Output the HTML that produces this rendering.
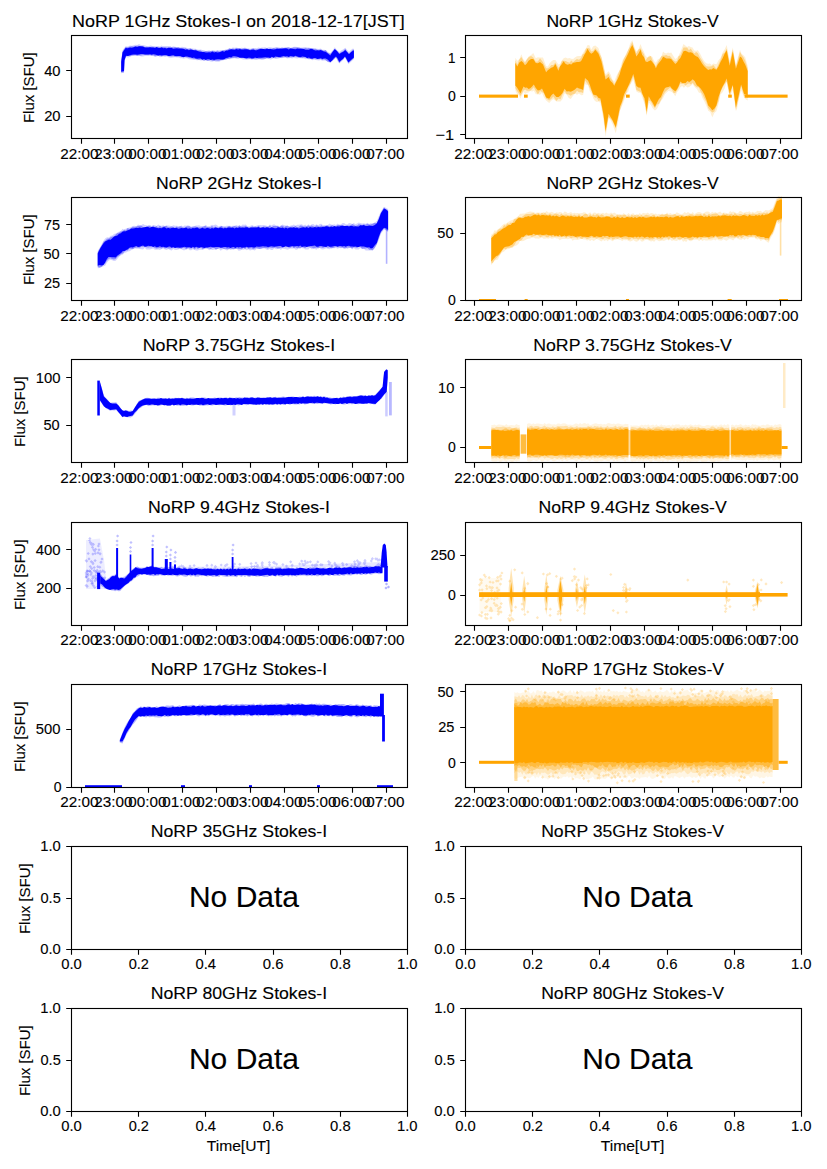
<!DOCTYPE html>
<html><head><meta charset="utf-8"><style>
html,body{margin:0;padding:0;background:#fff;}
svg{display:block;}
text{font-family:"Liberation Sans",sans-serif;fill:#000;stroke:#000;stroke-width:0.12px;}
</style></head><body>
<svg width="827" height="1169" viewBox="0 0 827 1169">
<rect width="827" height="1169" fill="#fff"/>
<polygon points="121.2,60.4 122.5,50.2 125.6,46.3 127.8,46.5 130.0,45.5 131.8,45.8 133.6,45.3 135.4,44.7 137.2,45.0 139.0,44.1 141.0,45.1 143.0,45.1 145.0,45.5 146.7,45.9 148.3,46.4 150.0,45.5 151.7,45.7 153.3,46.2 155.0,46.5 156.7,46.1 158.3,45.9 160.0,46.6 161.7,45.5 163.3,46.6 165.0,46.0 166.7,45.9 168.3,45.9 170.0,46.2 171.7,46.9 173.3,46.2 175.0,46.8 176.7,47.0 178.5,46.9 180.2,47.3 181.9,46.8 183.7,47.0 185.4,47.3 187.1,48.1 188.9,47.9 190.6,48.0 192.3,48.6 194.0,48.7 195.6,48.7 197.3,49.6 199.0,49.7 200.7,49.4 202.3,50.1 204.0,50.3 205.7,51.0 207.4,50.8 209.1,50.2 210.7,51.1 212.4,50.0 214.1,50.4 215.8,50.8 217.4,50.1 219.1,50.5 220.8,49.9 222.5,50.3 224.3,50.0 226.0,49.3 227.7,49.2 229.4,48.1 231.2,48.2 232.9,47.6 234.6,47.7 236.3,47.6 238.1,48.1 239.8,48.3 241.5,47.8 243.2,48.1 244.9,47.5 246.7,48.3 248.4,48.3 250.1,48.8 251.8,48.5 253.5,47.9 255.1,47.9 256.8,48.2 258.5,47.4 260.2,47.9 261.8,47.5 263.5,47.4 265.2,47.3 266.9,48.1 268.6,47.2 270.2,47.3 271.9,47.4 273.6,47.9 275.3,46.9 276.9,47.3 278.6,47.3 280.3,47.7 282.0,47.6 283.7,47.6 285.4,46.9 287.1,47.1 288.7,47.0 290.4,47.7 292.1,47.7 293.8,46.8 295.5,46.8 297.2,46.9 298.9,47.0 300.5,47.4 302.2,47.6 303.9,47.2 305.6,47.0 307.2,47.6 308.9,47.6 310.6,47.9 312.3,48.6 314.0,48.5 315.6,48.5 317.3,48.8 319.0,49.1 320.7,48.5 322.3,49.8 324.0,49.8 325.7,50.1 327.9,51.9 330.2,53.3 332.5,50.5 334.8,47.3 337.1,50.3 339.3,51.9 341.3,50.5 343.3,49.3 345.3,47.8 347.1,50.1 349.0,51.9 350.9,50.1 352.9,48.6 353.9,49.0 353.9,59.0 351.0,61.7 348.4,64.3 346.7,60.7 345.0,57.7 343.1,60.0 341.2,61.8 339.3,63.6 337.6,61.2 336.0,57.0 334.1,59.2 332.1,61.5 330.2,62.9 327.9,62.0 325.7,60.5 324.0,60.4 322.3,60.8 320.7,60.1 319.0,60.6 317.3,60.2 315.6,59.9 314.0,59.7 312.3,60.3 310.6,59.3 308.9,59.4 307.2,59.0 305.6,59.2 303.9,58.6 302.2,58.5 300.5,58.2 298.9,58.0 297.2,58.5 295.5,58.3 293.8,57.9 292.1,58.5 290.4,58.0 288.7,58.2 287.1,58.6 285.4,57.5 283.7,57.7 282.0,58.2 280.3,58.0 278.6,58.5 276.9,59.0 275.3,59.0 273.6,58.3 271.9,59.2 270.2,59.5 268.6,58.7 266.9,58.8 265.2,59.0 263.5,59.7 261.8,60.0 260.2,59.4 258.5,59.4 256.8,60.1 255.1,60.0 253.5,59.4 251.8,60.0 250.1,59.3 248.4,59.5 246.7,59.7 244.9,59.6 243.2,59.6 241.5,59.1 239.8,58.3 238.1,59.0 236.3,58.7 234.6,58.3 232.9,58.6 231.2,59.1 229.4,59.2 227.7,59.1 226.0,59.6 224.3,60.0 222.5,60.4 220.8,61.0 219.1,61.7 217.4,61.8 215.8,61.7 214.1,61.1 212.4,61.7 210.7,61.4 209.1,60.9 207.4,60.9 205.7,60.6 204.0,60.4 202.3,60.5 200.7,60.5 199.0,59.9 197.3,60.3 195.6,60.1 194.0,59.9 192.3,59.7 190.6,59.6 188.9,59.2 187.1,58.3 185.4,58.3 183.7,58.7 181.9,58.2 180.2,58.3 178.5,57.4 176.7,57.5 175.0,57.2 173.3,57.6 171.7,57.8 170.0,57.8 168.3,57.2 166.7,56.5 165.0,57.0 163.3,56.5 161.7,56.8 160.0,57.2 158.3,56.0 156.7,56.1 155.0,56.9 153.3,56.1 151.7,56.1 150.0,55.8 148.3,55.7 146.7,56.1 145.0,56.0 143.0,56.6 141.0,56.4 139.0,55.5 137.2,56.0 135.4,56.1 133.6,56.1 131.8,56.1 130.0,56.8 128.0,57.6 126.0,57.0 124.5,61.4 124.0,72.8 121.2,73.3" fill="#0000ff" fill-opacity="0.18"/>
<polygon points="121.2,61.2 122.5,51.5 125.6,47.0 127.8,47.2 130.0,46.5 131.8,46.3 133.6,46.6 135.4,46.0 137.2,45.8 139.0,45.8 141.0,46.4 143.0,46.3 145.0,46.9 146.7,46.8 148.3,46.8 150.0,47.0 151.7,46.7 153.3,46.8 155.0,46.8 156.7,47.3 158.3,47.0 160.0,47.3 161.7,47.4 163.3,46.7 165.0,47.1 166.7,47.6 168.3,47.6 170.0,46.8 171.7,46.9 173.3,47.4 175.0,47.0 176.7,47.4 178.5,47.3 180.2,48.2 181.9,48.5 183.7,48.8 185.4,48.1 187.1,48.9 188.9,49.0 190.6,48.6 192.3,49.7 194.0,50.1 195.6,49.4 197.3,50.6 199.0,50.2 200.7,50.5 202.3,51.4 204.0,51.4 205.7,50.9 207.4,51.2 209.1,51.3 210.7,51.1 212.4,50.9 214.1,51.1 215.8,51.6 217.4,50.7 219.1,51.4 220.8,51.2 222.5,50.3 224.3,50.2 226.0,50.2 227.7,49.6 229.4,48.6 231.2,49.3 232.9,48.6 234.6,48.9 236.3,48.0 238.1,48.2 239.8,48.0 241.5,49.0 243.2,48.4 244.9,48.3 246.7,48.8 248.4,49.4 250.1,49.4 251.8,48.7 253.5,48.5 255.1,49.4 256.8,48.9 258.5,49.0 260.2,48.2 261.8,48.2 263.5,48.9 265.2,48.5 266.9,48.0 268.6,49.0 270.2,48.6 271.9,48.7 273.6,47.8 275.3,48.6 276.9,47.6 278.6,48.5 280.3,47.9 282.0,47.8 283.7,48.1 285.4,48.5 287.1,47.7 288.7,47.6 290.4,48.0 292.1,47.7 293.8,47.5 295.5,47.6 297.2,47.5 298.9,47.8 300.5,48.0 302.2,48.0 303.9,48.6 305.6,48.1 307.2,48.5 308.9,48.1 310.6,48.4 312.3,48.2 314.0,48.7 315.6,48.7 317.3,49.7 319.0,49.7 320.7,49.5 322.3,50.0 324.0,50.8 325.7,50.0 327.9,52.7 330.2,54.1 332.5,51.4 334.8,49.0 337.1,50.8 339.3,53.2 341.3,52.0 343.3,51.0 345.3,48.8 347.1,51.5 349.0,53.4 350.9,51.7 352.9,49.7 353.9,49.8 353.9,58.2 351.0,60.8 348.4,63.1 346.7,60.2 345.0,56.5 343.1,59.5 341.2,60.7 339.3,62.9 337.6,59.9 336.0,57.4 334.1,59.2 332.1,60.7 330.2,62.1 327.9,61.7 325.7,60.3 324.0,59.3 322.3,60.0 320.7,59.0 319.0,59.3 317.3,59.2 315.6,59.2 314.0,58.8 312.3,59.2 310.6,59.1 308.9,58.9 307.2,58.2 305.6,57.8 303.9,57.5 302.2,58.0 300.5,57.5 298.9,57.8 297.2,57.0 295.5,56.7 293.8,56.6 292.1,57.3 290.4,57.3 288.7,57.6 287.1,57.5 285.4,57.3 283.7,57.2 282.0,57.4 280.3,58.0 278.6,57.8 276.9,57.3 275.3,58.1 273.6,57.7 271.9,57.6 270.2,57.9 268.6,58.6 266.9,57.9 265.2,58.8 263.5,58.7 261.8,58.7 260.2,59.0 258.5,59.1 256.8,58.2 255.1,58.8 253.5,59.1 251.8,59.0 250.1,59.1 248.4,58.8 246.7,59.0 244.9,58.0 243.2,58.1 241.5,57.7 239.8,57.4 238.1,57.5 236.3,57.9 234.6,57.8 232.9,57.9 231.2,57.9 229.4,58.6 227.7,59.1 226.0,59.5 224.3,59.5 222.5,60.0 220.8,60.0 219.1,60.8 217.4,60.7 215.8,60.6 214.1,60.9 212.4,60.8 210.7,59.9 209.1,60.6 207.4,60.7 205.7,60.0 204.0,60.7 202.3,59.7 200.7,59.5 199.0,59.9 197.3,59.4 195.6,59.1 194.0,59.0 192.3,58.5 190.6,58.3 188.9,57.7 187.1,57.6 185.4,57.1 183.7,57.0 181.9,57.2 180.2,56.7 178.5,56.8 176.7,56.3 175.0,56.7 173.3,56.3 171.7,56.5 170.0,56.4 168.3,56.2 166.7,55.7 165.0,56.0 163.3,55.8 161.7,56.5 160.0,55.6 158.3,55.9 156.7,56.3 155.0,56.2 153.3,55.3 151.7,55.4 150.0,55.0 148.3,55.3 146.7,55.0 145.0,54.9 143.0,54.9 141.0,55.4 139.0,55.6 137.2,55.7 135.4,55.0 133.6,55.2 131.8,55.5 130.0,56.2 128.0,55.8 126.0,56.4 124.5,60.3 124.0,72.3 121.2,72.5" fill="#0000ff" fill-opacity="0.35"/>
<polygon points="121.2,62.0 122.5,52.5 125.6,47.9 127.8,48.3 130.0,47.6 131.8,47.8 133.6,47.3 135.4,46.5 137.2,47.0 139.0,46.3 141.0,46.2 143.0,46.6 145.0,47.6 146.7,47.5 148.3,47.4 150.0,47.2 151.7,47.4 153.3,47.4 155.0,48.0 156.7,47.0 158.3,47.9 160.0,48.0 161.7,47.2 163.3,48.3 165.0,48.1 166.7,48.4 168.3,47.7 170.0,47.9 171.7,48.0 173.3,48.8 175.0,48.4 176.7,48.3 178.5,48.5 180.2,48.5 181.9,48.4 183.7,48.7 185.4,49.7 187.1,49.2 188.9,50.2 190.6,49.5 192.3,49.8 194.0,50.3 195.6,50.2 197.3,50.7 199.0,51.6 200.7,51.8 202.3,52.0 204.0,52.0 205.7,52.6 207.4,52.6 209.1,52.2 210.7,52.4 212.4,51.6 214.1,52.4 215.8,52.0 217.4,52.4 219.1,52.3 220.8,51.8 222.5,51.1 224.3,51.8 226.0,50.4 227.7,50.4 229.4,49.8 231.2,49.3 232.9,49.4 234.6,49.7 236.3,49.0 238.1,49.5 239.8,49.1 241.5,49.5 243.2,49.4 244.9,49.2 246.7,49.3 248.4,49.4 250.1,50.3 251.8,49.8 253.5,49.4 255.1,50.2 256.8,50.2 258.5,49.5 260.2,49.1 261.8,49.1 263.5,49.0 265.2,49.2 266.9,48.8 268.6,49.0 270.2,48.9 271.9,49.2 273.6,49.5 275.3,49.3 276.9,48.8 278.6,48.8 280.3,48.8 282.0,48.7 283.7,48.6 285.4,48.3 287.1,48.5 288.7,49.4 290.4,48.4 292.1,48.8 293.8,49.0 295.5,49.2 297.2,48.5 298.9,48.7 300.5,48.7 302.2,48.9 303.9,49.1 305.6,49.7 307.2,49.7 308.9,49.8 310.6,48.8 312.3,49.0 314.0,50.1 315.6,50.5 317.3,50.2 319.0,50.6 320.7,50.1 322.3,50.7 324.0,51.6 325.7,51.7 327.9,53.6 330.2,55.6 332.5,51.9 334.8,48.9 337.1,51.3 339.3,54.0 341.3,52.8 343.3,51.7 345.3,50.1 347.1,52.1 349.0,54.3 350.9,52.2 352.9,50.7 353.9,50.6 353.9,57.4 351.0,59.9 348.4,62.4 346.7,59.2 345.0,56.5 343.1,58.7 341.2,60.2 339.3,62.1 337.6,58.6 336.0,56.5 334.1,58.1 332.1,60.4 330.2,62.2 327.9,59.8 325.7,58.6 324.0,58.6 322.3,59.0 320.7,58.3 319.0,58.7 317.3,59.0 315.6,58.1 314.0,58.1 312.3,58.7 310.6,58.4 308.9,57.6 307.2,58.2 305.6,57.0 303.9,56.7 302.2,56.5 300.5,57.2 298.9,57.1 297.2,56.4 295.5,55.7 293.8,56.8 292.1,56.2 290.4,56.0 288.7,56.9 287.1,56.3 285.4,56.5 283.7,56.0 282.0,56.5 280.3,57.0 278.6,57.1 276.9,56.7 275.3,56.6 273.6,57.7 271.9,56.8 270.2,57.9 268.6,57.4 266.9,57.4 265.2,57.2 263.5,57.4 261.8,57.7 260.2,57.7 258.5,57.8 256.8,58.2 255.1,57.4 253.5,58.3 251.8,58.6 250.1,57.7 248.4,57.7 246.7,58.3 244.9,58.2 243.2,57.8 241.5,57.8 239.8,57.7 238.1,56.9 236.3,56.4 234.6,56.2 232.9,56.2 231.2,57.6 229.4,57.1 227.7,57.8 226.0,57.9 224.3,59.3 222.5,59.4 220.8,59.5 219.1,59.3 217.4,59.2 215.8,59.6 214.1,60.1 212.4,59.4 210.7,59.9 209.1,59.3 207.4,59.3 205.7,60.0 204.0,59.1 202.3,59.7 200.7,58.5 199.0,58.6 197.3,58.7 195.6,58.5 194.0,57.5 192.3,57.9 190.6,57.3 188.9,57.0 187.1,56.5 185.4,56.6 183.7,57.2 181.9,56.8 180.2,56.1 178.5,56.1 176.7,56.3 175.0,55.9 173.3,55.2 171.7,55.5 170.0,55.9 168.3,56.1 166.7,55.2 165.0,55.0 163.3,55.2 161.7,55.6 160.0,55.3 158.3,55.6 156.7,54.9 155.0,54.6 153.3,54.2 151.7,54.8 150.0,54.3 148.3,54.4 146.7,54.6 145.0,54.4 143.0,53.9 141.0,53.9 139.0,54.6 137.2,54.7 135.4,54.4 133.6,54.4 131.8,54.7 130.0,55.3 128.0,56.1 126.0,55.7 124.5,60.3 124.0,71.1 121.2,71.7" fill="#0000ff"/>
<rect x="479.0" y="94.6" width="39.0" height="3.1" fill="#ffa500"/>
<rect x="524.0" y="94.6" width="3.7" height="3.1" fill="#ffa500"/>
<rect x="626.0" y="94.6" width="3.7" height="3.1" fill="#ffa500"/>
<rect x="728.2" y="94.6" width="3.6" height="3.1" fill="#ffa500"/>
<rect x="744.7" y="94.6" width="42.9" height="3.1" fill="#ffa500"/>
<polygon points="515.3,57.7 517.3,60.8 519.3,59.3 521.4,54.2 523.2,58.9 525.0,61.5 526.8,59.2 528.6,56.5 531.0,55.0 533.3,53.1 535.8,58.3 537.9,57.3 540.0,57.5 543.0,57.5 546.1,66.1 547.8,66.4 549.5,63.5 551.2,61.6 553.3,60.0 555.4,60.0 558.4,64.5 560.1,63.7 561.9,60.6 563.6,58.2 565.7,57.5 567.7,58.6 569.5,58.1 571.3,58.7 573.1,58.9 574.9,57.5 576.9,56.2 579.0,56.1 581.0,56.1 582.6,53.4 584.3,50.8 586.0,48.3 587.6,44.9 589.4,45.3 591.2,49.5 593.2,46.3 595.3,45.6 598.4,48.1 601.4,56.4 603.5,64.5 605.6,74.4 608.6,71.3 610.5,74.2 612.4,79.5 614.3,81.6 616.1,76.8 617.9,72.9 619.6,70.2 621.3,64.3 623.0,59.0 624.7,57.0 626.5,52.7 628.2,50.0 630.2,43.2 632.3,40.2 634.3,46.4 636.4,51.6 638.5,49.2 640.5,44.0 642.2,48.5 643.9,51.8 645.6,55.8 647.3,57.5 649.1,55.6 650.8,56.0 652.5,57.1 654.2,61.3 655.9,62.7 657.7,59.6 659.5,58.6 661.3,56.5 663.1,51.4 664.7,53.1 666.3,53.4 668.0,52.4 669.6,53.0 671.2,52.5 673.2,55.8 675.3,59.1 677.0,57.7 678.7,55.5 680.4,51.7 683.5,43.9 685.3,45.4 687.1,47.0 688.9,46.0 690.7,46.9 692.5,47.6 694.3,50.4 696.1,50.7 697.9,50.3 700.0,53.5 702.0,57.4 704.1,61.0 706.2,63.3 708.2,63.8 709.9,63.6 711.6,64.9 713.3,63.6 716.4,64.3 718.5,60.3 720.5,58.1 722.6,52.4 724.6,49.4 726.7,45.0 729.7,60.5 732.8,47.5 735.9,65.4 738.0,56.8 740.0,49.7 741.7,54.0 743.5,55.2 745.2,57.3 747.7,66.0 747.7,100.6 745.9,99.6 744.1,97.5 741.1,90.2 739.0,97.9 737.0,109.0 735.9,111.0 732.8,90.1 729.7,97.2 726.7,81.9 724.6,88.6 722.6,92.3 720.5,94.5 718.5,103.9 716.4,111.3 714.3,112.9 712.3,117.4 710.2,112.0 708.2,110.8 706.2,105.4 704.1,101.1 702.4,97.9 700.6,93.0 698.9,92.8 696.8,89.0 694.8,87.3 692.7,83.9 690.9,85.8 689.2,87.1 687.4,87.5 685.6,86.0 683.9,87.7 682.1,85.9 680.4,87.3 678.7,90.2 677.0,92.2 675.3,96.3 673.6,93.7 671.8,91.9 670.1,91.3 668.4,91.1 666.7,92.6 665.0,94.2 663.0,98.3 661.0,100.9 659.0,105.1 656.9,108.9 654.9,110.6 652.8,108.4 650.8,105.0 648.7,102.2 646.7,115.8 644.6,103.9 642.5,98.3 640.5,92.8 638.5,92.8 636.4,91.6 633.3,79.4 630.2,85.1 628.2,91.7 626.1,93.7 624.1,100.4 622.0,106.0 620.0,110.6 617.9,123.4 615.8,133.2 612.7,124.5 610.7,120.6 608.6,117.8 605.6,136.7 603.5,119.9 600.4,102.9 598.6,101.5 596.8,102.1 595.0,100.9 593.2,98.3 591.5,93.6 589.8,91.2 588.1,85.2 585.0,84.2 583.1,94.9 581.1,95.3 579.0,93.4 577.0,94.7 574.9,93.5 572.9,96.1 570.8,99.0 568.7,97.9 566.7,94.4 564.6,93.6 562.5,99.0 560.5,101.5 558.5,101.6 556.4,101.5 553.3,98.9 551.2,100.7 549.2,103.0 546.1,100.6 544.0,97.6 542.0,93.0 540.0,94.8 537.9,94.3 535.8,94.2 533.8,90.8 532.1,91.6 530.3,90.9 528.6,92.4 526.9,92.9 525.2,93.9 523.5,92.1 520.4,98.6 518.7,95.0 517.0,94.0 515.3,90.4" fill="#ffa500" fill-opacity="0.18"/>
<polygon points="515.3,60.2 517.3,64.6 519.3,59.6 521.4,57.0 523.2,60.5 525.0,62.8 526.8,59.4 528.6,57.2 531.0,56.1 533.3,57.4 535.8,61.8 537.9,61.4 540.0,58.2 543.0,62.2 546.1,68.3 547.8,68.2 549.5,67.2 551.2,65.0 553.3,65.0 555.4,62.5 558.4,67.7 560.1,65.9 561.9,60.8 563.6,60.7 565.7,61.1 567.7,62.0 569.5,62.7 571.3,60.5 573.1,62.2 574.9,60.4 576.9,59.1 579.0,59.7 581.0,58.0 582.6,54.4 584.3,53.3 586.0,48.4 587.6,47.9 589.4,48.2 591.2,51.4 593.2,50.9 595.3,48.2 598.4,51.5 601.4,57.6 603.5,66.5 605.6,76.3 608.6,73.5 610.5,78.0 612.4,80.6 614.3,83.9 616.1,81.0 617.9,74.6 619.6,70.4 621.3,67.2 623.0,60.9 624.7,57.0 626.5,54.3 628.2,49.8 630.2,46.5 632.3,42.0 634.3,48.2 636.4,53.4 638.5,49.6 640.5,48.3 642.2,51.6 643.9,54.3 645.6,60.5 647.3,57.8 649.1,56.8 650.8,56.0 652.5,60.3 654.2,63.8 655.9,66.2 657.7,62.5 659.5,59.5 661.3,56.2 663.1,55.5 664.7,55.5 666.3,55.1 668.0,56.1 669.6,55.7 671.2,57.4 673.2,59.9 675.3,61.5 677.0,61.1 678.7,56.1 680.4,55.2 683.5,47.6 685.3,47.6 687.1,47.6 688.9,50.3 690.7,48.5 692.5,51.2 694.3,53.4 696.1,52.0 697.9,53.2 700.0,57.5 702.0,60.3 704.1,63.7 706.2,66.3 708.2,66.5 709.9,66.6 711.6,66.2 713.3,65.0 716.4,68.7 718.5,64.2 720.5,59.8 722.6,54.0 724.6,52.7 726.7,48.6 729.7,63.2 732.8,49.6 735.9,66.3 738.0,58.9 740.0,51.9 741.7,55.0 743.5,57.2 745.2,60.8 747.7,68.5 747.7,98.1 745.9,96.6 744.1,96.1 741.1,85.9 739.0,96.9 737.0,105.3 735.9,109.5 732.8,85.3 729.7,96.5 726.7,81.5 724.6,83.9 722.6,87.4 720.5,92.0 718.5,101.2 716.4,106.2 714.3,111.5 712.3,112.6 710.2,110.6 708.2,108.0 706.2,101.8 704.1,97.9 702.4,94.2 700.6,91.4 698.9,87.5 696.8,87.2 694.8,85.8 692.7,82.7 690.9,84.6 689.2,83.2 687.4,83.9 685.6,85.4 683.9,84.1 682.1,84.1 680.4,83.4 678.7,87.6 677.0,90.4 675.3,93.1 673.6,93.1 671.8,89.4 670.1,87.7 668.4,88.9 666.7,90.6 665.0,91.9 663.0,95.5 661.0,100.1 659.0,103.7 656.9,104.7 654.9,108.3 652.8,105.2 650.8,101.5 648.7,100.5 646.7,114.7 644.6,102.3 642.5,94.7 640.5,92.1 638.5,90.9 636.4,89.9 633.3,76.2 630.2,84.0 628.2,86.9 626.1,93.3 624.1,97.7 622.0,103.7 620.0,110.1 617.9,118.4 615.8,128.6 612.7,121.7 610.7,118.7 608.6,116.9 605.6,132.9 603.5,116.3 600.4,100.1 598.6,101.2 596.8,97.4 595.0,97.7 593.2,95.2 591.5,91.4 589.8,88.0 588.1,84.4 585.0,80.5 583.1,93.1 581.1,92.2 579.0,92.3 577.0,90.8 574.9,93.7 572.9,94.2 570.8,95.7 568.7,94.5 566.7,94.3 564.6,91.2 562.5,94.5 560.5,99.2 558.5,98.6 556.4,100.9 553.3,96.4 551.2,98.9 549.2,100.4 546.1,98.5 544.0,93.6 542.0,92.0 540.0,91.1 537.9,94.4 535.8,90.9 533.8,87.2 532.1,89.0 530.3,90.8 528.6,90.7 526.9,90.7 525.2,89.5 523.5,90.5 520.4,96.1 518.7,93.3 517.0,91.0 515.3,87.9" fill="#ffa500" fill-opacity="0.35"/>
<polygon points="515.3,62.7 517.3,66.5 519.3,62.5 521.4,61.1 523.2,62.6 525.0,65.2 526.8,63.6 528.6,60.7 531.0,58.9 533.3,58.9 535.8,63.0 537.9,63.3 540.0,62.1 543.0,64.4 546.1,72.3 547.8,70.3 549.5,69.1 551.2,67.7 553.3,67.1 555.4,64.0 558.4,70.8 560.1,66.3 561.9,63.9 563.6,61.2 565.7,64.1 567.7,64.8 569.5,64.0 571.3,64.5 573.1,62.7 574.9,62.6 576.9,62.1 579.0,61.9 581.0,61.2 582.6,58.2 584.3,54.7 586.0,51.9 587.6,48.7 589.4,52.1 591.2,53.8 593.2,52.4 595.3,49.7 598.4,53.4 601.4,61.2 603.5,70.6 605.6,79.5 608.6,77.0 610.5,81.0 612.4,82.8 614.3,85.8 616.1,81.9 617.9,78.6 619.6,74.4 621.3,68.6 623.0,64.1 624.7,60.5 626.5,56.9 628.2,53.5 630.2,48.7 632.3,45.0 634.3,49.8 636.4,56.6 638.5,53.5 640.5,49.6 642.2,55.1 643.9,57.1 645.6,61.5 647.3,62.0 649.1,61.0 650.8,60.2 652.5,62.3 654.2,64.6 655.9,68.2 657.7,64.5 659.5,62.2 661.3,60.0 663.1,56.7 664.7,57.6 666.3,58.6 668.0,58.6 669.6,58.4 671.2,58.9 673.2,61.6 675.3,64.1 677.0,62.6 678.7,59.8 680.4,58.1 683.5,51.2 685.3,50.8 687.1,51.6 688.9,52.5 690.7,52.3 692.5,53.0 694.3,55.0 696.1,56.3 697.9,57.1 700.0,60.1 702.0,63.4 704.1,66.2 706.2,68.2 708.2,69.9 709.9,69.3 711.6,69.5 713.3,68.1 716.4,69.8 718.5,66.4 720.5,62.1 722.6,58.2 724.6,53.7 726.7,50.2 729.7,65.7 732.8,51.6 735.9,68.7 738.0,62.6 740.0,56.5 741.7,57.7 743.5,61.4 745.2,64.4 747.7,71.0 747.7,95.6 745.9,94.5 744.1,94.1 741.1,84.4 739.0,93.9 737.0,102.2 735.9,107.7 732.8,84.9 729.7,93.4 726.7,78.5 724.6,82.9 722.6,86.6 720.5,91.3 718.5,97.0 716.4,105.5 714.3,108.8 712.3,110.3 710.2,107.6 708.2,105.5 706.2,99.2 704.1,93.9 702.4,91.1 700.6,88.6 698.9,86.7 696.8,85.2 694.8,81.3 692.7,79.2 690.9,81.0 689.2,81.9 687.4,81.1 685.6,82.9 683.9,83.1 682.1,83.0 680.4,81.4 678.7,86.1 677.0,89.3 675.3,91.2 673.6,90.1 671.8,88.4 670.1,86.3 668.4,87.0 666.7,87.3 665.0,87.9 663.0,92.1 661.0,97.1 659.0,99.1 656.9,102.9 654.9,106.9 652.8,103.1 650.8,99.9 648.7,96.2 646.7,111.7 644.6,98.4 642.5,94.2 640.5,87.7 638.5,87.5 636.4,86.0 633.3,74.0 630.2,81.8 628.2,86.3 626.1,90.4 624.1,94.3 622.0,101.7 620.0,106.5 617.9,117.4 615.8,127.4 612.7,120.6 610.7,117.3 608.6,113.7 605.6,130.9 603.5,114.6 600.4,98.5 598.6,98.0 596.8,95.6 595.0,94.9 593.2,94.5 591.5,89.9 589.8,84.8 588.1,80.7 585.0,77.9 583.1,89.9 581.1,89.0 579.0,88.6 577.0,87.4 574.9,89.6 572.9,90.7 570.8,91.7 568.7,91.3 566.7,91.5 564.6,88.7 562.5,93.1 560.5,95.4 558.5,97.0 556.4,97.1 553.3,93.5 551.2,95.5 549.2,98.7 546.1,97.4 544.0,92.8 542.0,88.4 540.0,89.9 537.9,90.6 535.8,88.1 533.8,84.6 532.1,86.4 530.3,88.3 528.6,89.0 526.9,87.4 525.2,87.8 523.5,86.5 520.4,93.5 518.7,90.2 517.0,87.6 515.3,85.4" fill="#ffa500"/>
<polygon points="97.7,251.0 100.3,246.7 102.0,243.6 103.7,240.6 105.4,238.2 107.1,237.3 108.9,237.4 110.6,235.8 112.3,235.6 114.0,233.9 115.7,233.6 117.4,232.6 119.1,231.6 120.8,231.2 122.5,228.8 124.2,229.8 125.9,228.4 127.7,227.9 129.4,227.4 131.1,227.1 132.8,225.9 134.5,225.7 136.2,226.5 138.0,224.5 139.7,225.3 141.4,225.1 143.1,223.9 144.8,225.1 146.4,225.3 148.1,225.9 149.8,224.7 151.5,226.1 153.2,225.2 154.8,225.2 156.5,226.1 158.2,224.4 159.9,225.8 161.6,225.7 163.2,225.2 164.9,226.3 166.6,225.4 168.3,225.6 170.0,225.8 171.6,226.3 173.3,225.3 175.0,225.8 176.6,225.7 178.2,226.0 179.8,226.5 181.4,225.4 183.0,226.5 184.7,225.6 186.3,225.8 187.9,225.3 189.5,225.8 191.1,226.7 192.7,226.1 194.3,226.3 195.9,225.4 197.5,225.4 199.1,225.3 200.8,225.9 202.4,226.0 204.0,226.2 205.6,224.7 207.2,226.1 208.8,226.4 210.4,225.7 212.0,224.7 213.6,225.2 215.2,224.6 216.9,225.0 218.5,226.4 220.1,225.8 221.7,225.9 223.3,226.1 224.9,226.3 226.5,225.7 228.1,225.7 229.7,225.7 231.3,225.9 233.0,225.7 234.6,225.8 236.2,224.9 237.8,225.8 239.4,225.3 241.0,225.9 242.6,224.6 244.2,224.8 245.8,224.5 247.4,225.9 249.0,226.2 250.6,225.7 252.2,225.1 253.8,226.0 255.4,226.0 257.0,225.5 258.6,224.9 260.2,225.0 261.8,225.2 263.4,225.0 265.0,225.3 266.6,225.7 268.2,226.3 269.9,224.5 271.5,225.5 273.1,224.5 274.7,224.6 276.3,226.0 277.9,225.6 279.5,226.2 281.1,225.3 282.7,224.4 284.3,225.2 285.9,225.6 287.5,226.3 289.1,226.4 290.7,225.4 292.3,225.2 293.9,224.6 295.5,225.7 297.1,224.8 298.7,224.7 300.3,224.4 301.9,224.3 303.6,225.6 305.2,224.4 306.8,226.1 308.4,224.3 310.0,225.8 311.7,224.2 313.3,224.0 314.9,225.3 316.5,224.3 318.2,225.2 319.8,224.1 321.4,223.8 323.0,225.2 324.6,225.0 326.3,225.2 327.9,224.9 329.5,223.6 331.1,224.6 332.7,224.7 334.4,224.2 336.0,225.1 337.6,223.6 339.2,225.0 340.8,224.5 342.5,223.0 344.1,223.0 345.7,224.2 347.3,224.5 349.0,222.9 350.6,223.3 352.2,224.1 353.8,222.9 355.4,224.3 357.1,223.5 358.7,222.6 360.3,223.1 362.1,223.5 363.8,223.3 365.6,223.8 367.4,222.7 369.2,224.0 370.9,223.1 372.7,223.7 374.8,222.6 376.8,221.1 378.9,215.9 380.9,211.6 384.0,206.8 386.1,208.0 388.1,209.0 388.1,232.3 386.1,230.4 384.0,229.6 380.9,233.7 378.9,239.8 376.8,244.6 374.8,248.3 372.7,250.5 370.9,250.4 369.2,250.5 367.4,250.6 365.6,250.5 363.8,248.5 362.1,248.9 360.3,248.0 358.7,249.5 357.1,249.4 355.4,249.6 353.8,248.1 352.2,249.6 350.6,247.8 349.0,248.1 347.3,249.1 345.7,247.7 344.1,249.1 342.5,248.0 340.8,248.2 339.2,248.0 337.6,248.7 336.0,247.9 334.4,248.2 332.7,248.3 331.1,247.9 329.5,249.2 327.9,248.9 326.3,248.3 324.6,249.1 323.0,249.6 321.4,249.2 319.8,248.0 318.2,247.8 316.5,249.7 314.9,249.0 313.3,249.1 311.7,249.3 310.0,247.8 308.4,249.4 306.8,249.5 305.2,249.5 303.6,248.4 301.9,248.2 300.3,247.8 298.7,248.1 297.1,249.7 295.5,249.7 293.8,248.1 292.2,248.7 290.6,248.6 289.0,249.2 287.3,249.8 285.7,249.2 284.1,249.1 282.5,248.5 280.8,249.9 279.2,248.3 277.6,248.9 276.0,249.3 274.3,248.3 272.7,250.0 271.1,250.1 269.5,249.1 267.9,250.0 266.2,249.4 264.6,248.4 263.0,248.5 261.4,248.7 259.7,248.8 258.1,248.5 256.5,249.0 254.9,250.4 253.2,250.1 251.6,250.1 250.0,250.5 248.4,249.4 246.7,250.2 245.1,249.2 243.5,249.8 241.9,249.7 240.2,250.5 238.6,250.8 237.0,248.9 235.4,248.8 233.7,249.8 232.1,249.5 230.5,250.0 228.8,249.1 227.2,250.4 225.6,250.0 223.9,249.0 222.3,249.5 220.7,250.8 219.1,248.9 217.4,249.1 215.8,249.8 214.2,249.6 212.5,249.9 210.9,249.5 209.3,250.2 207.6,249.1 206.0,249.1 204.4,249.1 202.7,249.9 201.1,249.7 199.5,249.8 197.8,250.5 196.2,250.5 194.6,249.9 192.9,249.2 191.3,250.3 189.7,250.3 188.1,248.9 186.4,249.6 184.8,250.3 183.2,250.2 181.5,249.2 179.9,249.1 178.3,249.6 176.6,250.1 175.0,249.9 173.3,249.1 171.6,250.5 170.0,250.0 168.3,248.9 166.6,250.0 164.9,249.5 163.2,248.5 161.6,249.0 159.9,250.0 158.2,249.5 156.5,249.7 154.8,249.7 153.2,248.5 151.5,249.1 149.8,249.6 148.1,249.4 146.4,249.4 144.8,247.8 143.1,249.4 141.4,249.2 139.7,249.0 138.0,248.8 136.2,248.7 134.5,248.3 132.8,249.1 131.1,250.3 129.5,251.3 127.8,251.5 126.2,252.5 124.5,252.7 122.9,254.6 121.1,255.2 119.3,256.5 117.5,258.7 115.7,260.7 113.9,261.0 112.1,260.2 110.3,259.7 108.5,260.7 106.8,262.8 105.1,265.7 103.4,266.2 101.5,267.1 99.6,268.0 97.7,268.2" fill="#0000ff" fill-opacity="0.18"/>
<polygon points="97.7,252.2 100.3,247.5 102.0,244.8 103.7,241.6 105.4,240.6 107.1,238.8 108.9,238.4 110.6,237.2 112.3,236.4 114.0,236.5 115.7,234.5 117.4,233.1 119.1,232.7 120.8,231.3 122.5,231.8 124.2,229.6 125.9,230.6 127.7,228.1 129.4,229.1 131.1,227.9 132.8,226.8 134.5,227.0 136.2,226.4 138.0,226.0 139.7,225.7 141.4,225.7 143.1,227.0 144.8,227.1 146.4,227.0 148.1,225.4 149.8,225.9 151.5,227.1 153.2,225.5 154.8,226.9 156.5,226.1 158.2,227.5 159.9,225.6 161.6,227.3 163.2,226.4 164.9,226.1 166.6,225.8 168.3,227.5 170.0,227.0 171.6,226.4 173.3,226.9 175.0,227.9 176.6,226.5 178.2,227.2 179.8,226.3 181.4,226.4 183.0,227.6 184.7,227.5 186.3,226.4 187.9,226.2 189.5,226.2 191.1,227.2 192.7,227.0 194.3,226.5 195.9,226.4 197.5,227.2 199.1,227.3 200.8,227.5 202.4,227.1 204.0,226.3 205.6,226.0 207.2,227.3 208.8,226.7 210.4,227.3 212.0,225.9 213.6,227.4 215.2,226.5 216.9,227.5 218.5,227.5 220.1,226.7 221.7,225.8 223.3,227.6 224.9,226.7 226.5,227.5 228.1,226.2 229.7,226.1 231.3,227.3 233.0,226.4 234.6,226.0 236.2,226.4 237.8,226.8 239.4,225.6 241.0,226.6 242.6,226.5 244.2,226.6 245.8,225.8 247.4,227.0 249.0,227.2 250.6,227.3 252.2,226.2 253.8,227.0 255.4,226.4 257.0,227.1 258.6,225.7 260.2,227.3 261.8,227.5 263.4,226.6 265.0,226.6 266.6,226.7 268.2,226.7 269.9,225.6 271.5,227.5 273.1,226.0 274.7,226.0 276.3,225.8 277.9,226.1 279.5,227.2 281.1,225.7 282.7,225.8 284.3,227.0 285.9,226.0 287.5,225.6 289.1,226.8 290.7,226.8 292.3,226.6 293.9,227.0 295.5,225.8 297.1,227.3 298.7,227.0 300.3,225.6 301.9,225.7 303.6,226.4 305.2,226.4 306.8,225.9 308.4,225.5 310.0,226.0 311.7,225.5 313.3,226.3 314.9,226.8 316.5,225.3 318.2,226.1 319.8,226.4 321.4,225.2 323.0,226.5 324.6,226.6 326.3,225.5 327.9,225.5 329.5,226.3 331.1,225.6 332.7,225.3 334.4,226.3 336.0,225.9 337.6,225.0 339.2,224.8 340.8,224.9 342.5,225.1 344.1,226.1 345.7,225.7 347.3,225.8 349.0,225.6 350.6,225.6 352.2,224.0 353.8,224.8 355.4,225.7 357.1,225.6 358.7,224.2 360.3,224.4 362.1,224.9 363.8,224.3 365.6,224.7 367.4,223.7 369.2,224.5 370.9,224.6 372.7,223.6 374.8,222.8 376.8,223.4 378.9,217.9 380.9,213.1 384.0,207.4 386.1,209.3 388.1,210.2 388.1,231.1 386.1,230.1 384.0,228.6 380.9,232.5 378.9,238.1 376.8,244.2 374.8,247.5 372.7,250.2 370.9,249.7 369.2,249.8 367.4,247.9 365.6,248.4 363.8,248.8 362.1,248.8 360.3,247.1 358.7,246.8 357.1,248.1 355.4,247.6 353.8,247.2 352.2,248.5 350.6,247.7 349.0,247.4 347.3,247.5 345.7,248.4 344.1,248.3 342.5,247.6 340.8,247.6 339.2,247.3 337.6,247.2 336.0,246.7 334.4,247.6 332.7,247.9 331.1,248.4 329.5,247.2 327.9,247.7 326.3,247.2 324.6,247.3 323.0,247.9 321.4,247.5 319.8,247.5 318.2,248.5 316.5,247.6 314.9,248.0 313.3,248.3 311.7,247.5 310.0,247.6 308.4,246.6 306.8,246.5 305.2,248.3 303.6,247.4 301.9,246.9 300.3,248.4 298.7,248.2 297.1,248.2 295.5,247.2 293.8,248.4 292.2,246.8 290.6,247.8 289.0,247.8 287.3,247.0 285.7,247.3 284.1,247.1 282.5,247.7 280.8,247.8 279.2,248.5 277.6,248.5 276.0,247.5 274.3,247.7 272.7,248.1 271.1,247.8 269.5,247.6 267.9,248.5 266.2,248.0 264.6,248.0 263.0,247.9 261.4,248.4 259.7,248.9 258.1,248.8 256.5,248.1 254.9,248.4 253.2,249.2 251.6,248.3 250.0,248.5 248.4,248.9 246.7,247.4 245.1,249.2 243.5,247.7 241.9,249.3 240.2,249.0 238.6,249.1 237.0,248.6 235.4,249.1 233.7,249.1 232.1,249.1 230.5,248.6 228.8,249.2 227.2,249.3 225.6,248.8 223.9,248.9 222.3,248.3 220.7,248.2 219.1,247.9 217.4,249.0 215.8,249.5 214.2,248.0 212.5,247.8 210.9,249.0 209.3,248.4 207.6,248.3 206.0,247.7 204.4,248.4 202.7,249.3 201.1,247.7 199.5,247.9 197.8,249.1 196.2,248.1 194.6,249.5 192.9,248.1 191.3,248.5 189.7,248.6 188.1,248.0 186.4,249.2 184.8,248.2 183.2,247.5 181.5,248.7 179.9,248.3 178.3,248.5 176.6,247.9 175.0,248.0 173.3,248.1 171.6,248.3 170.0,248.6 168.3,248.4 166.6,248.1 164.9,248.6 163.2,247.5 161.6,248.4 159.9,248.1 158.2,248.2 156.5,248.6 154.8,247.9 153.2,247.0 151.5,247.2 149.8,247.3 148.1,247.4 146.4,247.2 144.8,246.8 143.1,246.7 141.4,246.7 139.7,247.7 138.0,247.7 136.2,247.5 134.5,248.2 132.8,249.2 131.1,248.7 129.5,248.6 127.8,250.4 126.2,250.6 124.5,251.4 122.9,253.5 121.1,254.0 119.3,255.7 117.5,256.8 115.7,259.0 113.9,259.6 112.1,258.9 110.3,258.3 108.5,259.2 106.8,260.7 105.1,263.8 103.4,265.0 101.5,267.0 99.6,267.4 97.7,267.0" fill="#0000ff" fill-opacity="0.35"/>
<polygon points="97.7,253.4 100.3,248.3 102.0,245.5 103.7,243.1 105.4,241.3 107.1,240.6 108.9,239.6 110.6,239.8 112.3,238.3 114.0,236.4 115.7,235.9 117.4,235.4 119.1,233.7 120.8,233.2 122.5,231.5 124.2,231.3 125.9,231.3 127.7,230.3 129.4,229.7 131.1,228.4 132.8,228.5 134.5,228.3 136.2,227.7 138.0,227.9 139.7,227.5 141.4,227.9 143.1,227.4 144.8,227.2 146.4,226.8 148.1,226.9 149.8,227.8 151.5,227.0 153.2,227.0 154.8,227.2 156.5,227.7 158.2,228.2 159.9,228.0 161.6,228.3 163.2,227.3 164.9,227.3 166.6,228.4 168.3,227.8 170.0,228.4 171.6,228.0 173.3,227.8 175.0,228.0 176.6,227.7 178.2,228.8 179.8,228.4 181.4,228.0 183.0,228.2 184.7,228.1 186.3,227.6 187.9,228.7 189.5,228.3 191.1,228.8 192.7,228.1 194.3,228.3 195.9,227.8 197.5,227.5 199.1,228.7 200.8,228.6 202.4,227.8 204.0,228.6 205.6,228.5 207.2,227.8 208.8,228.2 210.4,228.7 212.0,228.0 213.6,228.6 215.2,227.6 216.9,227.8 218.5,228.3 220.1,227.6 221.7,227.7 223.3,228.5 224.9,227.9 226.5,228.3 228.1,227.5 229.7,227.4 231.3,227.7 233.0,227.4 234.6,228.5 236.2,227.5 237.8,227.9 239.4,227.3 241.0,227.8 242.6,227.6 244.2,227.7 245.8,227.2 247.4,227.3 249.0,228.3 250.6,227.6 252.2,227.4 253.8,227.4 255.4,227.5 257.0,227.4 258.6,227.1 260.2,228.0 261.8,227.6 263.4,227.3 265.0,228.1 266.6,227.2 268.2,227.5 269.9,228.3 271.5,227.3 273.1,227.7 274.7,228.3 276.3,228.2 277.9,227.3 279.5,227.6 281.1,228.1 282.7,227.6 284.3,228.4 285.9,227.4 287.5,228.4 289.1,227.8 290.7,227.4 292.3,227.7 293.9,227.3 295.5,228.1 297.1,227.5 298.7,228.4 300.3,227.9 301.9,227.5 303.6,227.3 305.2,227.7 306.8,227.1 308.4,228.0 310.0,226.9 311.7,227.4 313.3,227.4 314.9,227.0 316.5,227.6 318.2,227.0 319.8,227.3 321.4,227.2 323.0,226.7 324.6,226.8 326.3,226.3 327.9,226.4 329.5,227.3 331.1,226.5 332.7,226.9 334.4,226.1 336.0,226.7 337.6,226.3 339.2,226.5 340.8,226.1 342.5,225.8 344.1,226.1 345.7,225.9 347.3,225.7 349.0,226.5 350.6,225.8 352.2,225.9 353.8,226.6 355.4,226.3 357.1,226.4 358.7,226.4 360.3,225.3 362.1,225.5 363.8,225.1 365.6,226.1 367.4,226.0 369.2,225.6 370.9,225.7 372.7,226.0 374.8,225.0 376.8,223.3 378.9,219.0 380.9,213.2 384.0,208.5 386.1,209.4 388.1,211.4 388.1,229.9 386.1,228.4 384.0,227.7 380.9,231.4 378.9,236.5 376.8,242.9 374.8,245.2 372.7,247.9 370.9,248.4 369.2,247.2 367.4,247.6 365.6,246.9 363.8,246.4 362.1,246.6 360.3,246.3 358.7,246.9 357.1,246.9 355.4,246.6 353.8,246.7 352.2,246.5 350.6,246.4 349.0,245.7 347.3,245.9 345.7,246.8 344.1,246.1 342.5,246.4 340.8,246.1 339.2,246.0 337.6,246.8 336.0,245.9 334.4,246.1 332.7,246.6 331.1,246.8 329.5,246.7 327.9,245.8 326.3,246.9 324.6,246.8 323.0,246.5 321.4,245.9 319.8,246.0 318.2,246.8 316.5,246.7 314.9,245.6 313.3,245.8 311.7,245.9 310.0,246.0 308.4,246.5 306.8,246.9 305.2,246.5 303.6,246.5 301.9,246.9 300.3,245.6 298.7,246.4 297.1,245.9 295.5,246.3 293.8,246.4 292.2,245.9 290.6,246.5 289.0,247.1 287.3,246.8 285.7,245.9 284.1,246.9 282.5,247.3 280.8,245.9 279.2,246.0 277.6,246.2 276.0,246.5 274.3,246.7 272.7,246.5 271.1,246.3 269.5,246.7 267.9,247.1 266.2,246.5 264.6,246.6 263.0,246.3 261.4,246.6 259.7,246.8 258.1,246.7 256.5,246.5 254.9,247.5 253.2,247.5 251.6,247.1 250.0,247.3 248.4,247.4 246.7,246.8 245.1,247.6 243.5,247.4 241.9,247.8 240.2,247.1 238.6,247.5 237.0,246.9 235.4,247.9 233.7,247.1 232.1,247.2 230.5,248.0 228.8,247.3 227.2,247.4 225.6,247.0 223.9,247.0 222.3,247.6 220.7,247.7 219.1,246.9 217.4,247.1 215.8,246.9 214.2,247.2 212.5,247.2 210.9,246.7 209.3,247.0 207.6,247.4 206.0,247.5 204.4,248.0 202.7,247.4 201.1,247.0 199.5,247.8 197.8,247.6 196.2,246.7 194.6,247.7 192.9,246.8 191.3,247.9 189.7,247.3 188.1,247.2 186.4,247.6 184.8,246.7 183.2,247.2 181.5,247.5 179.9,247.8 178.3,247.6 176.6,247.6 175.0,247.9 173.3,247.1 171.6,247.8 170.0,246.6 168.3,246.8 166.6,247.5 164.9,247.3 163.2,246.8 161.6,247.1 159.9,246.2 158.2,247.1 156.5,247.3 154.8,246.2 153.2,247.0 151.5,246.0 149.8,246.1 148.1,245.8 146.4,246.5 144.8,246.8 143.1,245.6 141.4,245.9 139.7,246.8 138.0,247.0 136.2,246.1 134.5,246.7 132.8,247.4 131.1,247.2 129.5,247.8 127.8,249.2 126.2,249.9 124.5,251.1 122.9,251.0 121.1,253.1 119.3,254.2 117.5,255.4 115.7,257.4 113.9,257.3 112.1,257.2 110.3,257.1 108.5,257.0 106.8,259.3 105.1,262.6 103.4,265.0 101.5,265.6 99.6,264.9 97.7,265.8" fill="#0000ff"/>
<rect x="385.8" y="229.0" width="1.6" height="34.8" fill="#0000ff" fill-opacity="0.3"/>
<polygon points="491.3,234.5 492.9,233.5 494.6,230.3 496.2,230.7 497.9,229.3 500.0,227.7 502.0,225.4 504.1,223.7 505.7,223.8 507.4,222.6 509.0,221.6 510.7,220.5 512.3,220.0 514.3,218.8 516.4,217.5 518.4,216.0 520.1,213.8 521.7,213.7 523.4,213.6 525.0,213.5 526.7,212.5 528.4,211.9 530.1,211.4 531.9,211.8 533.6,211.9 535.3,212.9 537.0,212.5 538.6,212.5 540.2,212.8 541.9,212.8 543.5,212.1 545.1,212.6 546.7,210.9 548.3,212.4 550.0,212.4 551.6,211.7 553.2,212.4 554.8,213.4 556.5,212.3 558.1,212.8 559.7,212.0 561.3,212.2 562.9,213.6 564.6,211.6 566.2,212.1 567.8,213.3 569.4,212.8 571.0,212.0 572.6,213.4 574.2,212.7 575.8,213.2 577.4,212.9 579.0,213.2 580.6,213.3 582.2,212.9 583.8,212.2 585.4,212.4 587.0,214.2 588.6,213.4 590.2,212.3 591.8,214.2 593.4,212.7 595.0,212.4 596.6,213.4 598.2,212.8 599.8,213.4 601.4,213.6 603.0,212.8 604.6,213.7 606.2,212.6 607.8,213.6 609.4,213.8 611.0,212.6 612.6,213.4 614.2,212.6 615.8,213.5 617.4,214.6 619.0,213.9 620.6,214.3 622.2,214.4 623.8,212.9 625.4,215.0 627.0,214.4 628.6,212.9 630.2,214.7 631.8,213.7 633.4,213.2 635.0,215.1 636.6,214.1 638.2,214.6 639.8,213.0 641.4,214.5 643.0,212.8 644.6,213.2 646.2,213.5 647.8,212.6 649.4,214.0 651.0,213.0 652.6,213.2 654.2,214.1 655.8,213.4 657.4,214.5 659.0,213.8 660.6,214.4 662.2,213.6 663.9,214.5 665.5,214.3 667.1,212.6 668.7,213.9 670.3,212.9 671.9,213.9 673.5,213.7 675.1,214.0 676.7,212.3 678.3,212.9 679.9,213.7 681.5,214.2 683.1,213.6 684.7,212.0 686.3,213.3 687.9,212.0 689.5,213.1 691.1,213.7 692.7,212.0 694.3,213.9 695.9,213.3 697.6,212.2 699.2,212.1 700.8,212.6 702.4,213.6 704.0,212.9 705.7,211.8 707.3,211.5 708.9,211.7 710.5,213.3 712.2,211.8 713.8,212.7 715.4,212.0 717.0,213.0 718.6,212.2 720.3,211.6 721.9,213.3 723.5,212.5 725.1,212.8 726.7,213.1 728.4,213.4 730.0,211.1 731.6,211.9 733.2,211.4 734.8,212.2 736.5,213.1 738.1,212.9 739.7,211.0 741.3,211.3 743.0,212.8 744.6,212.5 746.2,211.8 747.8,211.9 749.4,211.2 751.1,212.8 752.7,211.7 754.3,212.8 755.9,212.1 757.5,210.7 759.1,211.2 760.7,210.8 762.3,212.3 763.9,211.4 765.5,210.0 767.1,210.2 768.7,210.6 770.8,209.3 772.8,208.0 774.8,202.6 776.9,197.5 778.6,196.0 780.3,196.8 782.0,195.9 782.0,222.2 780.3,222.5 778.6,224.0 776.9,222.6 774.8,230.1 772.8,234.5 770.8,237.8 768.7,242.7 767.1,241.9 765.5,240.2 763.9,239.8 762.3,240.0 760.7,241.0 759.1,238.9 757.5,239.4 755.9,238.9 754.3,237.5 752.7,237.8 751.1,237.6 749.4,237.8 747.8,239.4 746.2,238.2 744.6,240.1 743.0,238.7 741.3,239.7 739.7,239.5 738.1,239.1 736.5,238.0 734.8,238.4 733.2,240.4 731.6,239.4 730.0,238.9 728.4,239.4 726.7,240.7 725.1,240.2 723.5,239.2 721.9,240.4 720.3,240.4 718.6,240.3 717.0,239.3 715.4,240.5 713.8,239.6 712.2,240.3 710.5,240.5 708.9,240.3 707.3,240.4 705.7,240.4 704.0,240.1 702.4,241.1 700.8,239.4 699.2,241.1 697.6,239.7 695.9,239.8 694.3,239.7 692.7,240.3 691.1,241.2 689.5,241.0 687.9,239.6 686.3,241.9 684.7,240.9 683.1,241.7 681.5,239.5 679.9,240.6 678.3,240.1 676.7,240.9 675.1,240.7 673.5,240.3 671.9,241.0 670.3,239.6 668.7,240.5 667.1,239.6 665.5,240.3 663.9,241.1 662.2,240.5 660.6,241.1 659.0,241.3 657.4,240.3 655.8,240.0 654.2,241.7 652.6,241.0 651.0,241.6 649.4,240.8 647.8,240.0 646.2,239.8 644.6,240.3 643.0,241.6 641.4,241.4 639.8,239.7 638.2,240.9 636.6,241.8 635.0,241.3 633.4,239.9 631.8,241.0 630.2,241.5 628.6,240.9 627.0,239.9 625.4,240.3 623.8,239.9 622.2,241.0 620.6,239.9 619.0,239.7 617.4,239.3 615.8,239.8 614.2,239.9 612.6,241.3 611.0,240.3 609.4,239.3 607.8,241.2 606.2,240.1 604.6,240.9 603.0,239.9 601.4,241.4 599.8,240.4 598.2,239.4 596.6,239.1 595.0,240.3 593.4,241.1 591.8,239.7 590.2,241.1 588.6,240.1 587.0,240.5 585.4,239.5 583.8,239.5 582.2,238.9 580.6,239.1 579.0,239.4 577.4,240.0 575.8,239.7 574.2,239.7 572.6,240.7 571.0,238.6 569.4,238.8 567.8,239.3 566.2,239.0 564.6,238.9 562.9,239.0 561.3,239.2 559.7,240.3 558.1,238.6 556.5,238.5 554.8,237.8 553.2,238.5 551.6,238.7 550.0,238.1 548.3,238.7 546.7,238.3 545.1,238.7 543.5,238.7 541.9,237.5 540.2,238.3 538.6,238.8 537.0,238.5 535.3,238.5 533.6,237.4 531.9,237.8 530.1,238.6 528.4,238.8 526.7,239.3 525.0,240.3 523.4,240.9 521.7,241.2 520.1,240.8 518.4,243.9 516.4,245.5 514.3,246.2 512.3,248.1 510.7,247.9 509.0,249.1 507.4,249.2 505.7,249.8 504.1,251.4 502.0,252.5 500.0,254.7 497.9,259.4 496.2,259.9 494.6,260.6 492.9,263.1 491.3,265.3" fill="#ffa500" fill-opacity="0.18"/>
<polygon points="491.3,236.3 492.9,235.1 494.6,232.9 496.2,232.4 497.9,230.1 500.0,228.4 502.0,228.4 504.1,225.1 505.7,225.7 507.4,223.3 509.0,223.9 510.7,222.5 512.3,222.8 514.3,219.1 516.4,218.7 518.4,216.6 520.1,217.4 521.7,217.0 523.4,215.8 525.0,214.5 526.7,214.1 528.4,213.9 530.1,214.1 531.9,213.4 533.6,213.1 535.3,214.2 537.0,213.6 538.6,212.9 540.2,214.6 541.9,212.8 543.5,213.8 545.1,212.8 546.7,214.6 548.3,214.7 550.0,213.3 551.6,214.6 553.2,214.8 554.8,213.6 556.5,213.8 558.1,214.2 559.7,215.3 561.3,213.6 562.9,214.9 564.6,214.8 566.2,214.5 567.8,214.9 569.4,215.6 571.0,214.1 572.6,215.7 574.2,214.5 575.8,215.5 577.4,215.7 579.0,214.1 580.6,215.8 582.2,216.1 583.8,214.5 585.4,213.8 587.0,214.1 588.6,216.2 590.2,213.9 591.8,216.1 593.4,214.3 595.0,215.7 596.6,214.2 598.2,214.4 599.8,215.7 601.4,214.3 603.0,214.9 604.6,216.3 606.2,215.8 607.8,216.3 609.4,216.5 611.0,214.3 612.6,214.8 614.2,216.2 615.8,215.9 617.4,214.4 619.0,215.5 620.6,214.9 622.2,215.4 623.8,214.7 625.4,214.5 627.0,216.8 628.6,215.3 630.2,216.6 631.8,214.8 633.4,215.7 635.0,214.9 636.6,215.6 638.2,215.0 639.8,216.2 641.4,214.8 643.0,216.2 644.6,215.6 646.2,214.7 647.8,215.2 649.4,215.5 651.0,216.5 652.6,215.1 654.2,214.7 655.8,216.5 657.4,216.3 659.0,215.9 660.6,214.8 662.2,214.5 663.9,214.7 665.5,214.2 667.1,214.1 668.7,215.2 670.3,214.9 671.9,215.2 673.5,214.7 675.1,213.9 676.7,215.5 678.3,215.3 679.9,215.0 681.5,215.0 683.1,215.3 684.7,216.0 686.3,215.7 687.9,215.3 689.5,214.5 691.1,214.3 692.7,214.5 694.3,215.8 695.9,214.4 697.6,214.3 699.2,214.4 700.8,213.7 702.4,215.7 704.0,213.3 705.7,214.7 707.3,215.5 708.9,213.8 710.5,214.7 712.2,214.1 713.8,213.7 715.4,213.6 717.0,213.4 718.6,215.1 720.3,214.9 721.9,215.2 723.5,213.1 725.1,214.6 726.7,213.7 728.4,214.5 730.0,214.2 731.6,213.6 733.2,215.2 734.8,212.8 736.5,214.6 738.1,214.8 739.7,214.0 741.3,214.1 743.0,215.1 744.6,213.2 746.2,214.1 747.8,214.4 749.4,213.5 751.1,214.3 752.7,213.5 754.3,213.8 755.9,213.9 757.5,213.9 759.1,212.9 760.7,213.6 762.3,213.2 763.9,212.4 765.5,213.2 767.1,212.2 768.7,213.7 770.8,211.1 772.8,210.1 774.8,204.7 776.9,199.6 778.6,198.4 780.3,197.5 782.0,197.7 782.0,220.4 780.3,219.7 778.6,221.9 776.9,220.3 774.8,227.9 772.8,233.6 770.8,235.8 768.7,240.8 767.1,239.4 765.5,240.3 763.9,238.8 762.3,238.7 760.7,238.9 759.1,238.3 757.5,237.0 755.9,237.9 754.3,236.3 752.7,236.4 751.1,237.1 749.4,236.7 747.8,237.1 746.2,236.6 744.6,236.1 743.0,237.3 741.3,238.2 739.7,236.6 738.1,238.1 736.5,237.1 734.8,237.7 733.2,237.5 731.6,237.5 730.0,237.3 728.4,237.8 726.7,236.7 725.1,237.1 723.5,237.3 721.9,238.8 720.3,238.7 718.6,238.9 717.0,237.6 715.4,237.0 713.8,238.0 712.2,238.3 710.5,238.4 708.9,239.2 707.3,237.8 705.7,238.0 704.0,237.9 702.4,238.0 700.8,239.8 699.2,237.5 697.6,238.8 695.9,238.4 694.3,238.0 692.7,239.8 691.1,239.7 689.5,240.1 687.9,239.1 686.3,238.7 684.7,239.4 683.1,237.8 681.5,238.9 679.9,239.4 678.3,239.3 676.7,237.8 675.1,239.1 673.5,239.5 671.9,237.9 670.3,237.9 668.7,239.7 667.1,237.9 665.5,238.2 663.9,238.0 662.2,239.5 660.6,239.5 659.0,239.0 657.4,239.3 655.8,237.8 654.2,238.7 652.6,239.5 651.0,239.3 649.4,239.7 647.8,238.9 646.2,238.9 644.6,238.8 643.0,239.8 641.4,238.8 639.8,238.7 638.2,239.7 636.6,238.8 635.0,238.8 633.4,239.1 631.8,237.7 630.2,239.4 628.6,239.8 627.0,238.8 625.4,238.8 623.8,238.4 622.2,239.3 620.6,237.7 619.0,238.3 617.4,239.0 615.8,238.3 614.2,239.1 612.6,239.7 611.0,237.8 609.4,239.5 607.8,238.7 606.2,238.2 604.6,238.1 603.0,239.2 601.4,238.8 599.8,238.2 598.2,237.9 596.6,238.8 595.0,238.0 593.4,238.1 591.8,237.2 590.2,237.9 588.6,238.5 587.0,238.9 585.4,238.0 583.8,237.4 582.2,239.0 580.6,238.4 579.0,237.1 577.4,238.8 575.8,237.4 574.2,237.6 572.6,237.4 571.0,238.5 569.4,237.2 567.8,236.8 566.2,238.0 564.6,237.0 562.9,236.4 561.3,237.2 559.7,237.0 558.1,236.9 556.5,236.5 554.8,237.1 553.2,236.6 551.6,237.2 550.0,235.8 548.3,237.2 546.7,237.2 545.1,236.3 543.5,236.1 541.9,236.6 540.2,237.2 538.6,235.7 537.0,234.8 535.3,235.9 533.6,236.2 531.9,237.0 530.1,236.1 528.4,235.7 526.7,236.2 525.0,236.8 523.4,237.5 521.7,240.0 520.1,240.9 518.4,240.6 516.4,241.5 514.3,245.2 512.3,247.0 510.7,247.5 509.0,247.7 507.4,247.9 505.7,249.4 504.1,248.4 502.0,251.0 500.0,254.8 497.9,256.5 496.2,258.2 494.6,260.0 492.9,262.8 491.3,263.5" fill="#ffa500" fill-opacity="0.35"/>
<polygon points="491.3,238.1 492.9,236.7 494.6,234.5 496.2,234.2 497.9,232.1 500.0,231.1 502.0,229.2 504.1,228.1 505.7,227.3 507.4,225.8 509.0,224.9 510.7,225.1 512.3,223.1 514.3,222.7 516.4,219.8 518.4,218.0 520.1,217.5 521.7,218.2 523.4,218.1 525.0,216.8 526.7,216.8 528.4,215.9 530.1,216.7 531.9,216.1 533.6,215.0 535.3,214.6 537.0,215.4 538.6,214.4 540.2,215.8 541.9,215.0 543.5,215.0 545.1,215.6 546.7,215.3 548.3,215.7 550.0,215.1 551.6,216.4 553.2,215.6 554.8,216.5 556.5,215.4 558.1,216.5 559.7,216.9 561.3,216.0 562.9,215.5 564.6,216.2 566.2,216.7 567.8,216.1 569.4,216.6 571.0,215.9 572.6,216.5 574.2,217.0 575.8,216.5 577.4,216.9 579.0,216.1 580.6,217.2 582.2,216.1 583.8,217.4 585.4,217.6 587.0,217.5 588.6,216.9 590.2,216.5 591.8,216.6 593.4,217.3 595.0,216.9 596.6,217.7 598.2,216.3 599.8,217.0 601.4,217.6 603.0,217.2 604.6,217.2 606.2,216.5 607.8,216.6 609.4,216.8 611.0,217.8 612.6,217.8 614.2,216.8 615.8,218.0 617.4,216.6 619.0,217.5 620.6,218.1 622.2,217.1 623.8,218.1 625.4,217.7 627.0,216.7 628.6,217.2 630.2,217.4 631.8,217.1 633.4,218.0 635.0,217.1 636.6,218.0 638.2,217.2 639.8,216.8 641.4,217.6 643.0,216.8 644.6,217.5 646.2,217.8 647.8,217.5 649.4,217.3 651.0,216.5 652.6,217.3 654.2,216.6 655.8,217.4 657.4,216.6 659.0,217.3 660.6,216.9 662.2,216.9 663.9,217.3 665.5,216.5 667.1,216.5 668.7,217.7 670.3,216.7 671.9,217.4 673.5,217.5 675.1,216.8 676.7,216.2 678.3,216.1 679.9,217.4 681.5,216.1 683.1,216.7 684.7,216.7 686.3,216.0 687.9,216.5 689.5,216.0 691.1,216.6 692.7,216.5 694.3,216.3 695.9,216.0 697.6,216.3 699.2,215.9 700.8,215.8 702.4,215.9 704.0,216.9 705.7,216.3 707.3,216.9 708.9,215.5 710.5,216.9 712.2,216.2 713.8,216.6 715.4,216.2 717.0,216.4 718.6,215.6 720.3,216.5 721.9,215.5 723.5,215.6 725.1,215.2 726.7,215.8 728.4,216.0 730.0,215.6 731.6,216.5 733.2,215.2 734.8,215.9 736.5,215.4 738.1,215.9 739.7,216.2 741.3,216.0 743.0,215.0 744.6,215.3 746.2,215.8 747.8,216.4 749.4,214.8 751.1,215.7 752.7,215.8 754.3,216.0 755.9,215.1 757.5,215.8 759.1,215.1 760.7,215.7 762.3,214.2 763.9,215.5 765.5,214.6 767.1,214.5 768.7,213.8 770.8,212.5 772.8,211.8 774.8,206.7 776.9,200.9 778.6,200.6 780.3,199.6 782.0,199.5 782.0,218.6 780.3,218.7 778.6,219.7 776.9,220.1 774.8,225.9 772.8,231.5 770.8,234.7 768.7,238.4 767.1,238.1 765.5,238.2 763.9,236.9 762.3,237.0 760.7,236.9 759.1,236.3 757.5,236.5 755.9,235.2 754.3,235.1 752.7,234.7 751.1,235.5 749.4,234.8 747.8,235.4 746.2,235.7 744.6,235.2 743.0,234.7 741.3,235.6 739.7,235.6 738.1,235.0 736.5,236.2 734.8,236.4 733.2,235.1 731.6,235.5 730.0,235.1 728.4,236.3 726.7,236.3 725.1,236.6 723.5,236.5 721.9,236.0 720.3,236.3 718.6,236.5 717.0,236.8 715.4,235.6 713.8,237.1 712.2,236.2 710.5,236.5 708.9,237.2 707.3,236.9 705.7,236.7 704.0,236.5 702.4,237.0 700.8,237.1 699.2,236.7 697.6,237.7 695.9,236.9 694.3,237.2 692.7,236.4 691.1,237.4 689.5,237.7 687.9,237.8 686.3,236.9 684.7,237.1 683.1,237.7 681.5,237.2 679.9,236.5 678.3,236.9 676.7,236.7 675.1,237.6 673.5,237.0 671.9,237.8 670.3,236.6 668.7,236.3 667.1,237.1 665.5,236.6 663.9,237.6 662.2,236.6 660.6,237.9 659.0,237.1 657.4,237.8 655.8,237.1 654.2,236.9 652.6,237.7 651.0,237.3 649.4,237.7 647.8,236.7 646.2,236.9 644.6,237.8 643.0,236.7 641.4,236.6 639.8,237.6 638.2,236.4 636.6,237.4 635.0,236.5 633.4,237.6 631.8,237.3 630.2,236.9 628.6,237.3 627.0,236.6 625.4,236.3 623.8,236.6 622.2,237.1 620.6,237.4 619.0,236.6 617.4,236.4 615.8,236.6 614.2,236.7 612.6,236.9 611.0,236.6 609.4,237.2 607.8,236.1 606.2,235.9 604.6,236.6 603.0,235.8 601.4,237.1 599.8,237.1 598.2,236.7 596.6,236.3 595.0,237.0 593.4,236.7 591.8,235.8 590.2,236.3 588.6,236.9 587.0,237.1 585.4,236.7 583.8,236.8 582.2,236.8 580.6,236.1 579.0,236.6 577.4,236.5 575.8,236.9 574.2,236.2 572.6,235.8 571.0,236.1 569.4,235.6 567.8,235.7 566.2,236.5 564.6,235.5 562.9,236.2 561.3,236.4 559.7,234.9 558.1,236.2 556.5,235.4 554.8,236.0 553.2,234.8 551.6,235.6 550.0,235.3 548.3,235.3 546.7,234.6 545.1,234.7 543.5,234.9 541.9,234.9 540.2,234.6 538.6,234.8 537.0,234.7 535.3,234.7 533.6,233.7 531.9,234.9 530.1,234.9 528.4,235.6 526.7,234.5 525.0,235.6 523.4,237.0 521.7,236.8 520.1,238.7 518.4,239.7 516.4,241.0 514.3,242.1 512.3,244.5 510.7,245.3 509.0,246.2 507.4,246.6 505.7,246.8 504.1,247.4 502.0,250.3 500.0,253.0 497.9,255.4 496.2,256.1 494.6,257.7 492.9,259.4 491.3,261.7" fill="#ffa500"/>
<rect x="779.8" y="218.0" width="1.6" height="37.6" fill="#ffa500" fill-opacity="0.35"/>
<rect x="479.0" y="299.0" width="17.0" height="1.5" fill="#ffa500"/>
<rect x="524.6" y="299.0" width="3.1" height="1.5" fill="#ffa500"/>
<rect x="626.0" y="299.0" width="3.0" height="1.5" fill="#ffa500"/>
<rect x="727.6" y="299.0" width="4.1" height="1.5" fill="#ffa500"/>
<rect x="779.0" y="299.0" width="9.0" height="1.5" fill="#ffa500"/>
<rect x="97.3" y="380.6" width="2.5" height="34.9" fill="#0000ff"/>
<polygon points="99.8,381.1 101.8,387.9 103.9,395.5 106.0,398.3 108.0,400.0 110.1,402.9 112.1,402.4 114.2,402.5 116.2,402.3 118.3,404.9 120.3,407.4 122.4,410.4 124.0,410.6 125.7,410.0 127.3,410.3 129.0,411.1 130.6,410.6 132.7,410.7 134.7,407.5 136.8,403.9 138.8,400.8 140.9,399.9 142.9,398.9 145.0,398.5 146.6,397.8 148.2,397.7 149.8,398.4 151.4,398.0 153.0,398.3 154.6,398.1 156.2,398.3 157.8,397.8 159.4,397.7 161.0,398.3 162.6,398.0 164.2,398.1 165.8,398.2 167.4,398.3 169.0,397.8 170.6,397.9 172.2,398.4 173.8,398.0 175.4,397.8 177.1,398.1 178.7,397.7 180.4,398.2 182.0,397.5 183.6,398.3 185.3,398.0 186.9,397.8 188.6,398.3 190.2,397.6 191.8,397.6 193.5,397.4 195.1,397.9 196.7,398.1 198.4,398.0 200.0,397.7 201.7,398.1 203.3,397.4 204.9,397.6 206.6,397.9 208.2,398.2 209.9,397.9 211.5,397.9 213.1,398.0 214.8,397.6 216.4,398.1 218.1,397.9 219.7,397.5 221.3,397.5 223.0,397.9 224.6,397.5 226.2,397.3 227.9,398.0 229.5,397.6 231.2,397.6 232.8,397.7 234.4,398.0 236.1,397.2 237.7,397.4 239.4,397.1 241.0,397.4 242.6,397.5 244.3,397.8 245.9,397.6 247.5,397.5 249.2,397.3 250.8,397.5 252.4,397.2 254.1,397.7 255.7,397.6 257.3,397.7 259.0,397.0 260.6,397.5 262.2,397.5 263.9,397.3 265.5,397.6 267.2,397.6 268.8,397.4 270.4,397.5 272.1,397.3 273.7,397.5 275.3,396.8 277.0,397.3 278.6,397.3 280.2,397.2 281.9,396.8 283.5,396.6 285.1,397.1 286.8,397.3 288.4,396.8 290.0,396.7 291.6,396.6 293.3,396.5 294.9,397.0 296.5,397.2 298.1,397.0 299.7,396.5 301.4,396.8 303.0,396.1 304.6,396.9 306.2,396.3 307.9,395.9 309.5,396.5 311.1,396.0 312.7,396.1 314.3,395.8 316.0,396.1 317.6,396.2 319.2,396.4 320.8,395.9 322.4,396.8 324.0,396.3 325.6,396.7 327.2,397.3 328.8,397.2 330.4,397.4 332.0,397.9 333.6,397.7 335.3,398.1 336.9,397.4 338.6,397.9 340.3,397.7 341.9,397.3 343.6,396.6 345.3,397.2 347.0,396.3 348.6,396.6 350.3,396.4 352.0,395.8 353.6,396.3 355.3,396.2 357.0,395.9 358.6,395.6 360.3,395.5 362.0,395.5 363.7,395.1 365.3,395.7 367.0,395.7 368.7,395.5 370.4,395.6 372.0,394.9 373.7,395.5 375.4,394.5 377.4,392.6 379.5,389.9 382.6,386.7 384.1,372.0 386.2,368.9 387.7,369.7 387.7,377.9 386.7,391.7 384.1,395.1 381.6,398.7 379.8,399.6 378.0,401.5 375.4,404.4 373.7,404.4 372.0,403.6 370.4,404.3 368.7,403.5 367.0,403.9 365.3,403.8 363.7,404.0 362.0,403.5 360.3,403.5 358.6,404.2 357.0,404.0 355.3,404.1 353.6,404.0 352.0,404.3 350.3,404.0 348.6,404.3 347.0,403.5 345.3,404.4 343.6,404.4 341.9,404.3 340.3,403.7 338.6,404.1 336.9,403.7 335.3,404.4 333.6,403.8 332.0,404.2 330.4,404.4 328.8,403.5 327.2,404.1 325.6,403.3 324.0,403.4 322.4,403.4 320.8,404.0 319.2,403.6 317.6,404.0 316.0,403.8 314.3,403.4 312.7,404.1 311.1,403.5 309.5,403.4 307.9,403.4 306.2,404.2 304.6,404.4 303.0,403.6 301.4,403.6 299.7,404.4 298.1,404.3 296.5,404.6 294.9,404.6 293.3,404.2 291.6,404.1 290.0,404.9 288.4,404.2 286.8,404.1 285.2,404.6 283.6,405.0 282.0,404.2 280.4,404.5 278.8,404.8 277.2,404.8 275.5,404.4 273.9,404.9 272.3,404.8 270.7,404.6 269.1,404.7 267.5,404.3 265.9,404.9 264.3,404.3 262.7,404.7 261.1,405.0 259.5,404.9 257.9,404.9 256.3,404.8 254.7,404.5 253.1,404.5 251.5,405.0 249.8,404.5 248.2,404.8 246.6,405.3 245.0,404.7 243.4,404.6 241.8,405.1 240.2,405.0 238.6,405.4 237.0,405.1 235.4,404.8 233.8,404.6 232.1,405.1 230.5,405.4 228.9,404.6 227.3,405.0 225.7,405.4 224.0,405.4 222.4,404.6 220.8,405.0 219.2,405.2 217.6,404.9 215.9,404.7 214.3,404.8 212.7,405.5 211.1,405.5 209.5,405.1 207.8,405.5 206.2,405.2 204.6,405.7 203.0,405.7 201.3,405.5 199.7,405.7 198.1,404.8 196.5,405.1 194.9,405.0 193.2,405.4 191.6,405.4 190.0,405.0 188.4,405.0 186.8,405.7 185.1,405.4 183.5,405.7 181.9,405.8 180.3,405.9 178.7,405.4 177.0,405.8 175.4,405.1 173.8,405.1 172.2,405.1 170.6,405.5 169.0,405.8 167.4,405.9 165.8,405.4 164.2,405.2 162.6,405.0 161.0,405.3 159.4,406.0 157.8,405.6 156.2,405.2 154.6,405.4 153.0,405.3 151.4,405.6 149.8,405.7 148.2,405.9 146.6,405.0 145.0,405.2 142.9,406.1 140.9,407.7 138.8,408.7 136.8,411.4 134.7,413.9 132.7,416.2 130.6,417.6 129.0,417.3 127.3,417.2 125.7,416.9 124.0,416.8 122.4,417.3 120.3,414.4 118.3,412.2 116.2,409.9 114.2,410.5 112.1,410.3 110.1,410.7 108.0,409.4 106.0,407.9 103.9,406.6 101.8,403.7 99.8,400.6" fill="#0000ff" fill-opacity="0.3"/>
<polygon points="99.8,381.6 101.8,388.4 103.9,396.5 106.0,398.4 108.0,400.7 110.1,402.8 112.1,403.4 114.2,403.5 116.2,403.5 118.3,405.2 120.3,407.9 122.4,410.2 124.0,410.9 125.7,410.4 127.3,411.1 129.0,411.7 130.6,411.7 132.7,410.9 134.7,407.7 136.8,404.4 138.8,401.7 140.9,400.6 142.9,399.5 145.0,398.5 146.6,398.4 148.2,398.6 149.8,398.6 151.4,398.9 153.0,398.7 154.6,398.8 156.2,398.9 157.8,398.8 159.4,398.7 161.0,398.0 162.6,398.7 164.2,398.8 165.8,398.4 167.4,398.9 169.0,398.2 170.6,398.9 172.2,398.4 173.8,398.7 175.4,398.2 177.1,398.3 178.7,398.3 180.4,398.3 182.0,398.0 183.6,398.4 185.3,398.9 186.9,398.6 188.6,398.8 190.2,398.6 191.8,398.7 193.5,398.8 195.1,398.6 196.7,398.1 198.4,398.1 200.0,398.2 201.7,397.8 203.3,398.0 204.9,398.7 206.6,398.7 208.2,398.1 209.9,398.5 211.5,398.5 213.1,398.6 214.8,398.5 216.4,398.2 218.1,397.8 219.7,398.5 221.3,398.0 223.0,398.3 224.6,398.0 226.2,398.1 227.9,398.6 229.5,397.7 231.2,398.1 232.8,398.2 234.4,398.1 236.1,398.5 237.7,397.9 239.4,398.4 241.0,398.2 242.6,398.5 244.3,397.6 245.9,397.7 247.5,397.7 249.2,398.3 250.8,397.4 252.4,397.6 254.1,398.1 255.7,398.3 257.3,397.5 259.0,397.7 260.6,398.0 262.2,398.0 263.9,398.0 265.5,398.0 267.2,397.5 268.8,397.5 270.4,397.2 272.1,397.9 273.7,397.4 275.3,397.4 277.0,398.1 278.6,397.7 280.2,397.7 281.9,397.7 283.5,397.6 285.1,397.7 286.8,397.3 288.4,397.1 290.0,397.0 291.6,396.9 293.3,397.2 294.9,397.0 296.5,396.9 298.1,397.2 299.7,397.6 301.4,397.3 303.0,396.8 304.6,397.3 306.2,396.7 307.9,396.5 309.5,396.7 311.1,396.7 312.7,397.0 314.3,396.7 316.0,396.9 317.6,396.2 319.2,397.0 320.8,396.7 322.4,397.4 324.0,396.8 325.6,397.8 327.2,397.4 328.8,398.2 330.4,398.4 332.0,398.5 333.6,398.3 335.3,397.9 336.9,397.9 338.6,398.4 340.3,397.5 341.9,397.9 343.6,397.6 345.3,397.6 347.0,396.9 348.6,396.7 350.3,396.5 352.0,397.3 353.6,396.5 355.3,396.6 357.0,396.4 358.6,395.9 360.3,395.6 362.0,395.4 363.7,396.2 365.3,395.4 367.0,396.2 368.7,395.5 370.4,395.8 372.0,395.2 373.7,395.8 375.4,395.2 377.4,393.0 379.5,390.8 382.6,386.8 384.1,372.0 386.2,369.5 387.7,370.2 387.7,377.4 386.7,391.7 384.1,394.5 381.6,397.7 379.8,400.0 378.0,401.4 375.4,403.9 373.7,403.7 372.0,403.7 370.4,403.3 368.7,403.1 367.0,403.5 365.3,403.6 363.7,403.8 362.0,403.8 360.3,403.4 358.6,403.3 357.0,403.8 355.3,403.9 353.6,403.2 352.0,403.3 350.3,403.0 348.6,403.1 347.0,403.9 345.3,403.1 343.6,403.4 341.9,404.0 340.3,403.3 338.6,404.0 336.9,403.9 335.3,403.7 333.6,404.0 332.0,403.4 330.4,403.4 328.8,403.5 327.2,403.0 325.6,403.0 324.0,402.8 322.4,403.5 320.8,403.1 319.2,403.0 317.6,402.7 316.0,402.8 314.3,403.6 312.7,402.8 311.1,403.0 309.5,403.0 307.9,403.6 306.2,403.5 304.6,403.4 303.0,403.3 301.4,403.7 299.7,403.1 298.1,404.0 296.5,403.4 294.9,403.7 293.3,403.4 291.6,404.1 290.0,403.8 288.4,403.9 286.8,403.8 285.2,404.5 283.6,403.8 282.0,404.0 280.4,404.6 278.8,403.8 277.2,404.4 275.5,403.8 273.9,404.3 272.3,404.6 270.7,404.2 269.1,404.6 267.5,404.2 265.9,404.2 264.3,404.0 262.7,404.7 261.1,403.8 259.5,404.5 257.9,404.2 256.3,404.8 254.7,404.4 253.1,404.6 251.5,404.1 249.8,404.0 248.2,404.3 246.6,403.9 245.0,404.1 243.4,404.0 241.8,404.9 240.2,404.6 238.6,404.2 237.0,404.2 235.4,404.9 233.8,404.4 232.1,404.9 230.5,404.8 228.9,405.0 227.3,404.9 225.7,404.2 224.0,404.8 222.4,404.7 220.8,404.6 219.2,404.4 217.6,404.7 215.9,404.9 214.3,404.6 212.7,404.2 211.1,404.7 209.5,404.9 207.8,404.2 206.2,404.4 204.6,404.7 203.0,405.3 201.3,404.4 199.7,404.7 198.1,405.0 196.5,404.5 194.9,404.7 193.2,404.8 191.6,404.4 190.0,405.1 188.4,404.8 186.8,405.3 185.1,404.7 183.5,404.5 181.9,404.6 180.3,405.3 178.7,404.6 177.0,404.7 175.4,405.0 173.8,405.4 172.2,404.6 170.6,405.4 169.0,405.5 167.4,405.4 165.8,405.1 164.2,405.2 162.6,404.7 161.0,404.6 159.4,405.1 157.8,405.4 156.2,405.0 154.6,404.9 153.0,404.6 151.4,404.6 149.8,404.9 148.2,404.7 146.6,404.7 145.0,405.0 142.9,405.6 140.9,406.6 138.8,408.2 136.8,410.5 134.7,412.6 132.7,415.4 130.6,416.1 129.0,416.3 127.3,416.9 125.7,416.8 124.0,416.2 122.4,417.0 120.3,414.2 118.3,411.9 116.2,409.3 114.2,409.6 112.1,409.8 110.1,410.1 108.0,408.8 106.0,407.9 103.9,406.2 101.8,403.0 99.8,400.1" fill="#0000ff"/>
<rect x="232.5" y="404.0" width="3.0" height="11.5" fill="#0000ff" fill-opacity="0.18"/>
<rect x="385.2" y="391.8" width="2.5" height="24.6" fill="#0000ff" fill-opacity="0.2"/>
<rect x="389.0" y="382.0" width="2.8" height="33.4" fill="#0000ff" fill-opacity="0.28"/>
<rect x="479.0" y="446.0" width="12.3" height="3.0" fill="#ffa500"/>
<rect x="781.5" y="446.0" width="6.1" height="3.0" fill="#ffa500"/>
<polygon points="491.3,425.0 493.0,425.1 494.6,424.4 496.3,425.4 498.0,424.5 499.7,424.5 501.3,424.7 503.0,425.0 504.7,425.4 506.3,424.1 508.0,425.5 509.7,425.2 511.3,424.9 513.0,425.3 514.7,425.6 516.4,424.0 518.0,425.0 519.7,425.0 519.7,461.1 518.0,460.8 516.4,461.6 514.7,460.6 513.0,461.9 511.3,462.0 509.7,460.9 508.0,460.5 506.3,462.0 504.7,461.0 503.0,460.6 501.3,461.7 499.7,462.0 498.0,460.5 496.3,461.4 494.6,461.5 493.0,461.5 491.3,461.1" fill="#ffa500" fill-opacity="0.12"/>
<polygon points="491.3,427.5 493.0,427.8 494.6,428.0 496.3,426.8 498.0,426.9 499.7,426.9 501.3,427.0 503.0,426.6 504.7,426.8 506.3,427.3 508.0,427.3 509.7,426.7 511.3,427.7 513.0,428.4 514.7,427.7 516.4,427.2 518.0,427.9 519.7,427.5 519.7,458.6 518.0,459.1 516.4,458.0 514.7,459.5 513.0,459.0 511.3,458.9 509.7,458.9 508.0,459.3 506.3,459.1 504.7,459.5 503.0,458.3 501.3,457.9 499.7,459.0 498.0,457.6 496.3,458.6 494.6,458.0 493.0,458.5 491.3,458.6" fill="#ffa500" fill-opacity="0.25"/>
<polygon points="491.3,429.2 493.0,428.8 494.6,428.7 496.3,429.8 498.0,429.4 499.7,429.9 501.3,430.0 503.0,429.4 504.7,428.6 506.3,428.2 508.0,429.3 509.7,429.7 511.3,428.7 513.0,428.3 514.7,428.2 516.4,428.5 518.0,429.6 519.7,429.2 519.7,456.9 518.0,456.4 516.4,456.9 514.7,456.7 513.0,456.5 511.3,456.9 509.7,456.6 508.0,456.2 506.3,457.8 504.7,457.8 503.0,456.1 501.3,455.9 499.7,457.9 498.0,457.3 496.3,456.4 494.6,456.4 493.0,455.9 491.3,456.9" fill="#ffa500" fill-opacity="0.4"/>
<polygon points="491.3,430.5 493.0,430.0 494.6,430.0 496.3,430.1 498.0,430.0 499.7,430.6 501.3,430.7 503.0,430.2 504.7,430.9 506.3,430.8 508.0,430.3 509.7,430.5 511.3,430.1 513.0,431.0 514.7,430.6 516.4,430.0 518.0,430.1 519.7,430.5 519.7,455.6 518.0,455.7 516.4,455.8 514.7,455.1 513.0,455.3 511.3,455.9 509.7,456.0 508.0,455.8 506.3,455.2 504.7,455.7 503.0,455.1 501.3,456.0 499.7,456.0 498.0,455.3 496.3,455.9 494.6,455.5 493.0,455.8 491.3,455.6" fill="#ffa500"/>
<polygon points="527.0,424.0 528.6,423.3 530.2,423.4 531.8,424.2 533.4,423.2 535.0,424.3 536.7,423.5 538.3,423.5 539.9,423.8 541.5,424.1 543.1,424.4 544.7,423.1 546.3,424.4 547.9,423.4 549.5,423.6 551.1,424.3 552.8,424.4 554.4,424.2 556.0,424.8 557.6,423.4 559.2,423.6 560.8,424.3 562.4,423.5 564.0,423.3 565.6,423.5 567.2,424.5 568.8,424.7 570.5,424.4 572.1,424.9 573.7,424.6 575.3,423.6 576.9,423.6 578.5,424.4 580.1,423.1 581.7,424.2 583.3,423.2 584.9,423.1 586.6,424.0 588.2,423.3 589.8,424.9 591.4,424.8 593.0,423.9 594.6,423.4 596.2,423.2 597.8,424.0 599.4,424.0 601.0,423.7 602.6,424.4 604.3,424.1 605.9,424.6 607.5,423.2 609.1,423.1 610.7,423.8 612.3,424.0 613.9,423.5 615.5,424.3 617.1,423.4 618.7,423.6 620.4,424.0 622.0,424.4 623.6,424.5 625.2,423.7 626.8,423.9 628.4,424.0 628.4,460.7 626.8,460.0 625.2,461.7 623.6,460.6 622.0,460.2 620.4,460.2 618.7,460.4 617.1,461.3 615.5,459.9 613.9,461.6 612.3,460.1 610.7,460.0 609.1,461.2 607.5,461.1 605.9,460.6 604.3,460.3 602.6,460.9 601.0,461.6 599.4,460.6 597.8,461.5 596.2,461.5 594.6,461.2 593.0,460.2 591.4,459.9 589.8,461.6 588.2,460.2 586.6,459.9 584.9,460.4 583.3,460.6 581.7,461.2 580.1,460.0 578.5,460.0 576.9,461.4 575.3,460.8 573.7,460.0 572.1,459.8 570.5,459.9 568.8,460.0 567.2,461.2 565.6,460.3 564.0,459.8 562.4,461.6 560.8,459.9 559.2,460.5 557.6,459.9 556.0,460.6 554.4,461.2 552.8,461.2 551.1,459.8 549.5,460.3 547.9,460.9 546.3,460.6 544.7,460.0 543.1,461.5 541.5,461.7 539.9,459.8 538.3,460.3 536.7,461.0 535.0,460.6 533.4,459.9 531.8,460.9 530.2,461.6 528.6,461.6 527.0,460.7" fill="#ffa500" fill-opacity="0.12"/>
<polygon points="527.0,426.5 528.6,427.2 530.2,426.1 531.8,425.8 533.4,427.0 535.0,426.2 536.7,425.9 538.3,426.3 539.9,427.1 541.5,427.2 543.1,426.6 544.7,425.5 546.3,427.0 547.9,426.7 549.5,427.3 551.1,427.4 552.8,426.2 554.4,427.2 556.0,427.1 557.6,426.0 559.2,426.2 560.8,426.2 562.4,426.2 564.0,426.3 565.6,425.7 567.2,426.0 568.8,427.3 570.5,426.3 572.1,426.8 573.7,427.3 575.3,427.0 576.9,426.0 578.5,427.3 580.1,427.1 581.7,427.5 583.3,427.0 584.9,427.0 586.6,427.1 588.2,426.0 589.8,426.8 591.4,426.3 593.0,427.2 594.6,425.8 596.2,426.6 597.8,426.2 599.4,427.1 601.0,426.2 602.6,427.2 604.3,427.2 605.9,427.3 607.5,425.8 609.1,427.4 610.7,427.0 612.3,426.9 613.9,426.8 615.5,425.6 617.1,427.2 618.7,426.6 620.4,426.4 622.0,426.2 623.6,427.1 625.2,427.1 626.8,427.2 628.4,426.5 628.4,458.2 626.8,457.8 625.2,457.6 623.6,459.1 622.0,458.6 620.4,458.0 618.7,458.1 617.1,459.2 615.5,459.0 613.9,457.6 612.3,458.8 610.7,458.7 609.1,457.6 607.5,457.9 605.9,458.8 604.3,458.8 602.6,458.2 601.0,457.4 599.4,458.1 597.8,458.6 596.2,458.1 594.6,458.4 593.0,457.3 591.4,459.0 589.8,457.4 588.2,458.6 586.6,459.1 584.9,457.9 583.3,457.9 581.7,457.6 580.1,458.5 578.5,459.0 576.9,458.0 575.3,458.2 573.7,458.2 572.1,458.9 570.5,458.4 568.8,457.4 567.2,458.3 565.6,458.9 564.0,457.8 562.4,458.7 560.8,459.0 559.2,458.1 557.6,459.0 556.0,458.5 554.4,457.8 552.8,459.1 551.1,458.8 549.5,458.0 547.9,458.1 546.3,457.6 544.7,458.7 543.1,457.3 541.5,457.3 539.9,457.7 538.3,458.8 536.7,457.3 535.0,457.9 533.4,457.4 531.8,457.7 530.2,457.9 528.6,457.6 527.0,458.2" fill="#ffa500" fill-opacity="0.25"/>
<polygon points="527.0,428.2 528.6,427.9 530.2,428.7 531.8,427.6 533.4,428.3 535.0,428.2 536.7,428.5 538.3,427.5 539.9,429.1 541.5,429.2 543.1,428.3 544.7,428.8 546.3,427.6 547.9,429.0 549.5,428.3 551.1,428.7 552.8,428.9 554.4,427.9 556.0,429.0 557.6,427.6 559.2,427.2 560.8,428.2 562.4,429.0 564.0,429.0 565.6,429.1 567.2,428.2 568.8,429.1 570.5,428.3 572.1,427.5 573.7,428.5 575.3,428.8 576.9,428.0 578.5,428.4 580.1,427.7 581.7,427.8 583.3,428.0 584.9,428.2 586.6,428.1 588.2,427.4 589.8,427.2 591.4,427.9 593.0,428.6 594.6,428.7 596.2,427.7 597.8,427.7 599.4,428.2 601.0,427.6 602.6,428.4 604.3,429.0 605.9,427.6 607.5,428.4 609.1,428.6 610.7,428.7 612.3,428.6 613.9,428.6 615.5,427.7 617.1,428.9 618.7,429.1 620.4,427.3 622.0,429.1 623.6,428.1 625.2,427.4 626.8,427.3 628.4,428.2 628.4,456.5 626.8,456.9 625.2,456.7 623.6,457.1 622.0,457.2 620.4,456.2 618.7,455.8 617.1,457.4 615.5,457.0 613.9,456.8 612.3,456.6 610.7,456.1 609.1,456.4 607.5,456.3 605.9,457.3 604.3,456.8 602.6,456.2 601.0,457.0 599.4,457.2 597.8,455.5 596.2,456.6 594.6,457.2 593.0,455.8 591.4,456.3 589.8,456.9 588.2,456.2 586.6,456.4 584.9,456.2 583.3,456.3 581.7,457.4 580.1,456.9 578.5,455.6 576.9,455.8 575.3,455.8 573.7,456.7 572.1,455.9 570.5,456.4 568.8,457.4 567.2,456.5 565.6,457.4 564.0,456.4 562.4,456.5 560.8,455.9 559.2,456.5 557.6,456.1 556.0,455.9 554.4,455.7 552.8,455.9 551.1,455.8 549.5,456.1 547.9,456.7 546.3,456.3 544.7,455.8 543.1,455.9 541.5,456.0 539.9,457.0 538.3,456.2 536.7,457.5 535.0,456.8 533.4,456.4 531.8,455.8 530.2,456.9 528.6,457.1 527.0,456.5" fill="#ffa500" fill-opacity="0.4"/>
<polygon points="527.0,429.5 528.6,429.3 530.2,430.0 531.8,429.6 533.4,429.4 535.0,429.1 536.7,429.0 538.3,430.0 539.9,429.9 541.5,428.9 543.1,429.3 544.7,429.5 546.3,429.5 547.9,429.3 549.5,430.0 551.1,429.3 552.8,429.5 554.4,430.0 556.0,429.7 557.6,429.5 559.2,429.3 560.8,429.4 562.4,429.6 564.0,429.8 565.6,429.2 567.2,429.3 568.8,429.4 570.5,429.3 572.1,430.0 573.7,429.5 575.3,429.2 576.9,429.3 578.5,429.9 580.1,429.1 581.7,429.7 583.3,428.9 584.9,429.1 586.6,429.0 588.2,429.9 589.8,429.1 591.4,429.2 593.0,429.0 594.6,429.2 596.2,429.8 597.8,429.8 599.4,430.0 601.0,430.0 602.6,429.6 604.3,430.0 605.9,429.0 607.5,430.0 609.1,429.4 610.7,429.1 612.3,429.8 613.9,429.9 615.5,429.4 617.1,429.0 618.7,429.9 620.4,429.8 622.0,429.6 623.6,430.1 625.2,428.9 626.8,429.0 628.4,429.5 628.4,455.2 626.8,454.9 625.2,455.1 623.6,455.0 622.0,455.3 620.4,455.7 618.7,455.7 617.1,455.8 615.5,455.1 613.9,455.5 612.3,455.3 610.7,455.4 609.1,455.1 607.5,455.6 605.9,454.6 604.3,455.2 602.6,455.5 601.0,455.6 599.4,454.6 597.8,455.4 596.2,455.1 594.6,454.8 593.0,454.8 591.4,455.3 589.8,455.7 588.2,455.6 586.6,455.7 584.9,455.1 583.3,455.0 581.7,455.3 580.1,455.7 578.5,455.1 576.9,455.3 575.3,455.5 573.7,455.1 572.1,454.6 570.5,455.4 568.8,455.2 567.2,454.7 565.6,455.5 564.0,455.0 562.4,454.8 560.8,454.8 559.2,454.8 557.6,455.4 556.0,455.8 554.4,455.8 552.8,454.9 551.1,454.9 549.5,455.1 547.9,455.1 546.3,455.8 544.7,455.0 543.1,455.8 541.5,455.4 539.9,455.3 538.3,454.8 536.7,454.8 535.0,454.7 533.4,455.4 531.8,455.4 530.2,454.6 528.6,454.7 527.0,455.2" fill="#ffa500"/>
<polygon points="630.5,425.0 632.1,425.8 633.7,425.6 635.4,425.6 637.0,425.6 638.6,426.0 640.2,425.4 641.8,424.6 643.5,425.5 645.1,424.5 646.7,425.2 648.3,424.3 649.9,425.7 651.6,425.0 653.2,424.6 654.8,425.8 656.4,424.2 658.0,425.9 659.7,425.5 661.3,424.3 662.9,425.5 664.5,425.1 666.1,425.8 667.8,425.2 669.4,424.9 671.0,425.9 672.6,424.2 674.2,425.6 675.9,424.2 677.5,424.6 679.1,424.2 680.7,425.7 682.3,424.9 683.9,425.5 685.6,424.5 687.2,425.5 688.8,425.3 690.4,424.2 692.0,425.0 693.7,425.4 695.3,424.4 696.9,425.3 698.5,424.6 700.1,424.7 701.8,425.8 703.4,425.9 705.0,426.0 706.6,424.9 708.2,425.1 709.9,425.6 711.5,425.5 713.1,424.9 714.7,425.7 716.3,424.8 718.0,425.9 719.6,424.9 721.2,424.2 722.8,425.5 724.4,424.3 726.1,425.4 727.7,424.1 729.3,425.0 729.3,461.1 727.7,461.1 726.1,461.0 724.4,460.4 722.8,460.4 721.2,460.9 719.6,461.2 718.0,461.5 716.3,460.4 714.7,461.9 713.1,462.0 711.5,461.7 709.9,461.0 708.2,460.6 706.6,461.6 705.0,461.5 703.4,461.7 701.8,461.9 700.1,460.3 698.5,461.0 696.9,461.8 695.3,461.2 693.7,461.4 692.0,461.6 690.4,462.0 688.8,461.3 687.2,461.9 685.6,460.5 683.9,461.9 682.3,460.6 680.7,461.7 679.1,461.0 677.5,462.0 675.9,460.4 674.2,460.8 672.6,461.1 671.0,460.5 669.4,460.3 667.8,461.7 666.1,460.4 664.5,460.5 662.9,462.0 661.3,460.8 659.7,461.6 658.0,461.5 656.4,461.0 654.8,461.0 653.2,460.2 651.6,461.9 649.9,461.8 648.3,460.3 646.7,461.1 645.1,460.2 643.5,461.7 641.8,460.6 640.2,460.9 638.6,461.4 637.0,460.4 635.4,461.6 633.7,461.2 632.1,462.1 630.5,461.1" fill="#ffa500" fill-opacity="0.12"/>
<polygon points="630.5,427.5 632.1,427.0 633.7,427.2 635.4,427.6 637.0,428.0 638.6,427.7 640.2,426.8 641.8,428.3 643.5,427.2 645.1,428.4 646.7,428.5 648.3,426.8 649.9,427.7 651.6,428.4 653.2,427.3 654.8,427.6 656.4,427.1 658.0,426.6 659.7,426.9 661.3,426.7 662.9,427.1 664.5,427.8 666.1,427.6 667.8,428.4 669.4,427.9 671.0,427.2 672.6,428.4 674.2,427.8 675.9,427.6 677.5,428.2 679.1,427.8 680.7,427.2 682.3,427.7 683.9,427.1 685.6,428.4 687.2,427.0 688.8,428.4 690.4,426.6 692.0,426.5 693.7,427.6 695.3,426.9 696.9,427.5 698.5,426.7 700.1,428.2 701.8,427.8 703.4,427.9 705.0,428.4 706.6,428.5 708.2,427.9 709.9,427.9 711.5,426.5 713.1,426.6 714.7,427.4 716.3,428.4 718.0,427.1 719.6,427.6 721.2,426.5 722.8,427.3 724.4,428.3 726.1,427.7 727.7,428.1 729.3,427.5 729.3,458.6 727.7,459.3 726.1,458.9 724.4,458.0 722.8,459.1 721.2,458.3 719.6,458.4 718.0,458.6 716.3,457.8 714.7,458.1 713.1,459.2 711.5,458.1 709.9,459.1 708.2,458.1 706.6,458.4 705.0,457.7 703.4,457.6 701.8,458.7 700.1,458.4 698.5,458.7 696.9,458.7 695.3,458.6 693.7,457.9 692.0,459.2 690.4,458.8 688.8,457.9 687.2,457.9 685.6,457.9 683.9,458.1 682.3,459.4 680.7,458.3 679.1,458.7 677.5,459.1 675.9,457.9 674.2,458.9 672.6,458.8 671.0,459.6 669.4,459.6 667.8,459.5 666.1,458.9 664.5,458.3 662.9,457.9 661.3,458.1 659.7,459.1 658.0,457.8 656.4,459.6 654.8,459.3 653.2,457.7 651.6,459.0 649.9,458.4 648.3,459.5 646.7,458.2 645.1,458.6 643.5,459.4 641.8,458.1 640.2,459.5 638.6,457.8 637.0,459.3 635.4,458.0 633.7,458.0 632.1,457.6 630.5,458.6" fill="#ffa500" fill-opacity="0.25"/>
<polygon points="630.5,429.2 632.1,429.1 633.7,429.2 635.4,430.0 637.0,429.4 638.6,428.6 640.2,428.3 641.8,428.4 643.5,428.9 645.1,428.4 646.7,429.5 648.3,429.0 649.9,428.8 651.6,429.2 653.2,430.1 654.8,428.7 656.4,428.5 658.0,428.8 659.7,428.8 661.3,430.0 662.9,429.6 664.5,429.1 666.1,428.5 667.8,428.3 669.4,428.4 671.0,429.9 672.6,429.5 674.2,428.5 675.9,429.5 677.5,428.3 679.1,429.2 680.7,428.9 682.3,428.4 683.9,429.7 685.6,429.6 687.2,429.2 688.8,428.5 690.4,429.5 692.0,429.1 693.7,429.5 695.3,428.4 696.9,430.0 698.5,428.2 700.1,428.6 701.8,429.0 703.4,428.6 705.0,428.4 706.6,429.6 708.2,430.2 709.9,428.9 711.5,428.7 713.1,429.5 714.7,428.6 716.3,429.0 718.0,429.6 719.6,429.1 721.2,428.5 722.8,428.3 724.4,429.3 726.1,430.2 727.7,430.0 729.3,429.2 729.3,456.9 727.7,456.9 726.1,456.3 724.4,457.0 722.8,457.8 721.2,457.2 719.6,457.8 718.0,457.1 716.3,457.6 714.7,457.5 713.1,457.7 711.5,456.5 709.9,457.9 708.2,457.6 706.6,456.6 705.0,456.0 703.4,455.9 701.8,457.2 700.1,456.7 698.5,456.1 696.9,457.3 695.3,457.6 693.7,456.2 692.0,457.2 690.4,457.6 688.8,457.4 687.2,456.1 685.6,455.9 683.9,456.8 682.3,457.9 680.7,456.5 679.1,457.3 677.5,456.6 675.9,457.3 674.2,456.6 672.6,457.3 671.0,457.1 669.4,456.0 667.8,456.5 666.1,456.1 664.5,457.5 662.9,457.3 661.3,456.0 659.7,457.9 658.0,457.1 656.4,457.3 654.8,457.3 653.2,456.2 651.6,456.9 649.9,456.2 648.3,456.8 646.7,457.5 645.1,457.8 643.5,456.5 641.8,457.5 640.2,456.9 638.6,457.2 637.0,456.3 635.4,456.9 633.7,456.9 632.1,456.1 630.5,456.9" fill="#ffa500" fill-opacity="0.4"/>
<polygon points="630.5,430.5 632.1,430.5 633.7,430.3 635.4,430.3 637.0,430.5 638.6,430.6 640.2,430.2 641.8,430.2 643.5,430.5 645.1,430.5 646.7,430.4 648.3,430.7 649.9,430.1 651.6,430.5 653.2,430.2 654.8,430.8 656.4,430.7 658.0,430.8 659.7,430.5 661.3,430.2 662.9,431.0 664.5,430.5 666.1,430.4 667.8,430.2 669.4,430.4 671.0,430.8 672.6,430.9 674.2,430.5 675.9,430.8 677.5,430.2 679.1,430.4 680.7,430.3 682.3,430.3 683.9,430.3 685.6,430.8 687.2,430.8 688.8,430.1 690.4,430.2 692.0,430.8 693.7,430.7 695.3,430.7 696.9,430.7 698.5,430.7 700.1,430.2 701.8,430.0 703.4,430.3 705.0,429.9 706.6,431.1 708.2,430.5 709.9,430.7 711.5,431.1 713.1,430.9 714.7,430.2 716.3,430.3 718.0,430.0 719.6,430.9 721.2,430.8 722.8,430.5 724.4,430.3 726.1,430.2 727.7,430.5 729.3,430.5 729.3,455.6 727.7,456.2 726.1,455.1 724.4,456.1 722.8,455.4 721.2,455.5 719.6,455.4 718.0,455.3 716.3,455.1 714.7,455.6 713.1,455.7 711.5,455.8 709.9,455.4 708.2,455.0 706.6,455.4 705.0,455.7 703.4,455.7 701.8,455.3 700.1,456.1 698.5,456.0 696.9,455.2 695.3,455.4 693.7,455.7 692.0,455.8 690.4,455.0 688.8,455.2 687.2,455.7 685.6,455.8 683.9,455.4 682.3,455.9 680.7,455.4 679.1,455.0 677.5,455.5 675.9,455.5 674.2,455.0 672.6,455.3 671.0,455.7 669.4,455.5 667.8,455.5 666.1,456.1 664.5,455.1 662.9,455.4 661.3,455.9 659.7,455.2 658.0,455.5 656.4,456.1 654.8,456.0 653.2,455.4 651.6,456.0 649.9,456.1 648.3,455.3 646.7,455.2 645.1,455.2 643.5,456.2 641.8,455.4 640.2,455.5 638.6,455.5 637.0,456.0 635.4,456.0 633.7,456.1 632.1,455.9 630.5,455.6" fill="#ffa500"/>
<polygon points="731.1,425.0 732.7,424.5 734.4,425.7 736.0,424.5 737.6,425.2 739.2,424.8 740.9,424.1 742.5,425.6 744.1,425.6 745.7,424.5 747.4,425.6 749.0,425.0 750.6,426.0 752.2,424.1 753.9,424.8 755.5,424.5 757.1,425.2 758.7,425.6 760.4,425.7 762.0,425.1 763.6,424.8 765.2,425.6 766.9,424.2 768.5,424.5 770.1,425.5 771.7,424.9 773.4,426.0 775.0,424.2 776.6,424.9 778.2,424.4 779.9,424.0 781.5,425.0 781.5,460.1 779.9,460.8 778.2,459.8 776.6,459.8 775.0,460.2 773.4,460.4 771.7,459.3 770.1,459.8 768.5,461.0 766.9,459.3 765.2,459.7 763.6,460.2 762.0,460.3 760.4,459.8 758.7,459.8 757.1,460.9 755.5,459.5 753.9,460.8 752.2,459.8 750.6,460.1 749.0,460.1 747.4,459.4 745.7,461.1 744.1,460.1 742.5,460.5 740.9,459.7 739.2,460.1 737.6,460.0 736.0,459.8 734.4,459.3 732.7,459.3 731.1,460.1" fill="#ffa500" fill-opacity="0.12"/>
<polygon points="731.1,427.5 732.7,427.2 734.4,427.3 736.0,428.4 737.6,427.2 739.2,427.3 740.9,426.8 742.5,427.8 744.1,427.8 745.7,427.4 747.4,427.3 749.0,427.0 750.6,428.1 752.2,427.4 753.9,428.2 755.5,427.2 757.1,428.0 758.7,426.6 760.4,426.9 762.0,428.4 763.6,427.9 765.2,427.9 766.9,427.5 768.5,427.4 770.1,426.9 771.7,426.8 773.4,427.8 775.0,427.9 776.6,427.0 778.2,427.8 779.9,426.8 781.5,427.5 781.5,457.6 779.9,458.5 778.2,458.5 776.6,456.7 775.0,457.8 773.4,456.8 771.7,457.9 770.1,458.2 768.5,458.5 766.9,457.5 765.2,457.3 763.6,458.1 762.0,457.7 760.4,458.3 758.7,457.5 757.1,457.0 755.5,457.7 753.9,458.2 752.2,457.8 750.6,457.7 749.0,458.0 747.4,457.2 745.7,456.9 744.1,457.8 742.5,457.6 740.9,456.9 739.2,457.7 737.6,457.2 736.0,457.6 734.4,456.9 732.7,457.8 731.1,457.6" fill="#ffa500" fill-opacity="0.25"/>
<polygon points="731.1,429.2 732.7,429.7 734.4,428.7 736.0,429.9 737.6,428.6 739.2,429.9 740.9,429.2 742.5,428.2 744.1,430.0 745.7,429.1 747.4,429.9 749.0,429.6 750.6,429.3 752.2,429.9 753.9,428.6 755.5,430.0 757.1,428.9 758.7,428.3 760.4,428.9 762.0,428.3 763.6,428.3 765.2,429.4 766.9,428.4 768.5,428.5 770.1,428.8 771.7,428.8 773.4,430.0 775.0,430.0 776.6,429.9 778.2,430.2 779.9,429.1 781.5,429.2 781.5,455.9 779.9,455.9 778.2,455.9 776.6,455.6 775.0,456.8 773.4,455.3 771.7,455.3 770.1,455.7 768.5,456.3 766.9,455.4 765.2,456.6 763.6,456.4 762.0,455.5 760.4,456.8 758.7,455.3 757.1,455.8 755.5,456.5 753.9,455.8 752.2,456.3 750.6,455.2 749.0,456.6 747.4,456.1 745.7,456.0 744.1,456.8 742.5,455.1 740.9,455.4 739.2,456.4 737.6,456.5 736.0,456.8 734.4,455.5 732.7,456.5 731.1,455.9" fill="#ffa500" fill-opacity="0.4"/>
<polygon points="731.1,430.5 732.7,429.9 734.4,430.8 736.0,430.8 737.6,431.0 739.2,430.3 740.9,430.2 742.5,430.3 744.1,430.8 745.7,430.7 747.4,430.4 749.0,430.5 750.6,430.1 752.2,431.0 753.9,430.5 755.5,430.5 757.1,430.8 758.7,430.1 760.4,430.8 762.0,430.3 763.6,430.9 765.2,430.0 766.9,430.2 768.5,430.7 770.1,430.5 771.7,430.4 773.4,430.6 775.0,430.2 776.6,430.4 778.2,429.9 779.9,430.9 781.5,430.5 781.5,454.6 779.9,454.5 778.2,454.6 776.6,454.6 775.0,454.2 773.4,454.7 771.7,454.2 770.1,454.2 768.5,454.5 766.9,455.0 765.2,454.3 763.6,454.2 762.0,454.6 760.4,454.5 758.7,454.1 757.1,454.2 755.5,455.1 753.9,454.8 752.2,454.5 750.6,455.0 749.0,454.8 747.4,454.9 745.7,455.0 744.1,454.4 742.5,454.9 740.9,454.2 739.2,454.8 737.6,454.7 736.0,454.7 734.4,455.0 732.7,454.3 731.1,454.6" fill="#ffa500"/>
<rect x="520.6" y="434.4" width="5.8" height="19.3" fill="#ffa500" fill-opacity="0.75"/>
<rect x="628.2" y="430.0" width="2.5" height="25.0" fill="#ffa500" fill-opacity="0.4"/>
<rect x="729.1" y="430.0" width="2.2" height="25.0" fill="#ffa500" fill-opacity="0.4"/>
<rect x="783.0" y="363.0" width="2.5" height="45.0" fill="#ffa500" fill-opacity="0.22"/>
<polygon points="86.0,540.0 100.0,538.5 104.0,560.0 105.8,575.0 105.8,589.1 86.0,589.1" fill="#0000ff" fill-opacity="0.07"/>
<path d="M95.0 579.2l1.6 1.6l-1.6 1.6l-1.6 -1.6zM86.1 583.9l1.6 1.6l-1.6 1.6l-1.6 -1.6zM89.4 538.5l1.6 1.6l-1.6 1.6l-1.6 -1.6zM99.8 565.6l1.6 1.6l-1.6 1.6l-1.6 -1.6zM95.6 547.7l1.6 1.6l-1.6 1.6l-1.6 -1.6zM100.0 552.2l1.6 1.6l-1.6 1.6l-1.6 -1.6zM99.0 548.2l1.6 1.6l-1.6 1.6l-1.6 -1.6zM96.2 569.6l1.6 1.6l-1.6 1.6l-1.6 -1.6zM92.6 561.0l1.6 1.6l-1.6 1.6l-1.6 -1.6zM87.0 569.3l1.6 1.6l-1.6 1.6l-1.6 -1.6zM98.4 544.4l1.6 1.6l-1.6 1.6l-1.6 -1.6zM95.8 573.9l1.6 1.6l-1.6 1.6l-1.6 -1.6zM87.6 579.3l1.6 1.6l-1.6 1.6l-1.6 -1.6zM90.3 540.9l1.6 1.6l-1.6 1.6l-1.6 -1.6zM90.4 541.0l1.6 1.6l-1.6 1.6l-1.6 -1.6zM94.7 549.3l1.6 1.6l-1.6 1.6l-1.6 -1.6zM91.3 560.1l1.6 1.6l-1.6 1.6l-1.6 -1.6zM92.6 576.7l1.6 1.6l-1.6 1.6l-1.6 -1.6zM99.0 542.4l1.6 1.6l-1.6 1.6l-1.6 -1.6zM89.9 537.0l1.6 1.6l-1.6 1.6l-1.6 -1.6zM91.8 542.1l1.6 1.6l-1.6 1.6l-1.6 -1.6zM98.5 576.3l1.6 1.6l-1.6 1.6l-1.6 -1.6zM86.5 575.1l1.6 1.6l-1.6 1.6l-1.6 -1.6zM93.3 584.0l1.6 1.6l-1.6 1.6l-1.6 -1.6zM92.9 552.5l1.6 1.6l-1.6 1.6l-1.6 -1.6zM87.1 584.8l1.6 1.6l-1.6 1.6l-1.6 -1.6zM95.1 559.0l1.6 1.6l-1.6 1.6l-1.6 -1.6zM93.8 575.7l1.6 1.6l-1.6 1.6l-1.6 -1.6zM100.9 560.8l1.6 1.6l-1.6 1.6l-1.6 -1.6zM89.0 557.3l1.6 1.6l-1.6 1.6l-1.6 -1.6zM102.0 557.4l1.6 1.6l-1.6 1.6l-1.6 -1.6zM97.8 565.1l1.6 1.6l-1.6 1.6l-1.6 -1.6zM94.2 565.9l1.6 1.6l-1.6 1.6l-1.6 -1.6zM90.3 565.0l1.6 1.6l-1.6 1.6l-1.6 -1.6zM92.5 581.4l1.6 1.6l-1.6 1.6l-1.6 -1.6zM97.2 568.8l1.6 1.6l-1.6 1.6l-1.6 -1.6zM101.1 560.5l1.6 1.6l-1.6 1.6l-1.6 -1.6zM88.2 551.9l1.6 1.6l-1.6 1.6l-1.6 -1.6zM98.8 573.7l1.6 1.6l-1.6 1.6l-1.6 -1.6zM89.5 569.3l1.6 1.6l-1.6 1.6l-1.6 -1.6zM97.8 570.1l1.6 1.6l-1.6 1.6l-1.6 -1.6zM86.2 559.1l1.6 1.6l-1.6 1.6l-1.6 -1.6zM91.7 567.0l1.6 1.6l-1.6 1.6l-1.6 -1.6zM91.9 543.1l1.6 1.6l-1.6 1.6l-1.6 -1.6zM98.0 551.2l1.6 1.6l-1.6 1.6l-1.6 -1.6zM100.2 552.2l1.6 1.6l-1.6 1.6l-1.6 -1.6zM95.7 577.7l1.6 1.6l-1.6 1.6l-1.6 -1.6zM87.9 573.8l1.6 1.6l-1.6 1.6l-1.6 -1.6zM87.0 584.3l1.6 1.6l-1.6 1.6l-1.6 -1.6zM86.3 573.5l1.6 1.6l-1.6 1.6l-1.6 -1.6zM92.5 545.7l1.6 1.6l-1.6 1.6l-1.6 -1.6zM93.0 562.1l1.6 1.6l-1.6 1.6l-1.6 -1.6zM93.4 542.8l1.6 1.6l-1.6 1.6l-1.6 -1.6zM95.3 551.9l1.6 1.6l-1.6 1.6l-1.6 -1.6zM93.7 548.2l1.6 1.6l-1.6 1.6l-1.6 -1.6zM97.6 579.0l1.6 1.6l-1.6 1.6l-1.6 -1.6zM93.0 575.0l1.6 1.6l-1.6 1.6l-1.6 -1.6zM90.9 542.2l1.6 1.6l-1.6 1.6l-1.6 -1.6zM86.6 559.5l1.6 1.6l-1.6 1.6l-1.6 -1.6zM93.8 575.4l1.6 1.6l-1.6 1.6l-1.6 -1.6z" fill="#0000ff" fill-opacity="0.22"/>
<path d="M91.4 571.3l1.6 1.6l-1.6 1.6l-1.6 -1.6zM96.3 576.5l1.6 1.6l-1.6 1.6l-1.6 -1.6zM104.8 585.5l1.6 1.6l-1.6 1.6l-1.6 -1.6zM90.6 579.1l1.6 1.6l-1.6 1.6l-1.6 -1.6zM94.2 569.0l1.6 1.6l-1.6 1.6l-1.6 -1.6zM94.8 585.9l1.6 1.6l-1.6 1.6l-1.6 -1.6zM91.9 579.6l1.6 1.6l-1.6 1.6l-1.6 -1.6zM100.1 569.6l1.6 1.6l-1.6 1.6l-1.6 -1.6zM104.5 570.5l1.6 1.6l-1.6 1.6l-1.6 -1.6zM91.9 582.1l1.6 1.6l-1.6 1.6l-1.6 -1.6zM86.2 575.6l1.6 1.6l-1.6 1.6l-1.6 -1.6zM88.4 577.4l1.6 1.6l-1.6 1.6l-1.6 -1.6zM86.1 571.3l1.6 1.6l-1.6 1.6l-1.6 -1.6zM90.3 570.0l1.6 1.6l-1.6 1.6l-1.6 -1.6zM87.6 572.1l1.6 1.6l-1.6 1.6l-1.6 -1.6zM96.3 571.0l1.6 1.6l-1.6 1.6l-1.6 -1.6zM102.4 576.4l1.6 1.6l-1.6 1.6l-1.6 -1.6zM90.9 573.0l1.6 1.6l-1.6 1.6l-1.6 -1.6zM102.8 569.3l1.6 1.6l-1.6 1.6l-1.6 -1.6zM100.8 570.3l1.6 1.6l-1.6 1.6l-1.6 -1.6zM104.9 576.2l1.6 1.6l-1.6 1.6l-1.6 -1.6zM97.9 584.9l1.6 1.6l-1.6 1.6l-1.6 -1.6zM87.8 569.6l1.6 1.6l-1.6 1.6l-1.6 -1.6zM99.8 579.6l1.6 1.6l-1.6 1.6l-1.6 -1.6zM100.4 573.7l1.6 1.6l-1.6 1.6l-1.6 -1.6z" fill="#0000ff" fill-opacity="0.22"/>
<rect x="97.1" y="572.6" width="3.1" height="16.5" fill="#0000ff"/>
<polygon points="100.2,574.2 102.1,576.3 103.9,577.8 105.8,580.3 107.5,578.7 109.3,577.8 111.0,576.0 112.7,575.2 114.4,575.1 116.1,573.5 119.2,577.8 120.9,577.3 122.6,576.9 124.3,576.7 126.0,575.6 127.8,573.9 129.5,572.6 131.5,570.1 133.6,568.3 135.6,567.1 137.7,566.5 139.7,567.9 141.8,568.1 143.5,568.0 145.2,567.5 146.9,566.1 148.7,566.7 150.4,566.0 152.1,565.0 154.1,566.8 156.1,566.7 158.0,567.5 160.0,567.6 161.6,566.8 163.2,568.1 164.8,567.0 166.4,567.2 168.0,567.7 169.6,567.1 171.2,567.5 172.8,567.9 174.4,566.9 176.0,567.9 177.6,567.0 179.2,567.6 180.8,567.9 182.4,567.9 184.0,566.9 185.6,567.2 187.2,568.4 188.8,567.5 190.4,567.6 192.0,567.5 193.6,568.0 195.2,568.1 196.8,568.0 198.4,567.6 200.0,567.9 201.6,567.8 203.2,567.3 204.8,568.5 206.4,568.5 208.0,568.2 209.6,568.6 211.2,567.8 212.8,568.4 214.4,567.4 216.0,568.2 217.6,568.2 219.2,568.6 220.8,568.4 222.4,568.5 224.0,567.5 225.6,568.4 227.2,567.9 228.8,567.6 230.4,567.7 232.0,568.4 233.6,568.5 235.2,568.5 236.8,568.3 238.4,567.5 240.0,567.4 241.6,568.1 243.2,567.5 244.9,567.7 246.5,567.3 248.1,567.4 249.7,568.3 251.4,567.5 253.0,568.4 254.6,567.6 256.2,568.4 257.8,567.5 259.5,567.5 261.1,567.7 262.7,567.0 264.3,567.7 265.9,567.6 267.6,567.0 269.2,568.3 270.8,567.5 272.4,566.9 274.1,568.5 275.7,567.3 277.3,567.3 278.9,566.9 280.5,567.0 282.2,568.0 283.8,567.8 285.4,567.6 287.0,567.2 288.6,567.3 290.3,568.3 291.9,567.4 293.5,568.3 295.1,568.2 296.8,566.9 298.4,568.1 300.0,566.7 301.7,567.8 303.3,568.0 305.0,567.8 306.7,567.5 308.3,567.9 310.0,566.9 311.7,567.5 313.3,567.0 315.0,567.2 316.7,566.9 318.3,567.7 320.0,567.5 321.7,567.8 323.3,567.5 325.0,567.5 326.7,568.0 328.3,567.8 330.0,567.4 331.6,567.0 333.2,567.9 334.8,566.9 336.4,566.5 338.0,566.8 339.6,567.3 341.2,567.6 342.8,567.1 344.4,567.1 346.0,567.5 347.6,567.2 349.2,566.6 350.8,566.6 352.4,567.0 354.0,566.2 355.6,565.8 357.2,566.6 358.8,566.9 360.4,565.9 362.0,566.6 363.6,566.8 365.2,565.6 366.8,565.5 368.4,566.0 370.0,565.7 371.8,566.6 373.6,566.6 375.4,565.7 377.2,566.1 379.0,565.8 380.8,565.0 382.5,565.5 382.5,573.8 380.8,573.7 379.0,574.3 377.2,573.6 375.4,573.4 373.6,573.8 371.8,574.6 370.0,574.6 368.4,573.6 366.8,574.6 365.2,574.7 363.6,574.0 362.0,575.1 360.4,575.1 358.8,574.0 357.2,574.7 355.6,574.3 354.0,574.4 352.4,574.9 350.8,575.4 349.2,575.2 347.6,575.2 346.0,574.7 344.4,575.7 342.8,575.6 341.2,574.9 339.6,576.0 338.0,575.8 336.4,575.5 334.8,575.8 333.2,575.8 331.6,574.8 330.0,576.0 328.3,576.1 326.7,574.8 325.0,575.1 323.3,576.1 321.7,576.3 320.0,575.2 318.3,576.2 316.7,576.2 315.0,575.2 313.3,575.8 311.7,576.3 310.0,575.2 308.3,576.0 306.7,576.2 305.0,575.6 303.3,575.4 301.7,575.4 300.0,575.7 298.4,575.3 296.8,576.7 295.1,576.1 293.5,575.9 291.9,576.6 290.3,575.5 288.6,576.8 287.0,576.1 285.4,575.8 283.8,575.4 282.2,576.8 280.5,576.6 278.9,576.3 277.3,575.7 275.7,576.7 274.1,576.0 272.4,576.0 270.8,576.3 269.2,575.9 267.6,577.0 265.9,576.7 264.3,577.0 262.7,576.4 261.1,576.0 259.5,576.5 257.8,576.4 256.2,576.7 254.6,575.9 253.0,576.2 251.4,576.0 249.7,576.9 248.1,576.7 246.5,575.7 244.9,576.9 243.2,575.8 241.6,577.1 240.0,576.2 238.4,575.7 236.8,577.2 235.2,576.8 233.6,576.5 232.0,576.6 230.4,576.4 228.8,576.6 227.2,577.1 225.6,576.7 224.0,576.4 222.4,576.3 220.8,575.6 219.2,577.1 217.6,576.4 216.0,576.9 214.4,576.4 212.8,576.9 211.2,576.3 209.6,575.9 208.0,576.4 206.4,576.6 204.8,575.8 203.2,575.9 201.6,576.2 200.0,575.7 198.4,576.7 196.8,576.6 195.2,576.7 193.6,575.7 192.0,576.3 190.4,576.6 188.8,575.3 187.2,576.4 185.6,576.7 184.0,576.5 182.4,576.1 180.8,575.3 179.2,576.0 177.6,576.4 176.0,576.2 174.4,575.2 172.8,575.7 171.2,575.8 169.6,575.6 168.0,575.8 166.4,575.1 164.8,575.9 163.2,575.4 161.6,575.5 160.0,574.9 158.4,575.8 156.7,575.8 155.1,576.1 153.4,576.3 151.8,575.8 150.2,576.0 148.5,575.3 146.9,574.7 145.3,574.7 143.6,574.5 142.0,575.0 140.3,574.8 138.7,576.0 137.0,576.7 135.3,577.7 133.6,579.3 131.8,580.9 130.1,581.9 128.4,583.4 126.7,584.5 125.0,585.7 123.3,587.6 120.2,591.0 118.5,591.2 116.8,590.5 115.1,591.3 113.4,590.5 111.7,590.6 110.0,589.8 107.9,589.8 105.8,588.4 103.9,587.0 102.1,586.7 100.2,584.4" fill="#0000ff" fill-opacity="0.3"/>
<polygon points="100.2,575.2 102.1,577.6 103.9,578.9 105.8,580.9 107.5,579.9 109.3,579.1 111.0,576.9 112.7,576.1 114.4,576.2 116.1,574.7 119.2,578.5 120.9,577.8 122.6,578.0 124.3,578.5 126.0,577.0 127.8,574.8 129.5,573.1 131.5,570.7 133.6,569.2 135.6,567.2 137.7,568.2 139.7,568.4 141.8,568.8 143.5,568.2 145.2,568.1 146.9,567.1 148.7,567.0 150.4,566.6 152.1,566.2 154.1,567.3 156.1,567.2 158.0,567.8 160.0,568.2 161.6,568.9 163.2,568.7 164.8,568.5 166.4,568.4 168.0,569.1 169.6,569.1 171.2,568.5 172.8,568.7 174.4,569.0 176.0,568.3 177.6,568.3 179.2,568.1 180.8,568.6 182.4,569.0 184.0,568.2 185.6,568.6 187.2,569.3 188.8,568.7 190.4,568.5 192.0,569.1 193.6,569.2 195.2,568.6 196.8,568.3 198.4,568.9 200.0,569.0 201.6,569.3 203.2,569.0 204.8,568.5 206.4,568.8 208.0,568.5 209.6,568.7 211.2,568.8 212.8,569.3 214.4,569.3 216.0,569.4 217.6,568.8 219.2,569.4 220.8,568.4 222.4,569.4 224.0,569.1 225.6,569.4 227.2,568.8 228.8,569.5 230.4,568.4 232.0,569.4 233.6,569.3 235.2,568.8 236.8,569.4 238.4,568.6 240.0,569.3 241.6,568.9 243.2,568.9 244.9,568.6 246.5,569.3 248.1,569.2 249.7,568.4 251.4,569.5 253.0,568.6 254.6,568.7 256.2,568.8 257.8,568.9 259.5,569.3 261.1,569.4 262.7,569.0 264.3,568.6 265.9,568.3 267.6,568.3 269.2,568.8 270.8,568.8 272.4,568.7 274.1,569.3 275.7,568.6 277.3,568.5 278.9,568.6 280.5,568.3 282.2,569.2 283.8,568.7 285.4,568.7 287.0,568.5 288.6,568.3 290.3,568.4 291.9,568.6 293.5,568.5 295.1,569.1 296.8,568.6 298.4,568.2 300.0,568.0 301.7,568.1 303.3,568.3 305.0,568.8 306.7,568.9 308.3,568.1 310.0,568.8 311.7,568.4 313.3,568.5 315.0,568.4 316.7,567.8 318.3,567.9 320.0,568.6 321.7,568.6 323.3,568.2 325.0,568.8 326.7,568.7 328.3,568.1 330.0,567.8 331.6,568.3 333.2,568.4 334.8,567.8 336.4,567.5 338.0,568.0 339.6,567.4 341.2,568.2 342.8,568.0 344.4,567.6 346.0,567.7 347.6,567.4 349.2,567.3 350.8,567.2 352.4,568.0 354.0,567.5 355.6,567.7 357.2,567.2 358.8,567.7 360.4,567.4 362.0,567.4 363.6,567.1 365.2,567.2 366.8,566.7 368.4,567.6 370.0,567.2 371.8,567.0 373.6,567.0 375.4,566.3 377.2,566.5 379.0,566.3 380.8,566.9 382.5,566.5 382.5,572.8 380.8,573.2 379.0,572.4 377.2,572.9 375.4,572.4 373.6,573.1 371.8,572.9 370.0,573.6 368.4,573.2 366.8,573.7 365.2,573.2 363.6,573.9 362.0,572.9 360.4,573.8 358.8,573.5 357.2,573.8 355.6,573.4 354.0,574.0 352.4,574.1 350.8,573.3 349.2,574.4 347.6,573.4 346.0,574.1 344.4,574.3 342.8,574.4 341.2,574.6 339.6,573.7 338.0,574.8 336.4,574.3 334.8,574.0 333.2,574.9 331.6,575.0 330.0,574.3 328.3,575.1 326.7,574.4 325.0,574.4 323.3,575.1 321.7,574.6 320.0,575.0 318.3,574.4 316.7,574.3 315.0,575.2 313.3,574.9 311.7,574.3 310.0,575.2 308.3,574.5 306.7,574.9 305.0,574.5 303.3,574.5 301.7,574.7 300.0,574.4 298.4,575.3 296.8,574.7 295.1,575.6 293.5,575.0 291.9,575.2 290.3,574.7 288.6,575.3 287.0,575.1 285.4,574.9 283.8,575.5 282.2,575.2 280.5,574.8 278.9,575.4 277.3,574.6 275.7,575.7 274.1,575.7 272.4,574.7 270.8,575.4 269.2,575.7 267.6,574.8 265.9,575.1 264.3,575.3 262.7,575.4 261.1,575.7 259.5,575.8 257.8,575.2 256.2,575.6 254.6,575.7 253.0,575.4 251.4,575.2 249.7,575.4 248.1,575.5 246.5,575.1 244.9,575.1 243.2,575.0 241.6,575.3 240.0,575.0 238.4,575.1 236.8,575.2 235.2,575.9 233.6,574.9 232.0,575.2 230.4,575.8 228.8,574.8 227.2,575.8 225.6,575.3 224.0,575.0 222.4,575.1 220.8,575.1 219.2,574.7 217.6,575.8 216.0,575.8 214.4,574.9 212.8,575.3 211.2,575.4 209.6,575.5 208.0,574.9 206.4,575.7 204.8,575.6 203.2,574.9 201.6,575.1 200.0,574.8 198.4,574.6 196.8,574.6 195.2,575.4 193.6,574.6 192.0,575.3 190.4,574.6 188.8,575.1 187.2,575.2 185.6,574.8 184.0,574.5 182.4,574.7 180.8,574.7 179.2,574.5 177.6,575.2 176.0,575.0 174.4,574.9 172.8,574.5 171.2,575.0 169.6,575.1 168.0,574.7 166.4,574.9 164.8,575.1 163.2,574.9 161.6,574.4 160.0,574.1 158.4,574.6 156.7,574.3 155.1,574.9 153.4,574.0 151.8,574.5 150.2,574.8 148.5,574.5 146.9,574.7 145.3,574.0 143.6,574.1 142.0,574.6 140.3,574.1 138.7,574.3 137.0,575.0 135.3,577.4 133.6,577.7 131.8,580.3 130.1,580.9 128.4,583.0 126.7,584.1 125.0,585.2 123.3,586.8 120.2,589.4 118.5,589.9 116.8,589.4 115.1,589.8 113.4,589.3 111.7,589.4 110.0,589.9 107.9,589.2 105.8,588.5 103.9,586.5 102.1,584.4 100.2,583.4" fill="#0000ff"/>
<polygon points="135.0,567.0 240.0,566.5 300.0,565.0 380.0,562.0 380.0,567.0 135.0,568.0" fill="#0000ff" fill-opacity="0.1"/>
<path d="M310.4 560.2l1.6 1.6l-1.6 1.6l-1.6 -1.6zM376.3 564.9l1.6 1.6l-1.6 1.6l-1.6 -1.6zM372.4 557.1l1.6 1.6l-1.6 1.6l-1.6 -1.6zM316.3 562.9l1.6 1.6l-1.6 1.6l-1.6 -1.6zM365.1 560.3l1.6 1.6l-1.6 1.6l-1.6 -1.6zM292.1 563.7l1.6 1.6l-1.6 1.6l-1.6 -1.6zM365.0 558.8l1.6 1.6l-1.6 1.6l-1.6 -1.6zM380.8 563.1l1.6 1.6l-1.6 1.6l-1.6 -1.6zM359.3 562.4l1.6 1.6l-1.6 1.6l-1.6 -1.6zM251.8 564.9l1.6 1.6l-1.6 1.6l-1.6 -1.6zM172.7 565.4l1.6 1.6l-1.6 1.6l-1.6 -1.6zM183.2 565.0l1.6 1.6l-1.6 1.6l-1.6 -1.6zM346.7 563.0l1.6 1.6l-1.6 1.6l-1.6 -1.6zM269.4 560.8l1.6 1.6l-1.6 1.6l-1.6 -1.6zM354.5 560.2l1.6 1.6l-1.6 1.6l-1.6 -1.6zM262.1 562.2l1.6 1.6l-1.6 1.6l-1.6 -1.6zM286.5 564.4l1.6 1.6l-1.6 1.6l-1.6 -1.6zM273.5 561.0l1.6 1.6l-1.6 1.6l-1.6 -1.6zM379.5 558.3l1.6 1.6l-1.6 1.6l-1.6 -1.6zM364.4 560.8l1.6 1.6l-1.6 1.6l-1.6 -1.6zM355.1 562.7l1.6 1.6l-1.6 1.6l-1.6 -1.6zM322.0 563.2l1.6 1.6l-1.6 1.6l-1.6 -1.6zM227.0 563.0l1.6 1.6l-1.6 1.6l-1.6 -1.6zM292.2 563.4l1.6 1.6l-1.6 1.6l-1.6 -1.6zM343.0 563.6l1.6 1.6l-1.6 1.6l-1.6 -1.6zM377.1 557.5l1.6 1.6l-1.6 1.6l-1.6 -1.6zM320.7 563.1l1.6 1.6l-1.6 1.6l-1.6 -1.6zM303.9 563.4l1.6 1.6l-1.6 1.6l-1.6 -1.6zM274.5 561.5l1.6 1.6l-1.6 1.6l-1.6 -1.6zM364.5 562.2l1.6 1.6l-1.6 1.6l-1.6 -1.6zM305.6 561.7l1.6 1.6l-1.6 1.6l-1.6 -1.6zM269.6 563.2l1.6 1.6l-1.6 1.6l-1.6 -1.6zM256.0 561.4l1.6 1.6l-1.6 1.6l-1.6 -1.6zM375.8 557.2l1.6 1.6l-1.6 1.6l-1.6 -1.6zM354.0 564.9l1.6 1.6l-1.6 1.6l-1.6 -1.6zM358.2 563.9l1.6 1.6l-1.6 1.6l-1.6 -1.6zM315.0 563.6l1.6 1.6l-1.6 1.6l-1.6 -1.6zM211.8 563.6l1.6 1.6l-1.6 1.6l-1.6 -1.6zM351.7 564.1l1.6 1.6l-1.6 1.6l-1.6 -1.6zM378.7 562.8l1.6 1.6l-1.6 1.6l-1.6 -1.6zM307.8 560.7l1.6 1.6l-1.6 1.6l-1.6 -1.6zM357.9 564.8l1.6 1.6l-1.6 1.6l-1.6 -1.6zM290.7 560.2l1.6 1.6l-1.6 1.6l-1.6 -1.6zM215.4 564.8l1.6 1.6l-1.6 1.6l-1.6 -1.6zM257.6 563.7l1.6 1.6l-1.6 1.6l-1.6 -1.6zM233.4 564.9l1.6 1.6l-1.6 1.6l-1.6 -1.6zM371.3 559.3l1.6 1.6l-1.6 1.6l-1.6 -1.6zM251.1 562.0l1.6 1.6l-1.6 1.6l-1.6 -1.6zM301.7 559.5l1.6 1.6l-1.6 1.6l-1.6 -1.6zM360.0 561.0l1.6 1.6l-1.6 1.6l-1.6 -1.6zM221.2 563.4l1.6 1.6l-1.6 1.6l-1.6 -1.6zM257.4 564.6l1.6 1.6l-1.6 1.6l-1.6 -1.6zM328.6 560.0l1.6 1.6l-1.6 1.6l-1.6 -1.6zM331.9 564.5l1.6 1.6l-1.6 1.6l-1.6 -1.6zM254.5 564.7l1.6 1.6l-1.6 1.6l-1.6 -1.6zM215.6 565.2l1.6 1.6l-1.6 1.6l-1.6 -1.6zM276.6 562.5l1.6 1.6l-1.6 1.6l-1.6 -1.6zM190.0 564.4l1.6 1.6l-1.6 1.6l-1.6 -1.6zM239.8 562.7l1.6 1.6l-1.6 1.6l-1.6 -1.6zM262.3 561.1l1.6 1.6l-1.6 1.6l-1.6 -1.6zM234.6 562.5l1.6 1.6l-1.6 1.6l-1.6 -1.6zM317.8 560.3l1.6 1.6l-1.6 1.6l-1.6 -1.6zM207.0 563.8l1.6 1.6l-1.6 1.6l-1.6 -1.6zM335.5 563.5l1.6 1.6l-1.6 1.6l-1.6 -1.6zM315.0 564.4l1.6 1.6l-1.6 1.6l-1.6 -1.6zM342.5 561.7l1.6 1.6l-1.6 1.6l-1.6 -1.6zM377.9 563.2l1.6 1.6l-1.6 1.6l-1.6 -1.6zM378.0 558.7l1.6 1.6l-1.6 1.6l-1.6 -1.6zM305.0 559.6l1.6 1.6l-1.6 1.6l-1.6 -1.6zM357.3 559.1l1.6 1.6l-1.6 1.6l-1.6 -1.6zM338.9 565.2l1.6 1.6l-1.6 1.6l-1.6 -1.6zM302.7 562.5l1.6 1.6l-1.6 1.6l-1.6 -1.6zM179.3 565.3l1.6 1.6l-1.6 1.6l-1.6 -1.6zM256.8 564.8l1.6 1.6l-1.6 1.6l-1.6 -1.6zM299.7 562.3l1.6 1.6l-1.6 1.6l-1.6 -1.6zM274.1 560.7l1.6 1.6l-1.6 1.6l-1.6 -1.6zM282.9 562.9l1.6 1.6l-1.6 1.6l-1.6 -1.6zM358.5 560.6l1.6 1.6l-1.6 1.6l-1.6 -1.6zM225.3 564.1l1.6 1.6l-1.6 1.6l-1.6 -1.6zM312.4 563.5l1.6 1.6l-1.6 1.6l-1.6 -1.6zM233.2 564.8l1.6 1.6l-1.6 1.6l-1.6 -1.6zM351.9 564.7l1.6 1.6l-1.6 1.6l-1.6 -1.6zM329.9 561.2l1.6 1.6l-1.6 1.6l-1.6 -1.6zM334.8 561.6l1.6 1.6l-1.6 1.6l-1.6 -1.6zM181.6 564.3l1.6 1.6l-1.6 1.6l-1.6 -1.6zM316.7 563.6l1.6 1.6l-1.6 1.6l-1.6 -1.6zM336.7 564.3l1.6 1.6l-1.6 1.6l-1.6 -1.6zM329.1 562.6l1.6 1.6l-1.6 1.6l-1.6 -1.6zM194.1 563.9l1.6 1.6l-1.6 1.6l-1.6 -1.6zM262.3 563.7l1.6 1.6l-1.6 1.6l-1.6 -1.6z" fill="#0000ff" fill-opacity="0.2"/>
<rect x="116.1" y="548.0" width="2.0" height="32.0" fill="#0000ff"/>
<path d="M117.1 543.4l1.6 1.6l-1.6 1.6l-1.6 -1.6zM117.1 539.4l1.6 1.6l-1.6 1.6l-1.6 -1.6zM117.6 534.4l1.6 1.6l-1.6 1.6l-1.6 -1.6z" fill="#0000ff" fill-opacity="0.25"/>
<rect x="129.7" y="554.5" width="1.6" height="21.5" fill="#0000ff"/>
<path d="M130.5 549.9l1.6 1.6l-1.6 1.6l-1.6 -1.6zM130.5 545.9l1.6 1.6l-1.6 1.6l-1.6 -1.6zM131.0 540.9l1.6 1.6l-1.6 1.6l-1.6 -1.6z" fill="#0000ff" fill-opacity="0.25"/>
<rect x="151.6" y="548.0" width="2.0" height="20.0" fill="#0000ff"/>
<path d="M152.6 543.4l1.6 1.6l-1.6 1.6l-1.6 -1.6zM152.6 539.4l1.6 1.6l-1.6 1.6l-1.6 -1.6zM153.1 534.4l1.6 1.6l-1.6 1.6l-1.6 -1.6z" fill="#0000ff" fill-opacity="0.25"/>
<rect x="164.8" y="559.0" width="3.0" height="13.0" fill="#0000ff"/>
<path d="M166.3 554.4l1.6 1.6l-1.6 1.6l-1.6 -1.6zM166.3 550.4l1.6 1.6l-1.6 1.6l-1.6 -1.6zM166.8 545.4l1.6 1.6l-1.6 1.6l-1.6 -1.6z" fill="#0000ff" fill-opacity="0.25"/>
<rect x="169.4" y="562.0" width="2.0" height="10.0" fill="#0000ff"/>
<path d="M170.4 557.4l1.6 1.6l-1.6 1.6l-1.6 -1.6zM170.4 553.4l1.6 1.6l-1.6 1.6l-1.6 -1.6zM170.9 548.4l1.6 1.6l-1.6 1.6l-1.6 -1.6z" fill="#0000ff" fill-opacity="0.25"/>
<rect x="174.0" y="564.4" width="2.0" height="5.6" fill="#0000ff"/>
<path d="M175.0 559.8l1.6 1.6l-1.6 1.6l-1.6 -1.6zM175.0 555.8l1.6 1.6l-1.6 1.6l-1.6 -1.6zM175.5 550.8l1.6 1.6l-1.6 1.6l-1.6 -1.6z" fill="#0000ff" fill-opacity="0.25"/>
<rect x="231.7" y="557.0" width="1.8" height="13.0" fill="#0000ff"/>
<path d="M232.6 552.4l1.6 1.6l-1.6 1.6l-1.6 -1.6zM232.6 548.4l1.6 1.6l-1.6 1.6l-1.6 -1.6zM233.1 543.4l1.6 1.6l-1.6 1.6l-1.6 -1.6z" fill="#0000ff" fill-opacity="0.25"/>
<polygon points="380.5,567.5 381.8,552.0 382.8,545.0 384.3,543.6 385.8,545.0 386.6,552.0 387.5,567.5" fill="#0000ff"/>
<rect x="384.2" y="566.0" width="3.6" height="15.6" fill="#0000ff"/>
<path d="M386.5 582.4l1.6 1.6l-1.6 1.6l-1.6 -1.6zM388.5 585.4l1.6 1.6l-1.6 1.6l-1.6 -1.6zM386.0 586.4l1.6 1.6l-1.6 1.6l-1.6 -1.6z" fill="#0000ff" fill-opacity="0.3"/>
<polygon points="479.4,578.0 500.0,578.0 501.4,612.0 479.4,612.0" fill="#ffa500" fill-opacity="0.06"/>
<path d="M486.9 587.1l1.6 1.6l-1.6 1.6l-1.6 -1.6zM490.7 606.5l1.6 1.6l-1.6 1.6l-1.6 -1.6zM498.8 588.5l1.6 1.6l-1.6 1.6l-1.6 -1.6zM494.7 590.8l1.6 1.6l-1.6 1.6l-1.6 -1.6zM498.4 607.1l1.6 1.6l-1.6 1.6l-1.6 -1.6zM491.6 589.0l1.6 1.6l-1.6 1.6l-1.6 -1.6zM485.4 612.8l1.6 1.6l-1.6 1.6l-1.6 -1.6zM497.0 586.3l1.6 1.6l-1.6 1.6l-1.6 -1.6zM481.3 581.3l1.6 1.6l-1.6 1.6l-1.6 -1.6zM500.6 574.2l1.6 1.6l-1.6 1.6l-1.6 -1.6zM497.2 596.6l1.6 1.6l-1.6 1.6l-1.6 -1.6zM491.6 597.1l1.6 1.6l-1.6 1.6l-1.6 -1.6zM488.4 597.9l1.6 1.6l-1.6 1.6l-1.6 -1.6zM481.4 614.4l1.6 1.6l-1.6 1.6l-1.6 -1.6zM481.7 578.7l1.6 1.6l-1.6 1.6l-1.6 -1.6zM494.2 601.7l1.6 1.6l-1.6 1.6l-1.6 -1.6zM497.1 604.1l1.6 1.6l-1.6 1.6l-1.6 -1.6zM499.9 574.8l1.6 1.6l-1.6 1.6l-1.6 -1.6zM479.6 583.2l1.6 1.6l-1.6 1.6l-1.6 -1.6zM496.5 579.4l1.6 1.6l-1.6 1.6l-1.6 -1.6zM491.1 607.6l1.6 1.6l-1.6 1.6l-1.6 -1.6zM482.8 596.5l1.6 1.6l-1.6 1.6l-1.6 -1.6zM499.2 606.6l1.6 1.6l-1.6 1.6l-1.6 -1.6zM488.2 594.3l1.6 1.6l-1.6 1.6l-1.6 -1.6zM485.5 616.3l1.6 1.6l-1.6 1.6l-1.6 -1.6zM496.6 603.5l1.6 1.6l-1.6 1.6l-1.6 -1.6zM486.1 605.8l1.6 1.6l-1.6 1.6l-1.6 -1.6zM490.1 608.9l1.6 1.6l-1.6 1.6l-1.6 -1.6zM487.4 612.7l1.6 1.6l-1.6 1.6l-1.6 -1.6zM494.5 593.0l1.6 1.6l-1.6 1.6l-1.6 -1.6zM491.8 609.2l1.6 1.6l-1.6 1.6l-1.6 -1.6zM491.0 616.3l1.6 1.6l-1.6 1.6l-1.6 -1.6zM479.6 613.4l1.6 1.6l-1.6 1.6l-1.6 -1.6zM495.1 594.8l1.6 1.6l-1.6 1.6l-1.6 -1.6zM498.1 579.2l1.6 1.6l-1.6 1.6l-1.6 -1.6zM486.8 605.0l1.6 1.6l-1.6 1.6l-1.6 -1.6zM497.5 589.4l1.6 1.6l-1.6 1.6l-1.6 -1.6zM501.3 602.0l1.6 1.6l-1.6 1.6l-1.6 -1.6zM480.4 578.0l1.6 1.6l-1.6 1.6l-1.6 -1.6zM481.1 598.4l1.6 1.6l-1.6 1.6l-1.6 -1.6zM486.5 584.3l1.6 1.6l-1.6 1.6l-1.6 -1.6zM489.2 576.0l1.6 1.6l-1.6 1.6l-1.6 -1.6zM499.4 610.7l1.6 1.6l-1.6 1.6l-1.6 -1.6zM491.7 592.7l1.6 1.6l-1.6 1.6l-1.6 -1.6zM486.2 599.9l1.6 1.6l-1.6 1.6l-1.6 -1.6zM487.0 617.0l1.6 1.6l-1.6 1.6l-1.6 -1.6zM500.4 605.6l1.6 1.6l-1.6 1.6l-1.6 -1.6zM497.6 575.8l1.6 1.6l-1.6 1.6l-1.6 -1.6zM482.1 588.2l1.6 1.6l-1.6 1.6l-1.6 -1.6zM482.2 591.7l1.6 1.6l-1.6 1.6l-1.6 -1.6zM501.1 610.5l1.6 1.6l-1.6 1.6l-1.6 -1.6zM500.5 582.5l1.6 1.6l-1.6 1.6l-1.6 -1.6zM484.3 573.5l1.6 1.6l-1.6 1.6l-1.6 -1.6zM485.4 575.0l1.6 1.6l-1.6 1.6l-1.6 -1.6zM491.0 586.1l1.6 1.6l-1.6 1.6l-1.6 -1.6zM494.2 598.0l1.6 1.6l-1.6 1.6l-1.6 -1.6zM492.5 586.1l1.6 1.6l-1.6 1.6l-1.6 -1.6zM495.6 603.9l1.6 1.6l-1.6 1.6l-1.6 -1.6zM495.1 593.9l1.6 1.6l-1.6 1.6l-1.6 -1.6zM489.6 585.5l1.6 1.6l-1.6 1.6l-1.6 -1.6zM480.3 593.7l1.6 1.6l-1.6 1.6l-1.6 -1.6zM493.0 580.9l1.6 1.6l-1.6 1.6l-1.6 -1.6zM498.3 612.6l1.6 1.6l-1.6 1.6l-1.6 -1.6zM498.2 609.7l1.6 1.6l-1.6 1.6l-1.6 -1.6zM490.1 580.4l1.6 1.6l-1.6 1.6l-1.6 -1.6zM485.4 606.1l1.6 1.6l-1.6 1.6l-1.6 -1.6zM501.1 577.5l1.6 1.6l-1.6 1.6l-1.6 -1.6zM479.5 588.5l1.6 1.6l-1.6 1.6l-1.6 -1.6zM487.1 599.7l1.6 1.6l-1.6 1.6l-1.6 -1.6zM481.9 611.0l1.6 1.6l-1.6 1.6l-1.6 -1.6z" fill="#ffa500" fill-opacity="0.25"/>
<rect x="479.1" y="592.2" width="280.9" height="4.8" fill="#ffa500"/>
<rect x="760.0" y="593.0" width="27.6" height="3.6" fill="#ffa500"/>
<polygon points="511.2,567.9 513.7,587.9 513.7,600.1 511.2,616.6 508.7,600.1 508.7,587.9" fill="#ffa500" fill-opacity="0.3"/>
<polygon points="511.2,582.0 512.3,591.5 512.3,597.5 511.2,606.0 510.1,597.5 510.1,591.5" fill="#ffa500" fill-opacity="0.9"/>
<path d="M509.9 613.8l1.6 1.6l-1.6 1.6l-1.6 -1.6zM509.8 579.6l1.6 1.6l-1.6 1.6l-1.6 -1.6zM508.6 617.1l1.6 1.6l-1.6 1.6l-1.6 -1.6zM511.9 609.1l1.6 1.6l-1.6 1.6l-1.6 -1.6zM513.1 618.1l1.6 1.6l-1.6 1.6l-1.6 -1.6zM514.7 568.2l1.6 1.6l-1.6 1.6l-1.6 -1.6zM510.2 618.9l1.6 1.6l-1.6 1.6l-1.6 -1.6zM511.5 616.6l1.6 1.6l-1.6 1.6l-1.6 -1.6z" fill="#ffa500" fill-opacity="0.25"/>
<polygon points="524.2,575.7 526.2,589.9 526.2,599.3 524.2,613.5 522.2,599.3 522.2,589.9" fill="#ffa500" fill-opacity="0.3"/>
<polygon points="524.2,588.0 525.0,593.0 525.0,596.5 524.2,602.0 523.4,596.5 523.4,593.0" fill="#ffa500" fill-opacity="0.9"/>
<path d="M522.2 571.3l1.6 1.6l-1.6 1.6l-1.6 -1.6zM527.8 582.2l1.6 1.6l-1.6 1.6l-1.6 -1.6zM524.7 586.6l1.6 1.6l-1.6 1.6l-1.6 -1.6zM524.8 612.9l1.6 1.6l-1.6 1.6l-1.6 -1.6zM527.8 610.3l1.6 1.6l-1.6 1.6l-1.6 -1.6zM522.3 607.7l1.6 1.6l-1.6 1.6l-1.6 -1.6zM527.8 581.8l1.6 1.6l-1.6 1.6l-1.6 -1.6zM522.1 602.5l1.6 1.6l-1.6 1.6l-1.6 -1.6z" fill="#ffa500" fill-opacity="0.25"/>
<polygon points="546.3,574.2 548.3,589.5 548.3,599.7 546.3,615.0 544.3,599.7 544.3,589.5" fill="#ffa500" fill-opacity="0.3"/>
<polygon points="546.3,586.0 547.1,592.5 547.1,597.0 546.3,604.0 545.5,597.0 545.5,592.5" fill="#ffa500" fill-opacity="0.9"/>
<path d="M547.5 573.2l1.6 1.6l-1.6 1.6l-1.6 -1.6zM549.7 572.1l1.6 1.6l-1.6 1.6l-1.6 -1.6zM547.9 585.6l1.6 1.6l-1.6 1.6l-1.6 -1.6zM543.4 572.4l1.6 1.6l-1.6 1.6l-1.6 -1.6zM550.3 607.6l1.6 1.6l-1.6 1.6l-1.6 -1.6zM546.0 607.4l1.6 1.6l-1.6 1.6l-1.6 -1.6zM550.1 613.8l1.6 1.6l-1.6 1.6l-1.6 -1.6zM546.6 582.0l1.6 1.6l-1.6 1.6l-1.6 -1.6z" fill="#ffa500" fill-opacity="0.25"/>
<polygon points="560.4,575.7 563.4,589.9 563.4,600.2 560.4,617.0 557.4,600.2 557.4,589.9" fill="#ffa500" fill-opacity="0.3"/>
<polygon points="560.4,580.0 562.0,591.0 562.0,599.0 560.4,612.0 558.8,599.0 558.8,591.0" fill="#ffa500" fill-opacity="0.9"/>
<path d="M560.5 618.5l1.6 1.6l-1.6 1.6l-1.6 -1.6zM562.2 603.1l1.6 1.6l-1.6 1.6l-1.6 -1.6zM560.9 611.9l1.6 1.6l-1.6 1.6l-1.6 -1.6zM558.0 612.4l1.6 1.6l-1.6 1.6l-1.6 -1.6zM561.0 577.3l1.6 1.6l-1.6 1.6l-1.6 -1.6zM556.4 574.7l1.6 1.6l-1.6 1.6l-1.6 -1.6zM562.1 576.6l1.6 1.6l-1.6 1.6l-1.6 -1.6zM558.4 609.9l1.6 1.6l-1.6 1.6l-1.6 -1.6z" fill="#ffa500" fill-opacity="0.25"/>
<polygon points="576.9,580.4 578.9,591.0 578.9,597.8 576.9,607.2 574.9,597.8 574.9,591.0" fill="#ffa500" fill-opacity="0.3"/>
<polygon points="576.9,588.0 577.6,593.0 577.6,596.2 576.9,601.0 576.1,596.2 576.1,593.0" fill="#ffa500" fill-opacity="0.9"/>
<path d="M579.8 605.5l1.6 1.6l-1.6 1.6l-1.6 -1.6zM574.3 575.0l1.6 1.6l-1.6 1.6l-1.6 -1.6zM575.8 575.4l1.6 1.6l-1.6 1.6l-1.6 -1.6zM576.4 583.1l1.6 1.6l-1.6 1.6l-1.6 -1.6zM577.6 608.9l1.6 1.6l-1.6 1.6l-1.6 -1.6zM574.6 577.4l1.6 1.6l-1.6 1.6l-1.6 -1.6zM578.5 578.5l1.6 1.6l-1.6 1.6l-1.6 -1.6zM580.8 586.1l1.6 1.6l-1.6 1.6l-1.6 -1.6z" fill="#ffa500" fill-opacity="0.25"/>
<polygon points="584.8,574.2 587.0,589.5 587.0,599.3 584.8,613.5 582.5,599.3 582.5,589.5" fill="#ffa500" fill-opacity="0.3"/>
<polygon points="584.8,586.0 585.8,592.5 585.8,597.0 584.8,604.0 583.8,597.0 583.8,592.5" fill="#ffa500" fill-opacity="0.9"/>
<path d="M582.1 587.6l1.6 1.6l-1.6 1.6l-1.6 -1.6zM586.4 583.9l1.6 1.6l-1.6 1.6l-1.6 -1.6zM587.2 577.3l1.6 1.6l-1.6 1.6l-1.6 -1.6zM581.6 598.3l1.6 1.6l-1.6 1.6l-1.6 -1.6zM584.4 612.0l1.6 1.6l-1.6 1.6l-1.6 -1.6zM581.6 603.9l1.6 1.6l-1.6 1.6l-1.6 -1.6zM586.2 586.1l1.6 1.6l-1.6 1.6l-1.6 -1.6zM581.8 597.5l1.6 1.6l-1.6 1.6l-1.6 -1.6z" fill="#ffa500" fill-opacity="0.25"/>
<polygon points="626.0,582.6 627.5,591.6 627.5,596.0 626.0,600.0 624.5,596.0 624.5,591.6" fill="#ffa500" fill-opacity="0.3"/>
<polygon points="626.0,590.0 626.6,593.5 626.6,595.7 626.0,599.0 625.4,595.7 625.4,593.5" fill="#ffa500" fill-opacity="0.9"/>
<path d="M626.9 587.8l1.6 1.6l-1.6 1.6l-1.6 -1.6zM623.5 588.8l1.6 1.6l-1.6 1.6l-1.6 -1.6zM626.4 599.8l1.6 1.6l-1.6 1.6l-1.6 -1.6zM624.6 582.7l1.6 1.6l-1.6 1.6l-1.6 -1.6zM630.0 586.9l1.6 1.6l-1.6 1.6l-1.6 -1.6zM629.5 588.1l1.6 1.6l-1.6 1.6l-1.6 -1.6zM627.2 599.0l1.6 1.6l-1.6 1.6l-1.6 -1.6zM623.6 585.8l1.6 1.6l-1.6 1.6l-1.6 -1.6z" fill="#ffa500" fill-opacity="0.25"/>
<polygon points="757.4,581.6 759.9,591.4 759.9,598.0 757.4,608.3 754.9,598.0 754.9,591.4" fill="#ffa500" fill-opacity="0.3"/>
<polygon points="757.4,584.0 758.7,592.0 758.7,597.5 757.4,606.0 756.1,597.5 756.1,592.0" fill="#ffa500" fill-opacity="0.9"/>
<path d="M761.3 578.3l1.6 1.6l-1.6 1.6l-1.6 -1.6zM759.4 597.9l1.6 1.6l-1.6 1.6l-1.6 -1.6zM760.8 599.2l1.6 1.6l-1.6 1.6l-1.6 -1.6zM753.4 578.5l1.6 1.6l-1.6 1.6l-1.6 -1.6zM758.5 583.0l1.6 1.6l-1.6 1.6l-1.6 -1.6zM761.1 588.4l1.6 1.6l-1.6 1.6l-1.6 -1.6zM755.5 603.1l1.6 1.6l-1.6 1.6l-1.6 -1.6zM753.4 584.7l1.6 1.6l-1.6 1.6l-1.6 -1.6z" fill="#ffa500" fill-opacity="0.25"/>
<polygon points="726.6,585.0 728.1,592.2 728.1,597.2 726.6,605.0 725.1,597.2 725.1,592.2" fill="#ffa500" fill-opacity="0.3"/>
<polygon points="726.6,590.0 727.2,593.5 727.2,595.7 726.6,599.0 726.0,595.7 726.0,593.5" fill="#ffa500" fill-opacity="0.9"/>
<path d="M725.2 604.1l1.6 1.6l-1.6 1.6l-1.6 -1.6zM726.6 580.4l1.6 1.6l-1.6 1.6l-1.6 -1.6zM729.1 582.5l1.6 1.6l-1.6 1.6l-1.6 -1.6zM726.1 607.1l1.6 1.6l-1.6 1.6l-1.6 -1.6zM730.0 605.1l1.6 1.6l-1.6 1.6l-1.6 -1.6zM728.5 599.0l1.6 1.6l-1.6 1.6l-1.6 -1.6zM723.7 580.4l1.6 1.6l-1.6 1.6l-1.6 -1.6zM729.2 598.2l1.6 1.6l-1.6 1.6l-1.6 -1.6z" fill="#ffa500" fill-opacity="0.25"/>
<path d="M588.3 583.3l1.6 1.6l-1.6 1.6l-1.6 -1.6zM537.4 616.1l1.6 1.6l-1.6 1.6l-1.6 -1.6zM574.5 567.5l1.6 1.6l-1.6 1.6l-1.6 -1.6zM547.7 585.2l1.6 1.6l-1.6 1.6l-1.6 -1.6zM509.5 619.2l1.6 1.6l-1.6 1.6l-1.6 -1.6zM626.4 610.4l1.6 1.6l-1.6 1.6l-1.6 -1.6zM515.6 605.6l1.6 1.6l-1.6 1.6l-1.6 -1.6zM613.3 609.0l1.6 1.6l-1.6 1.6l-1.6 -1.6zM610.8 572.9l1.6 1.6l-1.6 1.6l-1.6 -1.6zM501.9 571.4l1.6 1.6l-1.6 1.6l-1.6 -1.6zM617.9 611.2l1.6 1.6l-1.6 1.6l-1.6 -1.6zM572.3 579.1l1.6 1.6l-1.6 1.6l-1.6 -1.6z" fill="#ffa500" fill-opacity="0.25"/>
<path d="M766.0 582.3l1.6 1.6l-1.6 1.6l-1.6 -1.6zM687.8 578.5l1.6 1.6l-1.6 1.6l-1.6 -1.6zM753.4 604.0l1.6 1.6l-1.6 1.6l-1.6 -1.6zM725.4 610.0l1.6 1.6l-1.6 1.6l-1.6 -1.6zM753.9 608.1l1.6 1.6l-1.6 1.6l-1.6 -1.6zM781.6 581.0l1.6 1.6l-1.6 1.6l-1.6 -1.6z" fill="#ffa500" fill-opacity="0.25"/>
<polygon points="119.8,739.5 122.4,732.7 124.5,727.8 126.5,723.8 128.6,720.4 130.6,718.0 132.7,713.1 134.7,711.3 136.8,708.4 138.8,707.4 140.6,706.6 142.4,706.9 144.2,706.6 146.0,707.0 147.8,706.3 149.6,706.5 151.4,707.0 153.2,706.9 154.8,707.2 156.5,706.2 158.1,707.0 159.8,706.8 161.4,706.4 163.1,706.1 164.7,706.3 166.4,705.5 168.0,705.5 169.6,705.7 171.3,705.4 172.9,705.2 174.6,706.2 176.2,706.2 177.9,705.9 179.5,705.2 181.1,706.0 182.8,706.1 184.4,705.7 186.1,705.0 187.7,705.5 189.4,705.2 191.0,704.9 192.7,704.7 194.3,705.8 195.9,705.4 197.5,705.9 199.1,704.6 200.7,704.7 202.4,705.1 204.0,704.4 205.6,704.7 207.2,705.1 208.8,705.0 210.4,705.6 212.0,705.1 213.6,705.2 215.2,705.1 216.8,705.4 218.5,704.7 220.1,704.1 221.7,705.6 223.3,705.3 224.9,704.2 226.5,704.2 228.1,704.3 229.7,705.0 231.3,704.1 232.9,703.9 234.6,704.7 236.2,703.9 237.8,704.3 239.4,704.4 241.0,704.1 242.6,703.8 244.2,704.2 245.8,704.1 247.4,704.2 249.0,704.3 250.6,704.2 252.2,704.1 253.8,703.6 255.4,704.9 257.0,704.7 258.6,704.3 260.2,703.5 261.8,703.8 263.4,704.9 265.0,704.1 266.6,703.7 268.2,704.6 269.9,704.7 271.5,703.5 273.1,704.0 274.7,704.1 276.3,703.4 277.9,703.7 279.5,704.1 281.1,704.2 282.7,704.1 284.3,704.0 285.9,703.6 287.5,703.1 289.1,703.0 290.7,704.3 292.3,704.3 293.9,704.3 295.5,703.0 297.1,704.1 298.7,703.1 300.3,703.4 301.9,703.2 303.5,704.3 305.1,704.3 306.7,704.3 308.3,703.7 309.9,704.6 311.5,703.5 313.1,704.1 314.7,704.3 316.3,703.6 317.9,703.9 319.5,703.5 321.1,704.6 322.7,703.7 324.3,703.7 325.9,703.9 327.5,704.5 329.1,704.6 330.7,704.4 332.3,705.0 333.9,704.9 335.5,704.1 337.1,704.6 338.8,704.1 340.4,704.2 342.0,704.1 343.6,704.0 345.2,704.5 346.8,705.4 348.4,705.1 350.0,704.2 351.6,704.5 353.2,705.1 354.8,705.0 356.4,704.3 358.0,704.4 359.6,705.2 361.2,705.3 362.8,704.5 364.4,705.7 366.0,704.9 367.6,705.5 369.2,705.4 370.8,705.1 372.4,706.2 374.0,705.3 375.6,705.4 377.2,705.6 378.8,706.1 380.0,705.6 380.0,716.9 378.8,716.8 377.2,717.3 375.6,716.2 374.0,717.0 372.4,716.0 370.8,717.6 369.2,716.4 367.6,716.2 366.0,717.2 364.4,716.7 362.8,716.6 361.2,716.0 359.6,716.6 358.0,717.2 356.4,717.3 354.8,716.6 353.2,716.0 351.6,717.2 350.0,716.9 348.4,716.1 346.8,716.4 345.2,716.3 343.6,715.7 342.0,717.2 340.4,717.0 338.8,717.1 337.1,716.9 335.5,716.0 333.9,716.3 332.3,716.6 330.7,715.7 329.1,716.2 327.5,716.1 325.9,716.3 324.3,716.2 322.7,715.5 321.1,715.7 319.5,715.5 317.9,716.7 316.3,715.3 314.7,716.2 313.1,716.7 311.5,716.6 309.9,716.1 308.3,715.9 306.7,716.3 305.1,716.6 303.5,715.5 301.9,715.2 300.3,715.8 298.7,715.8 297.1,715.2 295.5,716.4 293.9,715.9 292.3,716.4 290.7,715.3 289.1,715.1 287.5,715.8 285.9,715.2 284.3,715.4 282.7,715.8 281.1,716.4 279.5,715.8 277.9,716.3 276.3,715.6 274.7,716.4 273.1,715.2 271.5,716.3 269.9,716.1 268.2,716.3 266.6,715.7 265.0,715.1 263.4,716.3 261.8,715.3 260.2,715.2 258.6,716.6 257.0,715.8 255.4,715.4 253.8,715.4 252.2,716.4 250.6,715.4 249.0,715.6 247.4,716.5 245.8,715.5 244.2,716.0 242.6,715.6 241.0,716.2 239.4,715.1 237.8,715.9 236.2,715.9 234.6,716.5 232.9,715.1 231.3,715.5 229.7,716.3 228.1,716.0 226.5,716.0 224.9,716.5 223.3,715.9 221.7,715.7 220.1,716.5 218.5,715.6 216.8,715.6 215.2,715.6 213.6,715.3 212.0,715.2 210.4,715.0 208.8,716.3 207.2,715.8 205.6,716.2 204.0,715.5 202.4,715.6 200.7,715.5 199.1,716.6 197.5,715.9 195.9,715.0 194.3,715.2 192.7,715.7 191.0,715.9 189.4,715.9 187.7,715.7 186.1,715.9 184.4,715.5 182.8,715.4 181.1,716.1 179.5,715.6 177.9,715.9 176.2,716.3 174.6,716.3 172.9,715.6 171.3,716.2 169.6,716.4 168.0,717.2 166.4,716.5 164.7,716.9 163.1,716.3 161.4,717.2 159.8,717.5 158.1,717.6 156.5,717.2 154.8,717.2 153.2,716.8 151.4,716.9 149.6,717.2 147.8,716.5 146.0,717.4 144.2,716.5 142.4,716.8 140.6,717.0 138.8,716.4 136.8,719.7 134.7,722.5 132.7,724.8 130.6,727.7 128.6,731.2 126.5,734.4 124.5,738.9 122.4,743.4 119.8,742.6" fill="#0000ff" fill-opacity="0.3"/>
<polygon points="119.8,740.5 122.4,733.8 124.5,728.9 126.5,725.6 128.6,721.3 130.6,717.7 132.7,714.3 134.7,711.9 136.8,709.9 138.8,708.2 140.6,707.4 142.4,707.9 144.2,707.0 146.0,707.6 147.8,707.6 149.6,707.1 151.4,707.7 153.2,707.5 154.8,707.3 156.5,707.9 158.1,707.7 159.8,706.9 161.4,706.8 163.1,706.7 164.7,706.9 166.4,707.3 168.0,707.7 169.6,707.6 171.3,707.4 172.9,706.5 174.6,707.2 176.2,707.1 177.9,706.7 179.5,707.3 181.1,706.8 182.8,706.1 184.4,706.2 186.1,706.0 187.7,706.6 189.4,706.5 191.0,706.7 192.7,705.7 194.3,705.6 195.9,706.7 197.5,705.9 199.1,705.9 200.7,706.6 202.4,705.6 204.0,706.4 205.6,706.5 207.2,706.1 208.8,706.1 210.4,705.4 212.0,706.1 213.6,706.1 215.2,706.3 216.8,705.9 218.5,705.4 220.1,705.5 221.7,706.0 223.3,705.3 224.9,705.3 226.5,705.5 228.1,706.1 229.7,705.8 231.3,705.6 232.9,706.3 234.6,705.8 236.2,705.3 237.8,705.7 239.4,706.0 241.0,705.4 242.6,705.5 244.2,705.6 245.8,706.1 247.4,705.7 249.0,705.1 250.6,705.5 252.2,705.2 253.8,705.3 255.4,705.6 257.0,704.7 258.6,705.3 260.2,705.0 261.8,705.4 263.4,705.6 265.0,705.1 266.6,705.3 268.2,704.9 269.9,704.8 271.5,705.1 273.1,705.1 274.7,704.7 276.3,705.3 277.9,705.0 279.5,704.8 281.1,704.6 282.7,705.3 284.3,705.3 285.9,705.3 287.5,704.5 289.1,704.3 290.7,704.9 292.3,704.1 293.9,705.1 295.5,704.9 297.1,704.4 298.7,704.5 300.3,704.9 301.9,704.3 303.5,704.6 305.1,705.1 306.7,705.0 308.3,704.9 309.9,704.4 311.5,704.6 313.1,704.7 314.7,704.4 316.3,705.2 317.9,705.2 319.5,705.6 321.1,705.2 322.7,705.7 324.3,705.2 325.9,705.3 327.5,705.1 329.1,705.3 330.7,705.9 332.3,705.4 333.9,704.9 335.5,705.3 337.1,705.2 338.8,705.7 340.4,705.7 342.0,705.7 343.6,706.2 345.2,706.1 346.8,705.3 348.4,705.3 350.0,706.1 351.6,706.0 353.2,706.1 354.8,706.0 356.4,705.5 358.0,706.0 359.6,706.5 361.2,706.3 362.8,705.7 364.4,705.8 366.0,706.8 367.6,706.4 369.2,706.0 370.8,706.6 372.4,706.9 374.0,706.9 375.6,706.7 377.2,706.9 378.8,706.1 380.0,706.6 380.0,715.9 378.8,716.4 377.2,716.2 375.6,716.2 374.0,716.4 372.4,716.1 370.8,715.4 369.2,716.1 367.6,715.8 366.0,715.2 364.4,715.9 362.8,715.3 361.2,716.2 359.6,715.6 358.0,715.5 356.4,716.1 354.8,715.1 353.2,715.0 351.6,715.7 350.0,715.7 348.4,715.8 346.8,714.9 345.2,715.2 343.6,715.9 342.0,715.8 340.4,715.4 338.8,715.5 337.1,715.2 335.5,715.2 333.9,715.5 332.3,715.8 330.7,714.7 329.1,715.6 327.5,715.6 325.9,714.6 324.3,715.7 322.7,714.9 321.1,714.9 319.5,715.4 317.9,715.6 316.3,715.0 314.7,714.5 313.1,714.8 311.5,714.5 309.9,715.0 308.3,714.7 306.7,715.5 305.1,715.4 303.5,715.4 301.9,714.7 300.3,715.0 298.7,714.5 297.1,714.5 295.5,714.8 293.9,714.8 292.3,715.0 290.7,714.6 289.1,714.3 287.5,715.3 285.9,714.9 284.3,714.8 282.7,715.0 281.1,715.3 279.5,714.3 277.9,714.6 276.3,714.7 274.7,714.5 273.1,715.2 271.5,715.1 269.9,714.9 268.2,715.2 266.6,714.5 265.0,715.1 263.4,714.9 261.8,715.0 260.2,715.2 258.6,714.5 257.0,715.2 255.4,714.4 253.8,715.0 252.2,715.3 250.6,715.4 249.0,714.2 247.4,714.6 245.8,714.2 244.2,714.9 242.6,714.7 241.0,714.8 239.4,715.1 237.8,714.8 236.2,714.9 234.6,715.2 232.9,714.6 231.3,714.4 229.7,715.0 228.1,714.4 226.5,714.8 224.9,715.0 223.3,714.8 221.7,714.9 220.1,715.0 218.5,714.3 216.8,715.1 215.2,715.2 213.6,714.8 212.0,714.3 210.4,714.6 208.8,715.1 207.2,714.5 205.6,715.4 204.0,714.5 202.4,714.3 200.7,715.0 199.1,714.8 197.5,714.4 195.9,714.5 194.3,715.1 192.7,714.7 191.0,714.6 189.4,714.9 187.7,715.2 186.1,715.2 184.4,714.9 182.8,715.1 181.1,715.6 179.5,715.2 177.9,715.8 176.2,714.9 174.6,715.6 172.9,714.9 171.3,715.4 169.6,716.0 168.0,715.6 166.4,716.0 164.7,715.1 163.1,716.0 161.4,716.2 159.8,715.9 158.1,716.0 156.5,715.3 154.8,715.8 153.2,715.5 151.4,715.7 149.6,715.5 147.8,716.0 146.0,715.4 144.2,716.4 142.4,716.0 140.6,716.4 138.8,716.0 136.8,717.8 134.7,720.1 132.7,723.3 130.6,726.9 128.6,729.5 126.5,733.1 124.5,737.8 122.4,741.6 119.8,741.6" fill="#0000ff"/>
<rect x="380.0" y="693.7" width="3.9" height="22.8" fill="#0000ff"/>
<rect x="382.1" y="715.0" width="2.8" height="26.5" fill="#0000ff"/>
<rect x="85.0" y="785.2" width="37.0" height="1.8" fill="#0000ff"/>
<rect x="181.0" y="785.2" width="4.0" height="1.8" fill="#0000ff"/>
<rect x="249.0" y="785.2" width="3.0" height="1.8" fill="#0000ff"/>
<rect x="317.0" y="785.2" width="3.0" height="1.8" fill="#0000ff"/>
<rect x="377.0" y="785.2" width="16.0" height="1.8" fill="#0000ff"/>
<rect x="479.0" y="760.8" width="35.3" height="3.0" fill="#ffa500"/>
<rect x="778.6" y="760.8" width="9.1" height="3.0" fill="#ffa500"/>
<polygon points="514.3,692.0 515.9,692.9 517.5,692.2 519.1,693.3 520.7,693.2 522.3,692.5 523.9,692.6 525.5,690.7 527.1,691.3 528.7,691.2 530.3,693.4 531.9,693.1 533.6,691.1 535.2,693.9 536.8,690.1 538.4,690.2 540.0,691.2 541.6,690.2 543.2,693.7 544.8,691.3 546.4,691.4 548.0,693.3 549.6,692.0 551.2,692.4 552.8,691.6 554.4,691.7 556.0,693.7 557.6,690.9 559.2,691.9 560.8,691.7 562.4,690.4 564.0,690.4 565.6,691.8 567.2,693.0 568.8,691.5 570.5,690.0 572.1,693.5 573.7,690.3 575.3,693.3 576.9,689.9 578.5,692.4 580.1,690.3 581.7,690.8 583.3,691.4 584.9,692.7 586.5,691.5 588.1,691.4 589.7,691.3 591.3,691.8 592.9,690.8 594.5,693.5 596.1,690.4 597.7,690.2 599.3,691.9 600.9,691.1 602.5,692.5 604.1,689.8 605.7,692.4 607.4,691.1 609.0,693.3 610.6,690.8 612.2,691.4 613.8,690.9 615.4,691.7 617.0,690.7 618.6,692.3 620.2,691.2 621.8,692.4 623.4,690.7 625.0,691.4 626.6,691.8 628.2,692.4 629.8,692.2 631.4,691.3 633.0,689.9 634.6,690.0 636.2,690.1 637.8,690.3 639.4,690.2 641.0,692.2 642.6,690.9 644.3,693.1 645.9,690.4 647.5,690.5 649.1,690.2 650.7,690.0 652.3,692.2 653.9,691.8 655.5,690.5 657.1,692.7 658.7,692.1 660.3,691.1 661.9,691.9 663.5,692.0 665.1,691.2 666.7,689.8 668.3,690.9 669.9,693.2 671.5,690.9 673.1,691.9 674.7,689.7 676.3,692.5 677.9,692.8 679.5,690.9 681.2,690.8 682.8,691.4 684.4,690.4 686.0,690.2 687.6,689.8 689.2,692.1 690.8,691.4 692.4,693.1 694.0,693.2 695.6,692.8 697.2,693.1 698.8,692.6 700.4,689.4 702.0,689.8 703.6,693.2 705.2,692.8 706.8,691.7 708.4,691.7 710.0,691.0 711.6,690.9 713.2,689.8 714.8,691.4 716.4,690.3 718.1,689.7 719.7,692.7 721.3,691.5 722.9,692.7 724.5,690.4 726.1,691.5 727.7,690.3 729.3,692.5 730.9,690.0 732.5,691.7 734.1,691.4 735.7,690.4 737.3,689.5 738.9,691.1 740.5,691.2 742.1,692.4 743.7,689.9 745.3,689.8 746.9,690.3 748.5,692.3 750.1,690.0 751.7,691.6 753.3,689.2 755.0,689.4 756.6,691.9 758.2,691.0 759.8,689.5 761.4,690.9 763.0,692.8 764.6,690.6 766.2,691.3 767.8,690.7 769.4,691.0 771.0,689.2 772.6,691.0 772.6,777.0 771.0,776.9 769.4,776.5 767.8,777.5 766.2,776.1 764.6,778.1 763.0,778.0 761.4,777.3 759.8,778.5 758.2,776.9 756.6,776.2 755.0,776.7 753.3,775.3 751.7,778.3 750.1,777.9 748.5,775.8 746.9,775.8 745.3,777.5 743.7,778.7 742.1,777.6 740.5,778.1 738.9,776.3 737.3,777.3 735.7,775.5 734.1,777.7 732.5,777.2 730.9,775.6 729.3,777.5 727.7,776.1 726.1,776.9 724.5,778.8 722.9,776.4 721.3,775.9 719.7,777.2 718.1,776.3 716.4,775.3 714.8,777.2 713.2,778.6 711.6,775.8 710.0,776.0 708.4,775.5 706.8,776.0 705.2,779.0 703.6,777.4 702.0,776.4 700.4,779.1 698.8,775.3 697.2,777.2 695.6,777.9 694.0,776.7 692.4,778.1 690.8,777.2 689.2,776.2 687.6,776.9 686.0,776.8 684.4,778.7 682.8,776.5 681.2,777.1 679.5,778.2 677.9,777.3 676.3,776.6 674.7,776.0 673.1,778.7 671.5,777.2 669.9,778.5 668.3,778.3 666.7,776.1 665.1,778.8 663.5,778.9 661.9,777.5 660.3,775.7 658.7,775.7 657.1,776.8 655.5,777.5 653.9,778.4 652.3,779.1 650.7,778.1 649.1,775.8 647.5,778.1 645.9,777.0 644.3,777.2 642.6,777.6 641.0,777.4 639.4,779.2 637.8,777.6 636.2,777.8 634.6,777.1 633.0,778.1 631.4,778.5 629.8,776.0 628.2,776.3 626.6,779.0 625.0,775.8 623.4,778.8 621.8,775.9 620.2,777.3 618.6,775.5 617.0,775.6 615.4,779.0 613.8,777.7 612.2,778.1 610.6,778.7 609.0,777.1 607.4,777.3 605.7,778.7 604.1,778.9 602.5,778.2 600.9,778.8 599.3,776.9 597.7,779.3 596.1,779.4 594.5,779.2 592.9,776.6 591.3,778.0 589.7,778.6 588.1,778.9 586.5,779.2 584.9,777.2 583.3,778.3 581.7,776.8 580.1,779.4 578.5,778.4 576.9,778.1 575.3,778.4 573.7,776.3 572.1,778.4 570.5,776.5 568.8,778.0 567.2,775.9 565.6,777.3 564.0,776.5 562.4,777.6 560.8,779.0 559.2,775.8 557.6,779.1 556.0,777.6 554.4,779.5 552.8,775.7 551.2,777.8 549.6,778.3 548.0,779.7 546.4,778.2 544.8,778.3 543.2,776.4 541.6,775.8 540.0,775.8 538.4,778.0 536.8,776.4 535.2,778.7 533.6,775.9 531.9,776.5 530.3,778.0 528.7,778.2 527.1,777.3 525.5,779.1 523.9,779.5 522.3,776.5 520.7,776.9 519.1,777.2 517.5,778.1 515.9,779.3 514.3,777.8" fill="#ffa500" fill-opacity="0.1"/>
<polygon points="514.3,696.5 515.9,696.6 517.5,697.2 519.1,695.2 520.7,697.8 522.3,695.1 523.9,695.7 525.5,697.9 527.1,698.4 528.7,695.9 530.3,698.2 531.9,694.6 533.6,698.2 535.2,695.2 536.8,694.6 538.4,697.5 540.0,695.0 541.6,697.4 543.2,694.4 544.8,694.9 546.4,695.8 548.0,694.7 549.6,696.2 551.2,695.7 552.8,697.3 554.4,696.3 556.0,698.2 557.6,697.7 559.2,695.0 560.8,698.0 562.4,697.9 564.0,696.6 565.6,696.4 567.2,695.0 568.8,695.6 570.5,695.2 572.1,695.1 573.7,696.7 575.3,695.6 576.9,697.3 578.5,696.5 580.1,697.6 581.7,694.6 583.3,697.6 584.9,696.3 586.5,696.7 588.1,695.2 589.7,697.0 591.3,695.8 592.9,697.1 594.5,696.5 596.1,694.7 597.7,695.4 599.3,697.2 600.9,694.2 602.5,696.7 604.1,696.3 605.7,697.0 607.4,695.5 609.0,696.0 610.6,696.0 612.2,697.1 613.8,694.4 615.4,696.1 617.0,695.1 618.6,696.5 620.2,695.1 621.8,694.9 623.4,695.0 625.0,697.7 626.6,695.5 628.2,697.6 629.8,697.0 631.4,695.1 633.0,696.3 634.6,694.1 636.2,697.8 637.8,696.5 639.4,694.5 641.0,696.1 642.6,696.0 644.3,696.7 645.9,695.1 647.5,697.6 649.1,696.5 650.7,694.3 652.3,697.2 653.9,697.5 655.5,695.2 657.1,696.8 658.7,697.4 660.3,697.5 661.9,694.2 663.5,697.3 665.1,694.9 666.7,697.1 668.3,696.7 669.9,695.8 671.5,697.5 673.1,697.1 674.7,697.9 676.3,697.7 677.9,696.2 679.5,696.8 681.2,696.5 682.8,695.4 684.4,695.8 686.0,695.9 687.6,694.7 689.2,694.9 690.8,697.2 692.4,697.2 694.0,696.6 695.6,696.6 697.2,695.8 698.8,696.1 700.4,696.4 702.0,693.8 703.6,695.5 705.2,697.6 706.8,694.6 708.4,695.6 710.0,694.1 711.6,694.8 713.2,697.0 714.8,693.9 716.4,696.9 718.1,696.9 719.7,697.2 721.3,694.7 722.9,697.4 724.5,695.2 726.1,695.5 727.7,697.5 729.3,695.8 730.9,696.4 732.5,694.1 734.1,693.7 735.7,694.7 737.3,694.1 738.9,696.9 740.5,694.6 742.1,697.4 743.7,696.3 745.3,694.4 746.9,696.4 748.5,694.9 750.1,695.7 751.7,693.9 753.3,696.9 755.0,696.7 756.6,695.9 758.2,696.3 759.8,694.9 761.4,694.1 763.0,694.8 764.6,696.5 766.2,695.8 767.8,694.1 769.4,694.5 771.0,695.4 772.6,695.5 772.6,772.5 771.0,771.8 769.4,773.3 767.8,771.5 766.2,772.2 764.6,773.1 763.0,771.1 761.4,772.4 759.8,771.2 758.2,771.9 756.6,771.4 755.0,770.6 753.3,772.0 751.7,771.3 750.1,773.6 748.5,774.2 746.9,774.2 745.3,773.5 743.7,772.4 742.1,772.0 740.5,772.3 738.9,773.8 737.3,771.2 735.7,771.9 734.1,773.8 732.5,774.1 730.9,772.1 729.3,774.5 727.7,773.2 726.1,771.3 724.5,774.3 722.9,773.5 721.3,772.1 719.7,773.6 718.1,774.7 716.4,771.9 714.8,772.6 713.2,772.1 711.6,771.9 710.0,771.7 708.4,771.2 706.8,773.4 705.2,773.8 703.6,772.8 702.0,774.2 700.4,773.5 698.8,772.8 697.2,772.6 695.6,773.1 694.0,773.1 692.4,772.8 690.8,771.6 689.2,773.6 687.6,774.2 686.0,772.9 684.4,770.8 682.8,771.6 681.2,772.8 679.5,771.9 677.9,772.9 676.3,773.8 674.7,772.8 673.1,773.2 671.5,772.9 669.9,773.9 668.3,774.4 666.7,771.1 665.1,773.3 663.5,773.6 661.9,773.4 660.3,774.3 658.7,771.7 657.1,772.8 655.5,771.8 653.9,773.6 652.3,773.5 650.7,771.5 649.1,773.5 647.5,771.3 645.9,771.1 644.3,773.9 642.6,774.6 641.0,771.8 639.4,774.7 637.8,771.1 636.2,771.2 634.6,774.2 633.0,772.1 631.4,773.5 629.8,774.3 628.2,774.2 626.6,771.1 625.0,774.5 623.4,774.2 621.8,771.4 620.2,771.5 618.6,771.3 617.0,772.3 615.4,771.5 613.8,771.6 612.2,773.7 610.6,772.9 609.0,772.0 607.4,771.1 605.7,773.0 604.1,772.0 602.5,771.3 600.9,772.2 599.3,775.0 597.7,775.0 596.1,774.5 594.5,774.7 592.9,772.5 591.3,771.6 589.7,774.7 588.1,774.5 586.5,771.5 584.9,771.8 583.3,772.2 581.7,772.2 580.1,774.7 578.5,773.5 576.9,773.3 575.3,772.9 573.7,772.7 572.1,773.6 570.5,772.2 568.8,773.0 567.2,771.4 565.6,773.8 564.0,774.3 562.4,774.3 560.8,773.5 559.2,771.6 557.6,774.6 556.0,773.2 554.4,774.1 552.8,775.1 551.2,771.9 549.6,773.9 548.0,774.7 546.4,773.8 544.8,772.5 543.2,772.9 541.6,772.5 540.0,775.0 538.4,772.3 536.8,775.1 535.2,772.8 533.6,773.7 531.9,775.2 530.3,773.4 528.7,772.5 527.1,774.4 525.5,774.3 523.9,771.8 522.3,774.8 520.7,771.8 519.1,773.1 517.5,771.5 515.9,771.4 514.3,773.3" fill="#ffa500" fill-opacity="0.18"/>
<polygon points="514.3,700.5 515.9,698.6 517.5,701.8 519.1,701.5 520.7,702.0 522.3,699.6 523.9,699.5 525.5,701.2 527.1,699.0 528.7,702.3 530.3,701.1 531.9,700.6 533.6,698.6 535.2,699.6 536.8,700.1 538.4,702.3 540.0,699.0 541.6,700.8 543.2,698.7 544.8,702.3 546.4,701.4 548.0,701.6 549.6,701.4 551.2,699.1 552.8,699.3 554.4,698.5 556.0,700.5 557.6,698.7 559.2,699.1 560.8,699.0 562.4,702.0 564.0,701.5 565.6,699.4 567.2,702.2 568.8,698.9 570.5,698.8 572.1,699.8 573.7,701.5 575.3,698.7 576.9,701.4 578.5,700.4 580.1,701.4 581.7,699.6 583.3,698.4 584.9,698.6 586.5,701.1 588.1,700.2 589.7,701.3 591.3,699.0 592.9,699.3 594.5,699.0 596.1,701.6 597.7,701.0 599.3,698.8 600.9,701.1 602.5,698.3 604.1,700.0 605.7,699.2 607.4,701.2 609.0,701.0 610.6,700.9 612.2,698.9 613.8,698.3 615.4,700.7 617.0,700.9 618.6,698.1 620.2,701.4 621.8,701.7 623.4,699.5 625.0,700.1 626.6,700.7 628.2,701.8 629.8,700.7 631.4,700.1 633.0,701.1 634.6,700.0 636.2,698.2 637.8,700.2 639.4,699.7 641.0,699.3 642.6,699.6 644.3,698.9 645.9,699.2 647.5,701.0 649.1,701.5 650.7,699.8 652.3,701.3 653.9,698.5 655.5,700.0 657.1,700.9 658.7,701.1 660.3,699.5 661.9,698.6 663.5,701.8 665.1,700.4 666.7,700.5 668.3,699.3 669.9,698.3 671.5,700.2 673.1,699.5 674.7,701.4 676.3,700.5 677.9,700.9 679.5,700.1 681.2,700.9 682.8,698.4 684.4,701.8 686.0,700.2 687.6,700.2 689.2,698.6 690.8,698.2 692.4,700.6 694.0,700.7 695.6,700.5 697.2,698.8 698.8,699.7 700.4,700.9 702.0,700.3 703.6,701.4 705.2,698.1 706.8,700.9 708.4,697.8 710.0,700.2 711.6,699.9 713.2,698.0 714.8,699.4 716.4,700.4 718.1,701.2 719.7,698.0 721.3,699.7 722.9,700.9 724.5,698.2 726.1,701.3 727.7,701.4 729.3,699.0 730.9,698.5 732.5,698.2 734.1,698.5 735.7,699.3 737.3,700.5 738.9,701.4 740.5,699.9 742.1,701.4 743.7,699.3 745.3,700.2 746.9,697.6 748.5,699.3 750.1,697.7 751.7,698.1 753.3,700.8 755.0,698.0 756.6,698.8 758.2,699.7 759.8,699.7 761.4,697.7 763.0,698.0 764.6,700.2 766.2,699.1 767.8,697.9 769.4,699.4 771.0,699.0 772.6,699.5 772.6,768.5 771.0,769.2 769.4,766.9 767.8,769.9 766.2,767.8 764.6,767.5 763.0,766.6 761.4,770.3 759.8,767.9 758.2,769.7 756.6,767.6 755.0,767.1 753.3,770.5 751.7,768.5 750.1,767.3 748.5,766.7 746.9,770.1 745.3,767.3 743.7,768.7 742.1,769.6 740.5,767.0 738.9,768.6 737.3,768.2 735.7,770.3 734.1,770.4 732.5,768.4 730.9,768.6 729.3,766.7 727.7,767.5 726.1,767.1 724.5,770.0 722.9,768.7 721.3,768.6 719.7,769.8 718.1,769.9 716.4,770.1 714.8,768.0 713.2,770.7 711.6,768.0 710.0,768.8 708.4,768.1 706.8,766.7 705.2,768.4 703.6,768.7 702.0,769.0 700.4,769.6 698.8,766.8 697.2,770.4 695.6,769.3 694.0,767.6 692.4,767.7 690.8,769.2 689.2,767.0 687.6,768.5 686.0,767.3 684.4,768.3 682.8,770.7 681.2,767.5 679.5,767.0 677.9,768.6 676.3,767.3 674.7,769.0 673.1,769.6 671.5,769.3 669.9,770.5 668.3,769.9 666.7,768.8 665.1,770.0 663.5,767.6 661.9,769.1 660.3,769.0 658.7,770.7 657.1,770.7 655.5,768.3 653.9,770.8 652.3,770.8 650.7,769.0 649.1,768.6 647.5,768.2 645.9,769.4 644.3,767.1 642.6,770.2 641.0,768.2 639.4,769.2 637.8,767.9 636.2,768.7 634.6,769.8 633.0,770.5 631.4,770.5 629.8,769.2 628.2,770.4 626.6,768.4 625.0,770.6 623.4,767.7 621.8,768.1 620.2,767.3 618.6,767.5 617.0,768.9 615.4,768.7 613.8,768.8 612.2,769.7 610.6,770.8 609.0,770.3 607.4,768.0 605.7,770.9 604.1,769.3 602.5,767.7 600.9,769.8 599.3,769.5 597.7,769.1 596.1,767.4 594.5,767.6 592.9,770.2 591.3,769.7 589.7,770.2 588.1,767.2 586.5,770.5 584.9,768.9 583.3,770.8 581.7,770.5 580.1,769.6 578.5,770.9 576.9,770.9 575.3,767.5 573.7,770.6 572.1,767.2 570.5,770.1 568.8,768.5 567.2,767.8 565.6,767.9 564.0,767.2 562.4,769.6 560.8,768.0 559.2,770.0 557.6,768.7 556.0,770.1 554.4,770.4 552.8,770.2 551.2,769.2 549.6,768.8 548.0,771.1 546.4,768.9 544.8,767.6 543.2,769.5 541.6,768.7 540.0,769.3 538.4,769.0 536.8,768.3 535.2,769.7 533.6,770.1 531.9,771.2 530.3,768.7 528.7,769.4 527.1,767.7 525.5,770.4 523.9,771.1 522.3,769.5 520.7,767.6 519.1,768.0 517.5,767.5 515.9,771.3 514.3,769.3" fill="#ffa500" fill-opacity="0.32"/>
<polygon points="514.3,703.8 515.9,705.3 517.5,705.7 519.1,705.0 520.7,702.0 522.3,703.7 523.9,702.6 525.5,702.2 527.1,702.7 528.7,704.7 530.3,704.0 531.9,702.3 533.6,702.9 535.2,702.0 536.8,705.4 538.4,704.7 540.0,703.6 541.6,705.5 543.2,705.6 544.8,702.5 546.4,702.7 548.0,702.4 549.6,704.2 551.2,704.0 552.8,703.7 554.4,704.7 556.0,703.8 557.6,702.9 559.2,704.3 560.8,705.4 562.4,701.8 564.0,703.6 565.6,702.2 567.2,704.6 568.8,703.3 570.5,704.9 572.1,704.3 573.7,705.4 575.3,703.9 576.9,703.9 578.5,705.4 580.1,704.8 581.7,702.9 583.3,701.9 584.9,705.2 586.5,701.8 588.1,705.2 589.7,705.2 591.3,704.1 592.9,705.3 594.5,703.9 596.1,704.5 597.7,703.9 599.3,702.4 600.9,701.8 602.5,704.4 604.1,703.3 605.7,701.9 607.4,703.7 609.0,702.5 610.6,702.5 612.2,704.9 613.8,703.9 615.4,704.4 617.0,704.7 618.6,703.1 620.2,703.2 621.8,703.1 623.4,702.8 625.0,704.5 626.6,704.9 628.2,702.6 629.8,704.2 631.4,702.2 633.0,701.4 634.6,704.1 636.2,704.4 637.8,702.6 639.4,705.3 641.0,704.2 642.6,702.6 644.3,704.3 645.9,704.7 647.5,701.8 649.1,704.9 650.7,703.0 652.3,702.4 653.9,702.8 655.5,703.4 657.1,703.4 658.7,702.4 660.3,701.5 661.9,703.8 663.5,704.1 665.1,704.0 666.7,702.8 668.3,704.6 669.9,701.3 671.5,701.7 673.1,701.3 674.7,703.4 676.3,703.3 677.9,702.1 679.5,703.3 681.2,701.2 682.8,701.3 684.4,705.0 686.0,704.7 687.6,701.4 689.2,703.7 690.8,703.1 692.4,703.3 694.0,704.5 695.6,703.7 697.2,704.9 698.8,703.8 700.4,704.7 702.0,701.5 703.6,704.4 705.2,702.3 706.8,704.7 708.4,704.2 710.0,704.9 711.6,704.1 713.2,702.6 714.8,703.1 716.4,704.1 718.1,701.2 719.7,703.2 721.3,703.3 722.9,703.9 724.5,702.4 726.1,703.4 727.7,703.9 729.3,702.5 730.9,703.7 732.5,704.6 734.1,702.4 735.7,703.0 737.3,702.9 738.9,704.3 740.5,702.0 742.1,702.1 743.7,702.5 745.3,703.5 746.9,701.5 748.5,704.8 750.1,702.9 751.7,703.8 753.3,702.5 755.0,701.0 756.6,702.4 758.2,703.1 759.8,701.2 761.4,704.8 763.0,703.2 764.6,702.7 766.2,700.9 767.8,701.8 769.4,702.2 771.0,703.4 772.6,702.8 772.6,765.2 771.0,763.9 769.4,766.8 767.8,767.1 766.2,765.7 764.6,767.1 763.0,765.1 761.4,765.2 759.8,764.7 758.2,765.3 756.6,765.2 755.0,764.1 753.3,766.1 751.7,766.8 750.1,766.7 748.5,763.7 746.9,765.0 745.3,766.3 743.7,766.2 742.1,766.2 740.5,767.3 738.9,765.6 737.3,766.9 735.7,763.6 734.1,767.0 732.5,765.5 730.9,763.5 729.3,765.8 727.7,765.1 726.1,764.7 724.5,764.9 722.9,766.5 721.3,767.1 719.7,767.0 718.1,764.9 716.4,766.1 714.8,764.9 713.2,766.5 711.6,764.7 710.0,766.3 708.4,766.3 706.8,765.3 705.2,765.3 703.6,765.4 702.0,766.6 700.4,765.7 698.8,765.3 697.2,766.5 695.6,766.8 694.0,763.8 692.4,765.4 690.8,766.1 689.2,766.2 687.6,766.6 686.0,764.9 684.4,763.5 682.8,767.2 681.2,764.7 679.5,767.5 677.9,763.5 676.3,764.9 674.7,765.6 673.1,763.5 671.5,765.1 669.9,765.6 668.3,767.3 666.7,767.2 665.1,766.8 663.5,766.4 661.9,766.6 660.3,767.4 658.7,766.8 657.1,765.2 655.5,765.2 653.9,767.0 652.3,765.4 650.7,767.5 649.1,766.5 647.5,764.8 645.9,765.4 644.3,765.3 642.6,767.6 641.0,764.5 639.4,765.1 637.8,767.5 636.2,766.9 634.6,764.9 633.0,765.1 631.4,766.1 629.8,767.6 628.2,766.6 626.6,763.7 625.0,764.9 623.4,766.8 621.8,766.6 620.2,763.8 618.6,766.2 617.0,764.0 615.4,766.7 613.8,766.5 612.2,767.3 610.6,764.4 609.0,764.3 607.4,767.3 605.7,767.3 604.1,766.2 602.5,764.3 600.9,766.3 599.3,765.4 597.7,767.7 596.1,767.6 594.5,766.7 592.9,765.2 591.3,765.5 589.7,764.3 588.1,765.0 586.5,764.2 584.9,763.9 583.3,764.1 581.7,767.3 580.1,766.5 578.5,764.9 576.9,765.6 575.3,764.5 573.7,764.7 572.1,764.3 570.5,767.8 568.8,767.6 567.2,765.3 565.6,766.2 564.0,765.0 562.4,765.0 560.8,767.6 559.2,764.9 557.6,764.1 556.0,766.4 554.4,766.6 552.8,764.8 551.2,765.4 549.6,765.9 548.0,765.7 546.4,765.7 544.8,767.2 543.2,763.9 541.6,766.5 540.0,764.8 538.4,767.3 536.8,765.3 535.2,767.7 533.6,767.0 531.9,765.9 530.3,766.6 528.7,764.3 527.1,766.5 525.5,767.0 523.9,766.0 522.3,766.7 520.7,766.2 519.1,765.1 517.5,765.9 515.9,764.7 514.3,766.0" fill="#ffa500" fill-opacity="0.5"/>
<polygon points="514.3,707.0 515.9,707.4 517.5,706.8 519.1,707.1 520.7,707.1 522.3,707.4 523.9,706.6 525.5,707.2 527.1,706.7 528.7,707.4 530.3,706.9 531.9,707.2 533.6,707.7 535.2,706.6 536.8,706.1 538.4,707.5 540.0,706.9 541.6,707.1 543.2,707.4 544.8,707.5 546.4,706.7 548.0,707.6 549.6,706.7 551.2,707.2 552.8,707.4 554.4,706.6 556.0,706.7 557.6,706.6 559.2,706.6 560.8,706.7 562.4,707.4 564.0,706.1 565.6,707.6 567.2,707.3 568.8,706.9 570.5,707.0 572.1,706.5 573.7,707.2 575.3,707.4 576.9,706.6 578.5,706.8 580.1,706.3 581.7,706.3 583.3,707.3 584.9,707.0 586.5,706.6 588.1,706.9 589.7,706.2 591.3,705.9 592.9,706.5 594.5,706.8 596.1,706.2 597.7,706.7 599.3,706.4 600.9,706.3 602.5,707.0 604.1,706.4 605.7,707.0 607.4,707.0 609.0,706.4 610.6,705.9 612.2,707.2 613.8,706.7 615.4,706.7 617.0,706.9 618.6,706.7 620.2,707.2 621.8,705.8 623.4,707.3 625.0,706.8 626.6,706.4 628.2,707.2 629.8,707.2 631.4,706.7 633.0,705.8 634.6,706.7 636.2,706.4 637.8,706.6 639.4,707.0 641.0,705.9 642.6,707.1 644.3,706.2 645.9,706.1 647.5,705.7 649.1,705.8 650.7,706.1 652.3,706.5 653.9,707.2 655.5,705.9 657.1,706.1 658.7,706.2 660.3,706.7 661.9,706.2 663.5,706.7 665.1,705.9 666.7,705.7 668.3,706.5 669.9,706.8 671.5,705.8 673.1,705.7 674.7,706.6 676.3,705.7 677.9,707.0 679.5,706.7 681.2,705.8 682.8,706.2 684.4,705.6 686.0,705.7 687.6,706.1 689.2,706.9 690.8,707.0 692.4,706.7 694.0,706.5 695.6,706.4 697.2,706.3 698.8,706.5 700.4,706.3 702.0,706.1 703.6,706.8 705.2,705.9 706.8,706.1 708.4,706.5 710.0,707.0 711.6,706.0 713.2,706.1 714.8,706.1 716.4,705.8 718.1,706.0 719.7,706.7 721.3,705.7 722.9,706.2 724.5,705.8 726.1,706.3 727.7,706.6 729.3,705.6 730.9,706.1 732.5,705.7 734.1,706.4 735.7,706.4 737.3,705.7 738.9,705.7 740.5,705.8 742.1,705.8 743.7,706.7 745.3,706.7 746.9,706.6 748.5,705.9 750.1,706.0 751.7,705.6 753.3,706.0 755.0,706.8 756.6,705.4 758.2,705.9 759.8,705.6 761.4,706.6 763.0,705.7 764.6,706.0 766.2,705.3 767.8,706.3 769.4,706.0 771.0,706.5 772.6,706.0 772.6,762.0 771.0,762.6 769.4,762.7 767.8,762.1 766.2,762.4 764.6,762.7 763.0,761.7 761.4,762.7 759.8,762.0 758.2,762.0 756.6,761.7 755.0,762.8 753.3,761.7 751.7,762.3 750.1,761.5 748.5,761.4 746.9,762.3 745.3,762.8 743.7,761.5 742.1,762.6 740.5,762.3 738.9,762.6 737.3,762.6 735.7,762.4 734.1,762.4 732.5,762.4 730.9,761.4 729.3,761.9 727.7,762.8 726.1,762.7 724.5,762.3 722.9,762.0 721.3,761.7 719.7,762.0 718.1,762.5 716.4,763.0 714.8,762.0 713.2,762.7 711.6,761.6 710.0,762.3 708.4,761.5 706.8,761.6 705.2,761.7 703.6,762.6 702.0,762.5 700.4,761.5 698.8,762.5 697.2,762.6 695.6,762.5 694.0,762.0 692.4,762.9 690.8,763.0 689.2,762.4 687.6,763.0 686.0,762.2 684.4,762.8 682.8,761.9 681.2,762.4 679.5,762.7 677.9,761.6 676.3,762.9 674.7,761.6 673.1,761.9 671.5,763.1 669.9,762.2 668.3,763.0 666.7,762.0 665.1,762.1 663.5,761.7 661.9,762.2 660.3,762.7 658.7,763.1 657.1,762.1 655.5,762.1 653.9,763.1 652.3,761.8 650.7,761.9 649.1,761.6 647.5,762.0 645.9,762.2 644.3,763.0 642.6,762.4 641.0,762.3 639.4,763.0 637.8,763.1 636.2,763.1 634.6,762.8 633.0,761.9 631.4,763.1 629.8,762.4 628.2,762.9 626.6,762.7 625.0,761.8 623.4,763.2 621.8,761.8 620.2,762.2 618.6,763.1 617.0,762.9 615.4,761.9 613.8,762.4 612.2,762.0 610.6,762.3 609.0,761.9 607.4,761.8 605.7,761.9 604.1,762.1 602.5,762.6 600.9,761.8 599.3,762.5 597.7,762.5 596.1,762.6 594.5,762.0 592.9,762.0 591.3,761.8 589.7,762.1 588.1,762.8 586.5,762.0 584.9,762.3 583.3,761.9 581.7,763.3 580.1,762.8 578.5,763.0 576.9,763.0 575.3,762.7 573.7,763.2 572.1,762.1 570.5,762.5 568.8,763.1 567.2,761.9 565.6,762.8 564.0,762.7 562.4,762.7 560.8,762.3 559.2,763.2 557.6,763.0 556.0,763.2 554.4,762.6 552.8,762.8 551.2,762.7 549.6,762.4 548.0,763.3 546.4,763.5 544.8,762.6 543.2,763.2 541.6,762.7 540.0,763.0 538.4,762.1 536.8,762.1 535.2,763.2 533.6,762.8 531.9,762.1 530.3,762.5 528.7,762.7 527.1,763.1 525.5,763.5 523.9,762.0 522.3,762.9 520.7,762.4 519.1,762.4 517.5,763.2 515.9,763.1 514.3,762.8" fill="#ffa500"/>
<rect x="772.6" y="699.0" width="6.0" height="71.0" fill="#ffa500" fill-opacity="0.75"/>
<rect x="514.3" y="703.0" width="3.2" height="78.0" fill="#ffa500" fill-opacity="0.35"/>
<path d="M707.9 694.0l1.6 1.6l-1.6 1.6l-1.6 -1.6zM525.6 689.5l1.6 1.6l-1.6 1.6l-1.6 -1.6zM682.4 688.0l1.6 1.6l-1.6 1.6l-1.6 -1.6zM680.4 691.3l1.6 1.6l-1.6 1.6l-1.6 -1.6zM614.4 697.9l1.6 1.6l-1.6 1.6l-1.6 -1.6zM731.5 696.9l1.6 1.6l-1.6 1.6l-1.6 -1.6zM629.7 693.9l1.6 1.6l-1.6 1.6l-1.6 -1.6zM768.9 699.4l1.6 1.6l-1.6 1.6l-1.6 -1.6zM671.2 687.5l1.6 1.6l-1.6 1.6l-1.6 -1.6zM747.2 687.0l1.6 1.6l-1.6 1.6l-1.6 -1.6zM544.6 695.6l1.6 1.6l-1.6 1.6l-1.6 -1.6zM565.0 696.9l1.6 1.6l-1.6 1.6l-1.6 -1.6zM691.6 688.7l1.6 1.6l-1.6 1.6l-1.6 -1.6zM748.9 700.4l1.6 1.6l-1.6 1.6l-1.6 -1.6zM684.0 700.2l1.6 1.6l-1.6 1.6l-1.6 -1.6zM721.2 693.0l1.6 1.6l-1.6 1.6l-1.6 -1.6zM727.3 699.5l1.6 1.6l-1.6 1.6l-1.6 -1.6zM694.1 687.6l1.6 1.6l-1.6 1.6l-1.6 -1.6zM610.5 696.3l1.6 1.6l-1.6 1.6l-1.6 -1.6zM608.8 688.7l1.6 1.6l-1.6 1.6l-1.6 -1.6zM632.1 688.4l1.6 1.6l-1.6 1.6l-1.6 -1.6zM636.8 687.8l1.6 1.6l-1.6 1.6l-1.6 -1.6zM702.0 689.4l1.6 1.6l-1.6 1.6l-1.6 -1.6zM756.0 687.9l1.6 1.6l-1.6 1.6l-1.6 -1.6zM677.4 695.4l1.6 1.6l-1.6 1.6l-1.6 -1.6zM565.7 695.2l1.6 1.6l-1.6 1.6l-1.6 -1.6zM656.2 695.0l1.6 1.6l-1.6 1.6l-1.6 -1.6zM562.1 693.1l1.6 1.6l-1.6 1.6l-1.6 -1.6zM730.2 695.1l1.6 1.6l-1.6 1.6l-1.6 -1.6zM577.3 691.1l1.6 1.6l-1.6 1.6l-1.6 -1.6zM741.4 687.1l1.6 1.6l-1.6 1.6l-1.6 -1.6zM637.8 693.6l1.6 1.6l-1.6 1.6l-1.6 -1.6zM625.4 686.4l1.6 1.6l-1.6 1.6l-1.6 -1.6zM541.8 698.2l1.6 1.6l-1.6 1.6l-1.6 -1.6zM631.8 690.5l1.6 1.6l-1.6 1.6l-1.6 -1.6zM630.9 687.1l1.6 1.6l-1.6 1.6l-1.6 -1.6zM535.3 698.0l1.6 1.6l-1.6 1.6l-1.6 -1.6zM710.5 689.2l1.6 1.6l-1.6 1.6l-1.6 -1.6zM596.3 687.5l1.6 1.6l-1.6 1.6l-1.6 -1.6zM596.4 693.7l1.6 1.6l-1.6 1.6l-1.6 -1.6zM708.7 693.5l1.6 1.6l-1.6 1.6l-1.6 -1.6zM733.3 700.4l1.6 1.6l-1.6 1.6l-1.6 -1.6zM660.9 687.0l1.6 1.6l-1.6 1.6l-1.6 -1.6zM549.0 695.8l1.6 1.6l-1.6 1.6l-1.6 -1.6zM548.0 699.0l1.6 1.6l-1.6 1.6l-1.6 -1.6zM528.3 687.2l1.6 1.6l-1.6 1.6l-1.6 -1.6zM771.5 692.1l1.6 1.6l-1.6 1.6l-1.6 -1.6zM657.7 694.7l1.6 1.6l-1.6 1.6l-1.6 -1.6zM544.9 691.1l1.6 1.6l-1.6 1.6l-1.6 -1.6zM609.6 696.7l1.6 1.6l-1.6 1.6l-1.6 -1.6zM716.4 696.1l1.6 1.6l-1.6 1.6l-1.6 -1.6zM561.0 692.9l1.6 1.6l-1.6 1.6l-1.6 -1.6zM750.8 688.8l1.6 1.6l-1.6 1.6l-1.6 -1.6zM604.4 695.0l1.6 1.6l-1.6 1.6l-1.6 -1.6zM771.4 686.8l1.6 1.6l-1.6 1.6l-1.6 -1.6zM692.8 692.9l1.6 1.6l-1.6 1.6l-1.6 -1.6zM650.9 698.2l1.6 1.6l-1.6 1.6l-1.6 -1.6zM539.1 694.8l1.6 1.6l-1.6 1.6l-1.6 -1.6zM596.2 697.0l1.6 1.6l-1.6 1.6l-1.6 -1.6zM698.8 692.2l1.6 1.6l-1.6 1.6l-1.6 -1.6zM553.6 697.1l1.6 1.6l-1.6 1.6l-1.6 -1.6zM695.3 694.3l1.6 1.6l-1.6 1.6l-1.6 -1.6zM706.9 699.7l1.6 1.6l-1.6 1.6l-1.6 -1.6zM577.5 696.1l1.6 1.6l-1.6 1.6l-1.6 -1.6zM722.7 690.1l1.6 1.6l-1.6 1.6l-1.6 -1.6zM747.6 690.8l1.6 1.6l-1.6 1.6l-1.6 -1.6zM761.2 694.6l1.6 1.6l-1.6 1.6l-1.6 -1.6zM765.6 698.8l1.6 1.6l-1.6 1.6l-1.6 -1.6zM716.3 691.6l1.6 1.6l-1.6 1.6l-1.6 -1.6zM632.7 694.6l1.6 1.6l-1.6 1.6l-1.6 -1.6zM722.3 692.2l1.6 1.6l-1.6 1.6l-1.6 -1.6zM746.5 689.4l1.6 1.6l-1.6 1.6l-1.6 -1.6zM648.8 688.4l1.6 1.6l-1.6 1.6l-1.6 -1.6zM558.4 690.5l1.6 1.6l-1.6 1.6l-1.6 -1.6zM526.6 694.4l1.6 1.6l-1.6 1.6l-1.6 -1.6zM674.5 691.9l1.6 1.6l-1.6 1.6l-1.6 -1.6zM720.3 694.0l1.6 1.6l-1.6 1.6l-1.6 -1.6zM690.8 687.6l1.6 1.6l-1.6 1.6l-1.6 -1.6zM599.5 686.7l1.6 1.6l-1.6 1.6l-1.6 -1.6zM555.6 698.3l1.6 1.6l-1.6 1.6l-1.6 -1.6z" fill="#ffa500" fill-opacity="0.25"/>
<path d="M549.3 774.9l1.6 1.6l-1.6 1.6l-1.6 -1.6zM611.8 776.2l1.6 1.6l-1.6 1.6l-1.6 -1.6zM739.4 778.7l1.6 1.6l-1.6 1.6l-1.6 -1.6zM763.5 780.9l1.6 1.6l-1.6 1.6l-1.6 -1.6zM617.3 781.2l1.6 1.6l-1.6 1.6l-1.6 -1.6zM711.3 769.8l1.6 1.6l-1.6 1.6l-1.6 -1.6zM599.1 773.8l1.6 1.6l-1.6 1.6l-1.6 -1.6zM732.7 767.0l1.6 1.6l-1.6 1.6l-1.6 -1.6zM744.5 776.1l1.6 1.6l-1.6 1.6l-1.6 -1.6zM667.5 771.9l1.6 1.6l-1.6 1.6l-1.6 -1.6zM612.9 771.9l1.6 1.6l-1.6 1.6l-1.6 -1.6zM699.2 772.5l1.6 1.6l-1.6 1.6l-1.6 -1.6zM698.7 779.4l1.6 1.6l-1.6 1.6l-1.6 -1.6zM536.8 765.7l1.6 1.6l-1.6 1.6l-1.6 -1.6zM757.4 768.5l1.6 1.6l-1.6 1.6l-1.6 -1.6zM724.6 771.9l1.6 1.6l-1.6 1.6l-1.6 -1.6zM572.4 765.6l1.6 1.6l-1.6 1.6l-1.6 -1.6zM625.0 775.0l1.6 1.6l-1.6 1.6l-1.6 -1.6zM528.4 765.6l1.6 1.6l-1.6 1.6l-1.6 -1.6zM588.5 779.5l1.6 1.6l-1.6 1.6l-1.6 -1.6zM708.0 769.5l1.6 1.6l-1.6 1.6l-1.6 -1.6zM618.5 772.1l1.6 1.6l-1.6 1.6l-1.6 -1.6zM697.3 770.0l1.6 1.6l-1.6 1.6l-1.6 -1.6zM606.0 773.5l1.6 1.6l-1.6 1.6l-1.6 -1.6zM575.5 772.3l1.6 1.6l-1.6 1.6l-1.6 -1.6zM707.4 773.5l1.6 1.6l-1.6 1.6l-1.6 -1.6zM528.7 771.0l1.6 1.6l-1.6 1.6l-1.6 -1.6zM661.6 769.1l1.6 1.6l-1.6 1.6l-1.6 -1.6zM614.4 774.4l1.6 1.6l-1.6 1.6l-1.6 -1.6zM608.4 768.3l1.6 1.6l-1.6 1.6l-1.6 -1.6zM740.3 766.4l1.6 1.6l-1.6 1.6l-1.6 -1.6zM748.4 766.9l1.6 1.6l-1.6 1.6l-1.6 -1.6zM657.4 774.1l1.6 1.6l-1.6 1.6l-1.6 -1.6zM620.1 775.4l1.6 1.6l-1.6 1.6l-1.6 -1.6zM742.5 770.5l1.6 1.6l-1.6 1.6l-1.6 -1.6zM529.8 768.6l1.6 1.6l-1.6 1.6l-1.6 -1.6zM741.2 775.0l1.6 1.6l-1.6 1.6l-1.6 -1.6zM709.1 771.6l1.6 1.6l-1.6 1.6l-1.6 -1.6zM597.9 776.4l1.6 1.6l-1.6 1.6l-1.6 -1.6zM661.0 780.0l1.6 1.6l-1.6 1.6l-1.6 -1.6zM555.8 770.9l1.6 1.6l-1.6 1.6l-1.6 -1.6zM692.9 779.9l1.6 1.6l-1.6 1.6l-1.6 -1.6zM634.8 778.0l1.6 1.6l-1.6 1.6l-1.6 -1.6zM542.6 775.6l1.6 1.6l-1.6 1.6l-1.6 -1.6zM599.3 776.5l1.6 1.6l-1.6 1.6l-1.6 -1.6zM591.1 768.4l1.6 1.6l-1.6 1.6l-1.6 -1.6zM583.8 777.0l1.6 1.6l-1.6 1.6l-1.6 -1.6zM698.3 780.0l1.6 1.6l-1.6 1.6l-1.6 -1.6zM621.2 766.4l1.6 1.6l-1.6 1.6l-1.6 -1.6zM723.2 769.5l1.6 1.6l-1.6 1.6l-1.6 -1.6zM699.7 773.2l1.6 1.6l-1.6 1.6l-1.6 -1.6zM629.0 765.9l1.6 1.6l-1.6 1.6l-1.6 -1.6zM572.9 777.4l1.6 1.6l-1.6 1.6l-1.6 -1.6zM633.1 779.5l1.6 1.6l-1.6 1.6l-1.6 -1.6zM722.7 773.9l1.6 1.6l-1.6 1.6l-1.6 -1.6zM768.2 765.4l1.6 1.6l-1.6 1.6l-1.6 -1.6zM617.9 773.9l1.6 1.6l-1.6 1.6l-1.6 -1.6zM528.2 779.3l1.6 1.6l-1.6 1.6l-1.6 -1.6zM553.0 774.7l1.6 1.6l-1.6 1.6l-1.6 -1.6zM584.3 771.5l1.6 1.6l-1.6 1.6l-1.6 -1.6zM634.5 770.0l1.6 1.6l-1.6 1.6l-1.6 -1.6zM558.5 776.1l1.6 1.6l-1.6 1.6l-1.6 -1.6zM676.1 766.7l1.6 1.6l-1.6 1.6l-1.6 -1.6zM765.6 767.1l1.6 1.6l-1.6 1.6l-1.6 -1.6zM571.9 769.9l1.6 1.6l-1.6 1.6l-1.6 -1.6zM608.4 773.2l1.6 1.6l-1.6 1.6l-1.6 -1.6zM747.6 767.0l1.6 1.6l-1.6 1.6l-1.6 -1.6zM662.6 775.4l1.6 1.6l-1.6 1.6l-1.6 -1.6zM580.8 771.1l1.6 1.6l-1.6 1.6l-1.6 -1.6zM629.2 779.6l1.6 1.6l-1.6 1.6l-1.6 -1.6zM715.0 773.1l1.6 1.6l-1.6 1.6l-1.6 -1.6zM532.1 771.1l1.6 1.6l-1.6 1.6l-1.6 -1.6zM725.3 772.3l1.6 1.6l-1.6 1.6l-1.6 -1.6zM615.2 775.6l1.6 1.6l-1.6 1.6l-1.6 -1.6zM524.8 775.8l1.6 1.6l-1.6 1.6l-1.6 -1.6zM691.4 767.2l1.6 1.6l-1.6 1.6l-1.6 -1.6zM622.1 779.1l1.6 1.6l-1.6 1.6l-1.6 -1.6zM582.1 773.9l1.6 1.6l-1.6 1.6l-1.6 -1.6zM603.6 774.2l1.6 1.6l-1.6 1.6l-1.6 -1.6zM615.3 770.9l1.6 1.6l-1.6 1.6l-1.6 -1.6z" fill="#ffa500" fill-opacity="0.25"/>
<rect x="71.5" y="35.5" width="336.0" height="103.0" fill="none" stroke="#000" stroke-width="1.11"/>
<text x="0" y="0" font-size="14.72" transform="translate(60.25,159.00) scale(1.0403,1)">22:00</text>
<text x="0" y="0" font-size="14.72" transform="translate(94.25,159.00) scale(1.0403,1)">23:00</text>
<text x="0" y="0" font-size="14.72" transform="translate(128.32,159.00) scale(1.0382,1)">00:00</text>
<text x="0" y="0" font-size="14.72" transform="translate(162.32,159.00) scale(1.0382,1)">01:00</text>
<text x="0" y="0" font-size="14.72" transform="translate(196.32,159.00) scale(1.0382,1)">02:00</text>
<text x="0" y="0" font-size="14.72" transform="translate(230.32,159.00) scale(1.0382,1)">03:00</text>
<text x="0" y="0" font-size="14.72" transform="translate(264.32,159.00) scale(1.0382,1)">04:00</text>
<text x="0" y="0" font-size="14.72" transform="translate(298.32,159.00) scale(1.0382,1)">05:00</text>
<text x="0" y="0" font-size="14.72" transform="translate(332.32,159.00) scale(1.0382,1)">06:00</text>
<text x="0" y="0" font-size="14.72" transform="translate(366.32,159.00) scale(1.0382,1)">07:00</text>
<text x="0" y="0" font-size="14.72" transform="translate(44.13,75.90) scale(0.9982,1)">40</text>
<text x="0" y="0" font-size="14.72" transform="translate(44.15,121.00) scale(1.0033,1)">20</text>
<path d="M81.5 138.5v5.3M114.5 138.5v5.3M148.5 138.5v5.3M182.5 138.5v5.3M216.5 138.5v5.3M250.5 138.5v5.3M284.5 138.5v5.3M318.5 138.5v5.3M352.5 138.5v5.3M386.5 138.5v5.3M71.5 70.5h-5.3M71.5 116.5h-5.3" stroke="#000" stroke-width="1.11" fill="none"/>
<text x="0" y="0" font-size="17.22" transform="translate(72.00,26.90) scale(1.0421,1)">NoRP 1GHz Stokes-I on 2018-12-17[JST]</text>
<text x="0" y="0" font-size="14.72" transform="translate(34.00,87.60) rotate(-90) translate(-35.50,0) scale(1.0192,1)">Flux [SFU]</text>
<rect x="465.5" y="35.5" width="336.0" height="103.0" fill="none" stroke="#000" stroke-width="1.11"/>
<text x="0" y="0" font-size="14.72" transform="translate(454.25,159.00) scale(1.0403,1)">22:00</text>
<text x="0" y="0" font-size="14.72" transform="translate(488.25,159.00) scale(1.0403,1)">23:00</text>
<text x="0" y="0" font-size="14.72" transform="translate(522.32,159.00) scale(1.0382,1)">00:00</text>
<text x="0" y="0" font-size="14.72" transform="translate(556.32,159.00) scale(1.0382,1)">01:00</text>
<text x="0" y="0" font-size="14.72" transform="translate(590.32,159.00) scale(1.0382,1)">02:00</text>
<text x="0" y="0" font-size="14.72" transform="translate(624.32,159.00) scale(1.0382,1)">03:00</text>
<text x="0" y="0" font-size="14.72" transform="translate(658.32,159.00) scale(1.0382,1)">04:00</text>
<text x="0" y="0" font-size="14.72" transform="translate(692.32,159.00) scale(1.0382,1)">05:00</text>
<text x="0" y="0" font-size="14.72" transform="translate(726.32,159.00) scale(1.0382,1)">06:00</text>
<text x="0" y="0" font-size="14.72" transform="translate(760.32,159.00) scale(1.0382,1)">07:00</text>
<text x="0" y="0" font-size="14.72" transform="translate(447.99,63.00) scale(0.9121,1)">1</text>
<text x="0" y="0" font-size="14.72" transform="translate(447.93,100.80) scale(0.9550,1)">0</text>
<text x="0" y="0" font-size="14.72" transform="translate(435.48,139.70) scale(1.1093,1)">−1</text>
<path d="M474.5 138.5v5.3M508.5 138.5v5.3M542.5 138.5v5.3M576.5 138.5v5.3M610.5 138.5v5.3M644.5 138.5v5.3M678.5 138.5v5.3M712.5 138.5v5.3M746.5 138.5v5.3M780.5 138.5v5.3M465.5 57.5h-5.3M465.5 96.5h-5.3M465.5 134.5h-5.3" stroke="#000" stroke-width="1.11" fill="none"/>
<text x="0" y="0" font-size="17.22" transform="translate(546.44,26.90) scale(1.0199,1)">NoRP 1GHz Stokes-V</text>
<rect x="71.5" y="197.5" width="336.0" height="103.0" fill="none" stroke="#000" stroke-width="1.11"/>
<text x="0" y="0" font-size="14.72" transform="translate(60.25,321.00) scale(1.0403,1)">22:00</text>
<text x="0" y="0" font-size="14.72" transform="translate(94.25,321.00) scale(1.0403,1)">23:00</text>
<text x="0" y="0" font-size="14.72" transform="translate(128.32,321.00) scale(1.0382,1)">00:00</text>
<text x="0" y="0" font-size="14.72" transform="translate(162.32,321.00) scale(1.0382,1)">01:00</text>
<text x="0" y="0" font-size="14.72" transform="translate(196.32,321.00) scale(1.0382,1)">02:00</text>
<text x="0" y="0" font-size="14.72" transform="translate(230.32,321.00) scale(1.0382,1)">03:00</text>
<text x="0" y="0" font-size="14.72" transform="translate(264.32,321.00) scale(1.0382,1)">04:00</text>
<text x="0" y="0" font-size="14.72" transform="translate(298.32,321.00) scale(1.0382,1)">05:00</text>
<text x="0" y="0" font-size="14.72" transform="translate(332.32,321.00) scale(1.0382,1)">06:00</text>
<text x="0" y="0" font-size="14.72" transform="translate(366.32,321.00) scale(1.0382,1)">07:00</text>
<text x="0" y="0" font-size="14.72" transform="translate(44.05,229.90) scale(0.9807,1)">75</text>
<text x="0" y="0" font-size="14.72" transform="translate(43.46,258.90) scale(0.9899,1)">50</text>
<text x="0" y="0" font-size="14.72" transform="translate(43.94,287.90) scale(0.9875,1)">25</text>
<path d="M81.5 300.5v5.3M114.5 300.5v5.3M148.5 300.5v5.3M182.5 300.5v5.3M216.5 300.5v5.3M250.5 300.5v5.3M284.5 300.5v5.3M318.5 300.5v5.3M352.5 300.5v5.3M386.5 300.5v5.3M71.5 224.5h-5.3M71.5 253.5h-5.3M71.5 283.5h-5.3" stroke="#000" stroke-width="1.11" fill="none"/>
<text x="0" y="0" font-size="17.22" transform="translate(156.03,188.90) scale(1.0224,1)">NoRP 2GHz Stokes-I</text>
<text x="0" y="0" font-size="14.72" transform="translate(34.00,249.60) rotate(-90) translate(-35.50,0) scale(1.0192,1)">Flux [SFU]</text>
<rect x="465.5" y="197.5" width="336.0" height="103.0" fill="none" stroke="#000" stroke-width="1.11"/>
<text x="0" y="0" font-size="14.72" transform="translate(454.25,321.00) scale(1.0403,1)">22:00</text>
<text x="0" y="0" font-size="14.72" transform="translate(488.25,321.00) scale(1.0403,1)">23:00</text>
<text x="0" y="0" font-size="14.72" transform="translate(522.32,321.00) scale(1.0382,1)">00:00</text>
<text x="0" y="0" font-size="14.72" transform="translate(556.32,321.00) scale(1.0382,1)">01:00</text>
<text x="0" y="0" font-size="14.72" transform="translate(590.32,321.00) scale(1.0382,1)">02:00</text>
<text x="0" y="0" font-size="14.72" transform="translate(624.32,321.00) scale(1.0382,1)">03:00</text>
<text x="0" y="0" font-size="14.72" transform="translate(658.32,321.00) scale(1.0382,1)">04:00</text>
<text x="0" y="0" font-size="14.72" transform="translate(692.32,321.00) scale(1.0382,1)">05:00</text>
<text x="0" y="0" font-size="14.72" transform="translate(726.32,321.00) scale(1.0382,1)">06:00</text>
<text x="0" y="0" font-size="14.72" transform="translate(760.32,321.00) scale(1.0382,1)">07:00</text>
<text x="0" y="0" font-size="14.72" transform="translate(437.36,238.00) scale(0.9899,1)">50</text>
<text x="0" y="0" font-size="14.72" transform="translate(447.93,305.00) scale(0.9550,1)">0</text>
<path d="M474.5 300.5v5.3M508.5 300.5v5.3M542.5 300.5v5.3M576.5 300.5v5.3M610.5 300.5v5.3M644.5 300.5v5.3M678.5 300.5v5.3M712.5 300.5v5.3M746.5 300.5v5.3M780.5 300.5v5.3M465.5 233.5h-5.3M465.5 300.5h-5.3" stroke="#000" stroke-width="1.11" fill="none"/>
<text x="0" y="0" font-size="17.22" transform="translate(546.44,188.90) scale(1.0199,1)">NoRP 2GHz Stokes-V</text>
<rect x="71.5" y="359.5" width="336.0" height="103.0" fill="none" stroke="#000" stroke-width="1.11"/>
<text x="0" y="0" font-size="14.72" transform="translate(60.25,483.00) scale(1.0403,1)">22:00</text>
<text x="0" y="0" font-size="14.72" transform="translate(94.25,483.00) scale(1.0403,1)">23:00</text>
<text x="0" y="0" font-size="14.72" transform="translate(128.32,483.00) scale(1.0382,1)">00:00</text>
<text x="0" y="0" font-size="14.72" transform="translate(162.32,483.00) scale(1.0382,1)">01:00</text>
<text x="0" y="0" font-size="14.72" transform="translate(196.32,483.00) scale(1.0382,1)">02:00</text>
<text x="0" y="0" font-size="14.72" transform="translate(230.32,483.00) scale(1.0382,1)">03:00</text>
<text x="0" y="0" font-size="14.72" transform="translate(264.32,483.00) scale(1.0382,1)">04:00</text>
<text x="0" y="0" font-size="14.72" transform="translate(298.32,483.00) scale(1.0382,1)">05:00</text>
<text x="0" y="0" font-size="14.72" transform="translate(332.32,483.00) scale(1.0382,1)">06:00</text>
<text x="0" y="0" font-size="14.72" transform="translate(366.32,483.00) scale(1.0382,1)">07:00</text>
<text x="0" y="0" font-size="14.72" transform="translate(35.77,383.00) scale(1.0105,1)">100</text>
<text x="0" y="0" font-size="14.72" transform="translate(43.46,430.20) scale(0.9899,1)">50</text>
<path d="M81.5 462.5v5.3M114.5 462.5v5.3M148.5 462.5v5.3M182.5 462.5v5.3M216.5 462.5v5.3M250.5 462.5v5.3M284.5 462.5v5.3M318.5 462.5v5.3M352.5 462.5v5.3M386.5 462.5v5.3M71.5 377.5h-5.3M71.5 425.5h-5.3" stroke="#000" stroke-width="1.11" fill="none"/>
<text x="0" y="0" font-size="17.22" transform="translate(142.76,350.90) scale(1.0335,1)">NoRP 3.75GHz Stokes-I</text>
<text x="0" y="0" font-size="14.72" transform="translate(24.90,411.60) rotate(-90) translate(-35.50,0) scale(1.0192,1)">Flux [SFU]</text>
<rect x="465.5" y="359.5" width="336.0" height="103.0" fill="none" stroke="#000" stroke-width="1.11"/>
<text x="0" y="0" font-size="14.72" transform="translate(454.25,483.00) scale(1.0403,1)">22:00</text>
<text x="0" y="0" font-size="14.72" transform="translate(488.25,483.00) scale(1.0403,1)">23:00</text>
<text x="0" y="0" font-size="14.72" transform="translate(522.32,483.00) scale(1.0382,1)">00:00</text>
<text x="0" y="0" font-size="14.72" transform="translate(556.32,483.00) scale(1.0382,1)">01:00</text>
<text x="0" y="0" font-size="14.72" transform="translate(590.32,483.00) scale(1.0382,1)">02:00</text>
<text x="0" y="0" font-size="14.72" transform="translate(624.32,483.00) scale(1.0382,1)">03:00</text>
<text x="0" y="0" font-size="14.72" transform="translate(658.32,483.00) scale(1.0382,1)">04:00</text>
<text x="0" y="0" font-size="14.72" transform="translate(692.32,483.00) scale(1.0382,1)">05:00</text>
<text x="0" y="0" font-size="14.72" transform="translate(726.32,483.00) scale(1.0382,1)">06:00</text>
<text x="0" y="0" font-size="14.72" transform="translate(760.32,483.00) scale(1.0382,1)">07:00</text>
<text x="0" y="0" font-size="14.72" transform="translate(438.07,393.10) scale(0.9961,1)">10</text>
<text x="0" y="0" font-size="14.72" transform="translate(447.93,452.10) scale(0.9550,1)">0</text>
<path d="M474.5 462.5v5.3M508.5 462.5v5.3M542.5 462.5v5.3M576.5 462.5v5.3M610.5 462.5v5.3M644.5 462.5v5.3M678.5 462.5v5.3M712.5 462.5v5.3M746.5 462.5v5.3M780.5 462.5v5.3M465.5 387.5h-5.3M465.5 447.5h-5.3" stroke="#000" stroke-width="1.11" fill="none"/>
<text x="0" y="0" font-size="17.22" transform="translate(533.18,350.90) scale(1.0309,1)">NoRP 3.75GHz Stokes-V</text>
<rect x="71.5" y="522.5" width="336.0" height="103.0" fill="none" stroke="#000" stroke-width="1.11"/>
<text x="0" y="0" font-size="14.72" transform="translate(60.25,645.00) scale(1.0403,1)">22:00</text>
<text x="0" y="0" font-size="14.72" transform="translate(94.25,645.00) scale(1.0403,1)">23:00</text>
<text x="0" y="0" font-size="14.72" transform="translate(128.32,645.00) scale(1.0382,1)">00:00</text>
<text x="0" y="0" font-size="14.72" transform="translate(162.32,645.00) scale(1.0382,1)">01:00</text>
<text x="0" y="0" font-size="14.72" transform="translate(196.32,645.00) scale(1.0382,1)">02:00</text>
<text x="0" y="0" font-size="14.72" transform="translate(230.32,645.00) scale(1.0382,1)">03:00</text>
<text x="0" y="0" font-size="14.72" transform="translate(264.32,645.00) scale(1.0382,1)">04:00</text>
<text x="0" y="0" font-size="14.72" transform="translate(298.32,645.00) scale(1.0382,1)">05:00</text>
<text x="0" y="0" font-size="14.72" transform="translate(332.32,645.00) scale(1.0382,1)">06:00</text>
<text x="0" y="0" font-size="14.72" transform="translate(366.32,645.00) scale(1.0382,1)">07:00</text>
<text x="0" y="0" font-size="14.72" transform="translate(35.75,554.80) scale(1.0115,1)">400</text>
<text x="0" y="0" font-size="14.72" transform="translate(36.16,593.20) scale(1.0150,1)">200</text>
<path d="M81.5 625.5v5.3M114.5 625.5v5.3M148.5 625.5v5.3M182.5 625.5v5.3M216.5 625.5v5.3M250.5 625.5v5.3M284.5 625.5v5.3M318.5 625.5v5.3M352.5 625.5v5.3M386.5 625.5v5.3M71.5 549.5h-5.3M71.5 588.5h-5.3" stroke="#000" stroke-width="1.11" fill="none"/>
<text x="0" y="0" font-size="17.22" transform="translate(148.07,512.90) scale(1.0294,1)">NoRP 9.4GHz Stokes-I</text>
<text x="0" y="0" font-size="14.72" transform="translate(24.90,574.60) rotate(-90) translate(-35.50,0) scale(1.0192,1)">Flux [SFU]</text>
<rect x="465.5" y="522.5" width="336.0" height="103.0" fill="none" stroke="#000" stroke-width="1.11"/>
<text x="0" y="0" font-size="14.72" transform="translate(454.25,645.00) scale(1.0403,1)">22:00</text>
<text x="0" y="0" font-size="14.72" transform="translate(488.25,645.00) scale(1.0403,1)">23:00</text>
<text x="0" y="0" font-size="14.72" transform="translate(522.32,645.00) scale(1.0382,1)">00:00</text>
<text x="0" y="0" font-size="14.72" transform="translate(556.32,645.00) scale(1.0382,1)">01:00</text>
<text x="0" y="0" font-size="14.72" transform="translate(590.32,645.00) scale(1.0382,1)">02:00</text>
<text x="0" y="0" font-size="14.72" transform="translate(624.32,645.00) scale(1.0382,1)">03:00</text>
<text x="0" y="0" font-size="14.72" transform="translate(658.32,645.00) scale(1.0382,1)">04:00</text>
<text x="0" y="0" font-size="14.72" transform="translate(692.32,645.00) scale(1.0382,1)">05:00</text>
<text x="0" y="0" font-size="14.72" transform="translate(726.32,645.00) scale(1.0382,1)">06:00</text>
<text x="0" y="0" font-size="14.72" transform="translate(760.32,645.00) scale(1.0382,1)">07:00</text>
<text x="0" y="0" font-size="14.72" transform="translate(430.46,560.00) scale(1.0150,1)">250</text>
<text x="0" y="0" font-size="14.72" transform="translate(447.93,600.40) scale(0.9550,1)">0</text>
<path d="M474.5 625.5v5.3M508.5 625.5v5.3M542.5 625.5v5.3M576.5 625.5v5.3M610.5 625.5v5.3M644.5 625.5v5.3M678.5 625.5v5.3M712.5 625.5v5.3M746.5 625.5v5.3M780.5 625.5v5.3M465.5 555.5h-5.3M465.5 595.5h-5.3" stroke="#000" stroke-width="1.11" fill="none"/>
<text x="0" y="0" font-size="17.22" transform="translate(538.48,512.90) scale(1.0268,1)">NoRP 9.4GHz Stokes-V</text>
<rect x="71.5" y="684.5" width="336.0" height="103.0" fill="none" stroke="#000" stroke-width="1.11"/>
<text x="0" y="0" font-size="14.72" transform="translate(60.25,807.00) scale(1.0403,1)">22:00</text>
<text x="0" y="0" font-size="14.72" transform="translate(94.25,807.00) scale(1.0403,1)">23:00</text>
<text x="0" y="0" font-size="14.72" transform="translate(128.32,807.00) scale(1.0382,1)">00:00</text>
<text x="0" y="0" font-size="14.72" transform="translate(162.32,807.00) scale(1.0382,1)">01:00</text>
<text x="0" y="0" font-size="14.72" transform="translate(196.32,807.00) scale(1.0382,1)">02:00</text>
<text x="0" y="0" font-size="14.72" transform="translate(230.32,807.00) scale(1.0382,1)">03:00</text>
<text x="0" y="0" font-size="14.72" transform="translate(264.32,807.00) scale(1.0382,1)">04:00</text>
<text x="0" y="0" font-size="14.72" transform="translate(298.32,807.00) scale(1.0382,1)">05:00</text>
<text x="0" y="0" font-size="14.72" transform="translate(332.32,807.00) scale(1.0382,1)">06:00</text>
<text x="0" y="0" font-size="14.72" transform="translate(366.32,807.00) scale(1.0382,1)">07:00</text>
<text x="0" y="0" font-size="14.72" transform="translate(35.87,734.10) scale(1.0062,1)">500</text>
<text x="0" y="0" font-size="14.72" transform="translate(53.73,792.00) scale(0.9550,1)">0</text>
<path d="M81.5 787.5v5.3M114.5 787.5v5.3M148.5 787.5v5.3M182.5 787.5v5.3M216.5 787.5v5.3M250.5 787.5v5.3M284.5 787.5v5.3M318.5 787.5v5.3M352.5 787.5v5.3M386.5 787.5v5.3M71.5 729.5h-5.3M71.5 787.5h-5.3" stroke="#000" stroke-width="1.11" fill="none"/>
<text x="0" y="0" font-size="17.22" transform="translate(150.72,674.90) scale(1.0272,1)">NoRP 17GHz Stokes-I</text>
<text x="0" y="0" font-size="14.72" transform="translate(24.90,736.60) rotate(-90) translate(-35.50,0) scale(1.0192,1)">Flux [SFU]</text>
<rect x="465.5" y="684.5" width="336.0" height="103.0" fill="none" stroke="#000" stroke-width="1.11"/>
<text x="0" y="0" font-size="14.72" transform="translate(454.25,807.00) scale(1.0403,1)">22:00</text>
<text x="0" y="0" font-size="14.72" transform="translate(488.25,807.00) scale(1.0403,1)">23:00</text>
<text x="0" y="0" font-size="14.72" transform="translate(522.32,807.00) scale(1.0382,1)">00:00</text>
<text x="0" y="0" font-size="14.72" transform="translate(556.32,807.00) scale(1.0382,1)">01:00</text>
<text x="0" y="0" font-size="14.72" transform="translate(590.32,807.00) scale(1.0382,1)">02:00</text>
<text x="0" y="0" font-size="14.72" transform="translate(624.32,807.00) scale(1.0382,1)">03:00</text>
<text x="0" y="0" font-size="14.72" transform="translate(658.32,807.00) scale(1.0382,1)">04:00</text>
<text x="0" y="0" font-size="14.72" transform="translate(692.32,807.00) scale(1.0382,1)">05:00</text>
<text x="0" y="0" font-size="14.72" transform="translate(726.32,807.00) scale(1.0382,1)">06:00</text>
<text x="0" y="0" font-size="14.72" transform="translate(760.32,807.00) scale(1.0382,1)">07:00</text>
<text x="0" y="0" font-size="14.72" transform="translate(437.46,697.10) scale(0.9899,1)">50</text>
<text x="0" y="0" font-size="14.72" transform="translate(438.24,732.10) scale(0.9875,1)">25</text>
<text x="0" y="0" font-size="14.72" transform="translate(447.93,768.00) scale(0.9550,1)">0</text>
<path d="M474.5 787.5v5.3M508.5 787.5v5.3M542.5 787.5v5.3M576.5 787.5v5.3M610.5 787.5v5.3M644.5 787.5v5.3M678.5 787.5v5.3M712.5 787.5v5.3M746.5 787.5v5.3M780.5 787.5v5.3M465.5 691.5h-5.3M465.5 727.5h-5.3M465.5 762.5h-5.3" stroke="#000" stroke-width="1.11" fill="none"/>
<text x="0" y="0" font-size="17.22" transform="translate(541.13,674.90) scale(1.0247,1)">NoRP 17GHz Stokes-V</text>
<rect x="71.5" y="846.5" width="336.0" height="103.0" fill="none" stroke="#000" stroke-width="1.11"/>
<text x="0" y="0" font-size="14.72" transform="translate(61.20,969.00) scale(1.0068,1)">0.0</text>
<text x="0" y="0" font-size="14.72" transform="translate(128.63,969.00) scale(0.9920,1)">0.2</text>
<text x="0" y="0" font-size="14.72" transform="translate(195.53,969.00) scale(1.0064,1)">0.4</text>
<text x="0" y="0" font-size="14.72" transform="translate(262.77,969.00) scale(1.0129,1)">0.6</text>
<text x="0" y="0" font-size="14.72" transform="translate(330.01,969.00) scale(1.0088,1)">0.8</text>
<text x="0" y="0" font-size="14.72" transform="translate(396.95,969.00) scale(1.0049,1)">1.0</text>
<text x="0" y="0" font-size="14.72" transform="translate(40.18,954.00) scale(1.0068,1)">0.0</text>
<text x="0" y="0" font-size="14.72" transform="translate(40.47,903.00) scale(0.9945,1)">0.5</text>
<text x="0" y="0" font-size="14.72" transform="translate(40.22,851.00) scale(1.0049,1)">1.0</text>
<text x="0" y="0" font-size="29.43" transform="translate(188.95,907.00) scale(1.0201,1)">No Data</text>
<path d="M71.5 949.5v5.3M138.5 949.5v5.3M205.5 949.5v5.3M273.5 949.5v5.3M340.5 949.5v5.3M407.5 949.5v5.3M71.5 949.5h-5.3M71.5 898.5h-5.3M71.5 846.5h-5.3" stroke="#000" stroke-width="1.11" fill="none"/>
<text x="0" y="0" font-size="17.22" transform="translate(150.72,836.90) scale(1.0272,1)">NoRP 35GHz Stokes-I</text>
<text x="0" y="0" font-size="14.72" transform="translate(29.90,898.60) rotate(-90) translate(-35.50,0) scale(1.0192,1)">Flux [SFU]</text>
<rect x="465.5" y="846.5" width="336.0" height="103.0" fill="none" stroke="#000" stroke-width="1.11"/>
<text x="0" y="0" font-size="14.72" transform="translate(455.20,969.00) scale(1.0068,1)">0.0</text>
<text x="0" y="0" font-size="14.72" transform="translate(522.63,969.00) scale(0.9920,1)">0.2</text>
<text x="0" y="0" font-size="14.72" transform="translate(589.53,969.00) scale(1.0064,1)">0.4</text>
<text x="0" y="0" font-size="14.72" transform="translate(656.77,969.00) scale(1.0129,1)">0.6</text>
<text x="0" y="0" font-size="14.72" transform="translate(724.01,969.00) scale(1.0088,1)">0.8</text>
<text x="0" y="0" font-size="14.72" transform="translate(790.95,969.00) scale(1.0049,1)">1.0</text>
<text x="0" y="0" font-size="14.72" transform="translate(434.18,954.00) scale(1.0068,1)">0.0</text>
<text x="0" y="0" font-size="14.72" transform="translate(434.47,903.00) scale(0.9945,1)">0.5</text>
<text x="0" y="0" font-size="14.72" transform="translate(434.22,851.00) scale(1.0049,1)">1.0</text>
<text x="0" y="0" font-size="29.43" transform="translate(582.25,907.00) scale(1.0201,1)">No Data</text>
<path d="M465.5 949.5v5.3M532.5 949.5v5.3M599.5 949.5v5.3M667.5 949.5v5.3M734.5 949.5v5.3M801.5 949.5v5.3M465.5 949.5h-5.3M465.5 898.5h-5.3M465.5 846.5h-5.3" stroke="#000" stroke-width="1.11" fill="none"/>
<text x="0" y="0" font-size="17.22" transform="translate(541.13,836.90) scale(1.0247,1)">NoRP 35GHz Stokes-V</text>
<rect x="71.5" y="1008.5" width="336.0" height="103.0" fill="none" stroke="#000" stroke-width="1.11"/>
<text x="0" y="0" font-size="14.72" transform="translate(61.20,1131.00) scale(1.0068,1)">0.0</text>
<text x="0" y="0" font-size="14.72" transform="translate(128.63,1131.00) scale(0.9920,1)">0.2</text>
<text x="0" y="0" font-size="14.72" transform="translate(195.53,1131.00) scale(1.0064,1)">0.4</text>
<text x="0" y="0" font-size="14.72" transform="translate(262.77,1131.00) scale(1.0129,1)">0.6</text>
<text x="0" y="0" font-size="14.72" transform="translate(330.01,1131.00) scale(1.0088,1)">0.8</text>
<text x="0" y="0" font-size="14.72" transform="translate(396.95,1131.00) scale(1.0049,1)">1.0</text>
<text x="0" y="0" font-size="14.72" transform="translate(40.18,1116.00) scale(1.0068,1)">0.0</text>
<text x="0" y="0" font-size="14.72" transform="translate(40.47,1065.00) scale(0.9945,1)">0.5</text>
<text x="0" y="0" font-size="14.72" transform="translate(40.22,1013.00) scale(1.0049,1)">1.0</text>
<text x="0" y="0" font-size="29.43" transform="translate(188.95,1069.17) scale(1.0201,1)">No Data</text>
<path d="M71.5 1111.5v5.3M138.5 1111.5v5.3M205.5 1111.5v5.3M273.5 1111.5v5.3M340.5 1111.5v5.3M407.5 1111.5v5.3M71.5 1111.5h-5.3M71.5 1060.5h-5.3M71.5 1008.5h-5.3" stroke="#000" stroke-width="1.11" fill="none"/>
<text x="0" y="0" font-size="17.22" transform="translate(150.72,998.90) scale(1.0272,1)">NoRP 80GHz Stokes-I</text>
<text x="0" y="0" font-size="14.72" transform="translate(29.90,1060.60) rotate(-90) translate(-35.50,0) scale(1.0192,1)">Flux [SFU]</text>
<text x="0" y="0" font-size="14.72" transform="translate(206.72,1150.80) scale(1.0614,1)">Time[UT]</text>
<rect x="465.5" y="1008.5" width="336.0" height="103.0" fill="none" stroke="#000" stroke-width="1.11"/>
<text x="0" y="0" font-size="14.72" transform="translate(455.20,1131.00) scale(1.0068,1)">0.0</text>
<text x="0" y="0" font-size="14.72" transform="translate(522.63,1131.00) scale(0.9920,1)">0.2</text>
<text x="0" y="0" font-size="14.72" transform="translate(589.53,1131.00) scale(1.0064,1)">0.4</text>
<text x="0" y="0" font-size="14.72" transform="translate(656.77,1131.00) scale(1.0129,1)">0.6</text>
<text x="0" y="0" font-size="14.72" transform="translate(724.01,1131.00) scale(1.0088,1)">0.8</text>
<text x="0" y="0" font-size="14.72" transform="translate(790.95,1131.00) scale(1.0049,1)">1.0</text>
<text x="0" y="0" font-size="14.72" transform="translate(434.18,1116.00) scale(1.0068,1)">0.0</text>
<text x="0" y="0" font-size="14.72" transform="translate(434.47,1065.00) scale(0.9945,1)">0.5</text>
<text x="0" y="0" font-size="14.72" transform="translate(434.22,1013.00) scale(1.0049,1)">1.0</text>
<text x="0" y="0" font-size="29.43" transform="translate(582.25,1069.17) scale(1.0201,1)">No Data</text>
<path d="M465.5 1111.5v5.3M532.5 1111.5v5.3M599.5 1111.5v5.3M667.5 1111.5v5.3M734.5 1111.5v5.3M801.5 1111.5v5.3M465.5 1111.5h-5.3M465.5 1060.5h-5.3M465.5 1008.5h-5.3" stroke="#000" stroke-width="1.11" fill="none"/>
<text x="0" y="0" font-size="17.22" transform="translate(541.13,998.90) scale(1.0247,1)">NoRP 80GHz Stokes-V</text>
<text x="0" y="0" font-size="14.72" transform="translate(600.72,1150.80) scale(1.0614,1)">Time[UT]</text>
</svg></body></html>
